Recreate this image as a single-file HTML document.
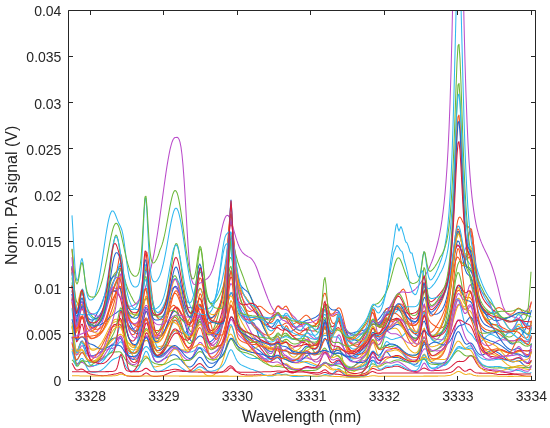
<!DOCTYPE html><html><head><meta charset="utf-8"><style>html,body{margin:0;padding:0;background:#fff;width:550px;height:428px;overflow:hidden}</style></head><body><svg width="550" height="428" viewBox="0 0 550 428" style="position:absolute;left:0;top:0"><defs><clipPath id="c"><rect x="68.5" y="10.4" width="466.79999999999995" height="369.6"/></clipPath></defs><g clip-path="url(#c)" fill="none" stroke-width="1.05" stroke-linejoin="round"><path stroke="#1F66D0" d="M72 336.7l1.2 4.7 1.1 6.2 1.2 3.7 1.1 0.5 1.2 -1.9 1.1 -3.1 1.2 -3.2 1.1 -2.3 1.2 -0.4 1.1 1.8 1.2 3 1.1 3.3 1.2 2.8 1.1 2.1 1.2 1.2 1.1 0.6 1.2 0.1 1.1 -0.1 1.2 -0.3 1.2 -0.4 1.1 -0.5 1.2 -0.6 1.1 -0.7 1.2 -0.7 1.1 -0.9 1.2 -1 1.1 -1.2 1.2 -1.3 1.1 -1.4 1.2 -1.6 1.1 -1.5 1.2 -1.6 1.1 -1.3 1.2 -1.2 1.1 -0.8 1.2 -0.5 1.1 -0.1 1.2 0 1.1 0 1.2 -0.2 1.1 -0.1 1.2 0.4 1.1 1.6 1.2 2.9 1.1 3.5 1.2 3.6 1.1 3 1.2 2.3 1.1 1.6 1.2 1.2 1.1 0.7 1.2 0.5 1.1 0.3 1.2 0.2 1.1 -0.2 1.2 -0.5 1.2 -1 1.1 -1.7 1.2 -2.5 1.1 -3.3 1.2 -4 1.1 -4.2 1.2 -3.5 1.1 -2 1.2 0.3 1.1 2.6 1.2 4.2 1.1 4.6 1.2 4.4 1.1 3.6 1.2 2.7 1.1 1.7 1.2 1 1.1 0.3 1.2 -0.1 1.1 -0.5 1.2 -0.6 1.1 -0.8 1.2 -0.7 1.1 -0.6 1.2 -0.6 1.1 -0.6 1.2 -0.5 1.1 -0.6 1.2 -0.6 1.1 -0.5 1.2 -0.5 1.1 -0.2 1.2 0 1.1 0.4 1.2 0.6 1.1 1 1.2 1.2 1.1 1.3 1.2 1.3 1.2 1.4 1.1 1.3 1.2 1.2 1.1 1 1.2 0.8 1.1 0.5 1.2 0.3 1.1 -0.1 1.2 -0.6 1.1 -0.9 1.2 -1.3 1.1 -1.7 1.2 -1.8 1.1 -1.6 1.2 -1.3 1.1 -0.4 1.2 0.4 1.1 1.2 1.2 1.7 1.1 1.8 1.2 1.7 1.1 1.5 1.2 1.1 1.1 0.7 1.2 0.2 1.1 -0.2 1.2 -0.5 1.1 -0.8 1.2 -1.1 1.1 -1.4 1.2 -1.6 1.1 -1.9 1.2 -2.2 1.1 -2.5 1.2 -2.9 1.1 -3.3 1.2 -3.9 1.2 -4.6 1.1 -5.3 1.2 -5.6 1.1 -5.4 1.2 -4.5 1.1 -2.5 1.2 -0.3 1.1 1.4 1.2 2.4 1.1 2.6 1.2 2.4 1.1 2.1 1.2 1.7 1.1 1.5 1.2 1.5 1.1 1.4 1.2 1.5 1.1 1.5 1.2 1.5 1.1 1.4 1.2 1.5 1.1 1.3 1.2 1.2 1.1 1.1 1.2 1 1.1 0.9 1.2 0.8 1.1 0.8 1.2 0.7 1.1 0.7 1.2 0.9 1.1 0.9 1.2 1 1.1 1 1.2 1.1 1.1 1 1.2 1 1.1 0.8 1.2 0.8 1.2 0.6 1.1 0.5 1.2 0.2 1.1 -0.2 1.2 -0.6 1.1 -0.8 1.2 -0.6 1.1 0.2 1.2 1.1 1.1 1.5 1.2 1.5 1.1 1.1 1.2 0.7 1.1 0.6 1.2 0.5 1.1 0.8 1.2 0.9 1.1 0.8 1.2 0.8 1.1 0.6 1.2 0.5 1.1 0.3 1.2 0.3 1.1 0.1 1.2 0.1 1.1 -0.1 1.2 -0.2 1.1 -0.3 1.2 -0.5 1.1 -0.6 1.2 -0.5 1.1 -0.4 1.2 -0.2 1.1 0.2 1.2 0.3 1.1 0.3 1.2 0.3 1.2 0.3 1.1 0.1 1.2 0 1.1 -0.1 1.2 -0.3 1.1 -0.5 1.2 -0.8 1.1 -1 1.2 -1.2 1.1 -1.3 1.2 -0.9 1.1 -0.3 1.2 0.5 1.1 0.9 1.2 1 1.1 0.7 1.2 0.3 1.1 -0.2 1.2 -0.6 1.1 -1 1.2 -1.1 1.1 -1 1.2 -0.7 1.1 0 1.2 0.5 1.1 1 1.2 1.2 1.1 1.3 1.2 1.1 1.1 1 1.2 0.7 1.1 0.5 1.2 0.2 1.1 0.1 1.2 0 1.1 -0.1 1.2 -0.3 1.1 -0.2 1.2 -0.4 1.2 -0.3 1.1 -0.4 1.2 -0.4 1.1 -0.4 1.2 -0.4 1.1 -0.3 1.2 -0.4 1.1 -0.5 1.2 -0.5 1.1 -0.8 1.2 -0.8 1.1 -1 1.2 -0.9 1.1 -0.3 1.2 0.3 1.1 0.9 1.2 0.9 1.1 0.8 1.2 0.3 1.1 -0.4 1.2 -1.2 1.1 -2 1.2 -2.6 1.1 -2.8 1.2 -2.2 1.1 -0.8 1.2 0.8 1.1 1.5 1.2 1.6 1.1 1.2 1.2 0.6 1.1 0.3 1.2 0 1.1 -0.1 1.2 0 1.1 0.2 1.2 0.2 1.2 0.4 1.1 0.5 1.2 0.6 1.1 0.7 1.2 0.6 1.1 0.7 1.2 0.6 1.1 0.6 1.2 0.5 1.1 0.4 1.2 0.4 1.1 0.3 1.2 0.2 1.1 0 1.2 -0.3 1.1 -0.9 1.2 -1.8 1.1 -3.3 1.2 -4.7 1.1 -5.5 1.2 -4.7 1.1 -1.4 1.2 2.6 1.1 5 1.2 5.1 1.1 3.9 1.2 2.5 1.1 1.3 1.2 0.6 1.1 0.2 1.2 0.1 1.1 0.1 1.2 0.1 1.1 0 1.2 0.1 1.1 0 1.2 -0.1 1.1 -0.2 1.2 -0.4 1.2 -0.6 1.1 -1 1.2 -1.5 1.1 -2 1.2 -2.6 1.1 -3.3 1.2 -3.7 1.1 -4.1 1.2 -4.1 1.1 -3.7 1.2 -2.8 1.1 -1.5 1.2 0.1 1.1 1.5 1.2 2.4 1.1 2.6 1.2 2.5 1.1 2 1.2 1.1 1.1 0.3 1.2 -0.4 1.1 -0.5 1.2 -0.4 1.1 0.4 1.2 1.1 1.1 1.9 1.2 2.1 1.1 2.1 1.2 1.7 1.1 1.4 1.2 0.8 1.1 0.5 1.2 0 1.1 -0.2 1.2 -0.5 1.1 -0.6 1.2 -0.8 1.2 -0.7 1.1 -0.6 1.2 -0.5 1.1 -0.3 1.2 0 1.1 0.1 1.2 0.3 1.1 0.3 1.2 0.6 1.1 0.6 1.2 0.8 1.1 0.8 1.2 1 1.1 1 1.2 0.9 1.1 1 1.2 0.9 1.1 0.8 1.2 0.7 1.1 0.6 1.2 0.5 1.1 0.2 1.2 0.1 1.1 -0.2 1.2 -0.3 1.1 -0.3 1.2 -0.3 1.1 0.1 1.2 0.5 1.1 1 1.2 1.1 1.1 1.1 1.2 1.1 1.1 0.8 1.2 0.6 1.1 0.5 1.2 0.1 1.1 -0.3 1.2 -0.6"/><path stroke="#F5561C" d="M72 301.8l1.2 8.6 1.1 11.5 1.2 7.5 1.1 2.1 1.2 -2 1.1 -3.9 1.2 -4.3 1.1 -3 1.2 -0.5 1.1 2.2 1.2 4 1.1 4.3 1.2 3.8 1.1 2.8 1.2 1.8 1.1 1 1.2 0.5 1.1 0 1.2 -0.1 1.2 -0.3 1.1 -0.5 1.2 -0.6 1.1 -0.8 1.2 -0.9 1.1 -1.3 1.2 -1.4 1.1 -1.7 1.2 -2.1 1.1 -2.2 1.2 -2.6 1.1 -2.8 1.2 -3 1.1 -3 1.2 -3.1 1.1 -3.3 1.2 -3.6 1.1 -4.1 1.2 -4.9 1.1 -5.2 1.2 -4 1.1 -0.9 1.2 3.3 1.1 6.4 1.2 8.5 1.1 8.8 1.2 7.9 1.1 6.6 1.2 5.2 1.1 4.1 1.2 3 1.1 2.3 1.2 1.7 1.1 1.3 1.2 0.7 1.1 0.2 1.2 -0.6 1.2 -1.4 1.1 -2.4 1.2 -3.7 1.1 -5 1.2 -5.9 1.1 -6.3 1.2 -5.4 1.1 -3.4 1.2 -0.3 1.1 2.7 1.2 4.9 1.1 5.6 1.2 5.4 1.1 4.6 1.2 3.4 1.1 2.3 1.2 1.2 1.1 0.5 1.2 -0.1 1.1 -0.6 1.2 -1 1.1 -1.6 1.2 -1.9 1.1 -2.3 1.2 -2.7 1.1 -3.1 1.2 -3.4 1.1 -3.5 1.2 -3.5 1.1 -3.3 1.2 -3 1.1 -2.5 1.2 -1.7 1.1 -0.8 1.2 0 1.1 0.8 1.2 1.4 1.1 1.7 1.2 2 1.2 2.1 1.1 2.1 1.2 1.9 1.1 1.6 1.2 1.4 1.1 0.9 1.2 0.4 1.1 -0.4 1.2 -1.1 1.1 -2.1 1.2 -2.8 1.1 -3.5 1.2 -3.7 1.1 -3.2 1.2 -1.9 1.1 0.1 1.2 2.5 1.1 4.6 1.2 5.9 1.1 6.4 1.2 6.2 1.1 5.4 1.2 4.6 1.1 3.4 1.2 2.5 1.1 1.6 1.2 0.8 1.1 0.2 1.2 -0.4 1.1 -0.8 1.2 -1.3 1.1 -1.7 1.2 -2.1 1.1 -2.4 1.2 -2.9 1.1 -3.3 1.2 -3.9 1.2 -4.6 1.1 -5.1 1.2 -5.4 1.1 -5 1.2 -3.6 1.1 -1.4 1.2 1.4 1.1 3.4 1.2 4.5 1.1 4.6 1.2 4.3 1.1 3.6 1.2 3.1 1.1 2.5 1.2 2.1 1.1 1.8 1.2 1.6 1.1 1.3 1.2 1.2 1.1 0.8 1.2 0.8 1.1 0.4 1.2 0.2 1.1 0.1 1.2 -0.1 1.1 -0.2 1.2 -0.3 1.1 -0.4 1.2 -0.3 1.1 -0.3 1.2 -0.1 1.1 0 1.2 0.2 1.1 0.3 1.2 0.3 1.1 0.6 1.2 0.5 1.1 0.5 1.2 0.4 1.2 0.4 1.1 0.2 1.2 0 1.1 -0.2 1.2 -0.6 1.1 -0.9 1.2 -1 1.1 -0.8 1.2 -0.7 1.1 -1.1 1.2 -2.1 1.1 -3.1 1.2 -3.7 1.1 -3.1 1.2 -1.4 1.1 0.9 1.2 2.4 1.1 2.6 1.2 2.1 1.1 1.3 1.2 0.7 1.1 0.1 1.2 -0.2 1.1 -0.4 1.2 -0.5 1.1 -0.5 1.2 -0.7 1.1 -0.8 1.2 -0.9 1.1 -0.9 1.2 -0.9 1.1 -1 1.2 -0.7 1.1 -0.6 1.2 -0.4 1.1 -0.3 1.2 -0.4 1.2 -0.4 1.1 -0.6 1.2 -0.6 1.1 -0.8 1.2 -1.1 1.1 -1.4 1.2 -1.9 1.1 -2.3 1.2 -2.6 1.1 -2.6 1.2 -2 1.1 -0.8 1.2 0.5 1.1 1.2 1.2 1.5 1.1 1.1 1.2 0.5 1.1 -0.1 1.2 -0.8 1.1 -1.1 1.2 -1.5 1.1 -1.6 1.2 -1.1 1.1 -0.2 1.2 1 1.1 2.5 1.2 4 1.1 4.8 1.2 5 1.1 4.8 1.2 4.2 1.1 3.3 1.2 2.6 1.1 1.9 1.2 1.4 1.1 0.9 1.2 0.5 1.1 0.2 1.2 -0.1 1.2 -0.4 1.1 -0.5 1.2 -0.9 1.1 -1 1.2 -1 1.1 -1.2 1.2 -1.4 1.1 -1.7 1.2 -2 1.1 -2.5 1.2 -3 1.1 -3.2 1.2 -3 1.1 -2.1 1.2 -0.6 1.1 0.5 1.2 0.9 1.1 0.7 1.2 0.2 1.1 -0.3 1.2 -0.8 1.1 -1.1 1.2 -1.3 1.1 -1.3 1.2 -1.3 1.1 -0.9 1.2 -0.7 1.1 -0.4 1.2 -0.3 1.1 -0.4 1.2 -0.3 1.1 -0.1 1.2 -0.1 1.1 0.3 1.2 0.4 1.1 0.8 1.2 1 1.2 1.1 1.1 1.3 1.2 1.4 1.1 1.2 1.2 1.2 1.1 1 1.2 0.8 1.1 0.7 1.2 0.5 1.1 0.3 1.2 0.1 1.1 -0.1 1.2 -0.3 1.1 -0.3 1.2 -0.6 1.1 -0.8 1.2 -1.4 1.1 -2 1.2 -2.7 1.1 -3 1.2 -2.5 1.1 -0.7 1.2 1.3 1.1 2.6 1.2 2.7 1.1 2.4 1.2 1.7 1.1 1.4 1.2 1 1.1 0.9 1.2 0.8 1.1 0.7 1.2 0.7 1.1 0.5 1.2 0.3 1.1 0 1.2 -0.2 1.1 -0.6 1.2 -0.9 1.2 -1.3 1.1 -1.7 1.2 -2.2 1.1 -2.7 1.2 -3.2 1.1 -3.7 1.2 -4 1.1 -4.2 1.2 -4 1.1 -3.7 1.2 -3 1.1 -1.8 1.2 -0.6 1.1 0.7 1.2 1.4 1.1 1.8 1.2 1.6 1.1 1.2 1.2 0.7 1.1 0.2 1.2 -0.2 1.1 -0.1 1.2 0.5 1.1 1.5 1.2 2.6 1.1 3.6 1.2 3.9 1.1 3.9 1.2 3.6 1.1 3.1 1.2 2.5 1.1 2.1 1.2 1.5 1.1 1.2 1.2 0.9 1.1 0.8 1.2 0.5 1.2 0.4 1.1 0.3 1.2 0.3 1.1 0.2 1.2 0.2 1.1 0.2 1.2 0.3 1.1 0.4 1.2 0.5 1.1 0.6 1.2 0.8 1.1 0.8 1.2 1 1.1 1 1.2 1 1.1 0.9 1.2 0.8 1.1 0.7 1.2 0.4 1.1 0.4 1.2 0.2 1.1 0 1.2 -0.1 1.1 -0.3 1.2 -0.5 1.1 -0.6 1.2 -0.5 1.1 -0.1 1.2 0.2 1.1 0.5 1.2 0.6 1.1 0.6 1.2 0.5 1.1 0.3 1.2 0.1 1.1 -0.2 1.2 -0.8 1.1 -1.8 1.2 -2.6"/><path stroke="#F2B01E" d="M72 322.4l1.2 8.8 1.1 11.9 1.2 8.2 1.1 3.3 1.2 0 1.1 -1.4 1.2 -1.8 1.1 -1.2 1.2 0 1.1 1.4 1.2 2.2 1.1 2.4 1.2 2.1 1.1 1.5 1.2 0.9 1.1 0.5 1.2 0.1 1.1 -0.2 1.2 -0.4 1.2 -0.6 1.1 -0.8 1.2 -1 1.1 -1.3 1.2 -1.5 1.1 -1.8 1.2 -2.2 1.1 -2.5 1.2 -2.9 1.1 -3.2 1.2 -3.5 1.1 -3.7 1.2 -3.7 1.1 -3.6 1.2 -3.3 1.1 -2.6 1.2 -1.9 1.1 -1 1.2 -0.4 1.1 0 1.2 0.2 1.1 0.6 1.2 1.3 1.1 2.6 1.2 4.1 1.1 4.8 1.2 4.6 1.1 3.9 1.2 3.2 1.1 2.7 1.2 2.4 1.1 2.2 1.2 2.3 1.1 2.1 1.2 1.9 1.1 1.5 1.2 1.3 1.2 0.8 1.1 0.3 1.2 -0.3 1.1 -0.9 1.2 -1.3 1.1 -1.5 1.2 -1.3 1.1 -0.6 1.2 0.5 1.1 1.5 1.2 2.1 1.1 2.2 1.2 1.9 1.1 1.5 1.2 0.8 1.1 0.3 1.2 -0.1 1.1 -0.3 1.2 -0.3 1.1 -0.3 1.2 -0.2 1.1 -0.3 1.2 -0.6 1.1 -0.9 1.2 -1.2 1.1 -1.7 1.2 -1.9 1.1 -2 1.2 -2.1 1.1 -2 1.2 -1.8 1.1 -1.3 1.2 -0.7 1.1 0 1.2 0.6 1.1 1.2 1.2 1.7 1.1 2.1 1.2 2.2 1.2 2.2 1.1 2.1 1.2 2.1 1.1 1.8 1.2 1.7 1.1 1.4 1.2 1.1 1.1 0.9 1.2 0.5 1.1 0.2 1.2 -0.1 1.1 -0.2 1.2 -0.4 1.1 -0.4 1.2 -0.3 1.1 0.1 1.2 0.6 1.1 0.9 1.2 1.1 1.1 1.2 1.2 1.1 1.1 0.7 1.2 0.4 1.1 0.1 1.2 0.1 1.1 -0.2 1.2 -0.2 1.1 -0.5 1.2 -0.8 1.1 -1.1 1.2 -1.4 1.1 -1.5 1.2 -1.8 1.1 -2.1 1.2 -2.5 1.1 -3.1 1.2 -3.9 1.2 -4.8 1.1 -5.7 1.2 -6.3 1.1 -6.2 1.2 -4.9 1.1 -2.5 1.2 0.4 1.1 2.7 1.2 3.8 1.1 3.8 1.2 3.2 1.1 2.4 1.2 1.8 1.1 1.2 1.2 0.9 1.1 0.7 1.2 0.7 1.1 0.7 1.2 0.6 1.1 0.6 1.2 0.7 1.1 0.5 1.2 0.5 1.1 0.4 1.2 0.4 1.1 0.3 1.2 0.4 1.1 0.4 1.2 0.4 1.1 0.7 1.2 0.8 1.1 1 1.2 1.2 1.1 1.3 1.2 1.3 1.1 1.3 1.2 1.3 1.1 1.2 1.2 1 1.2 0.8 1.1 0.6 1.2 0.3 1.1 -0.1 1.2 -0.4 1.1 -0.7 1.2 -0.6 1.1 -0.2 1.2 0.2 1.1 0.4 1.2 0 1.1 -0.3 1.2 -0.6 1.1 -0.5 1.2 -0.2 1.1 0.5 1.2 0.9 1.1 1 1.2 0.8 1.1 0.7 1.2 0.4 1.1 0.4 1.2 0.2 1.1 0.1 1.2 0.1 1.1 0 1.2 -0.1 1.1 -0.3 1.2 -0.2 1.1 -0.4 1.2 -0.3 1.1 -0.3 1.2 0 1.1 0.1 1.2 0.2 1.1 0.3 1.2 0.2 1.2 0.2 1.1 0.1 1.2 0 1.1 -0.1 1.2 -0.2 1.1 -0.5 1.2 -0.7 1.1 -0.9 1.2 -1.2 1.1 -1.2 1.2 -0.8 1.1 -0.2 1.2 0.7 1.1 1.2 1.2 1.4 1.1 1.3 1.2 0.9 1.1 0.7 1.2 0.3 1.1 0.2 1.2 0.1 1.1 0.1 1.2 0.1 1.1 0.3 1.2 0.5 1.1 0.5 1.2 0.5 1.1 0.5 1.2 0.4 1.1 0.3 1.2 0.2 1.1 0 1.2 0 1.1 -0.2 1.2 -0.3 1.1 -0.3 1.2 -0.5 1.1 -0.5 1.2 -0.7 1.2 -0.7 1.1 -0.7 1.2 -0.9 1.1 -1 1.2 -1 1.1 -1.1 1.2 -1.3 1.1 -1.7 1.2 -2.3 1.1 -3.2 1.2 -4.1 1.1 -4.5 1.2 -3.8 1.1 -1.9 1.2 0.9 1.1 3.1 1.2 3.9 1.1 3.5 1.2 2.4 1.1 1.2 1.2 0.2 1.1 -0.6 1.2 -1.2 1.1 -1.4 1.2 -1.4 1.1 -0.9 1.2 -0.3 1.1 -0.1 1.2 -0.1 1.1 -0.2 1.2 -0.3 1.1 -0.3 1.2 -0.3 1.1 -0.2 1.2 0.2 1.1 0.4 1.2 0.6 1.2 0.8 1.1 0.9 1.2 1.1 1.1 1.1 1.2 1 1.1 1 1.2 0.9 1.1 0.8 1.2 0.8 1.1 0.6 1.2 0.6 1.1 0.4 1.2 0.5 1.1 0.3 1.2 0.2 1.1 -0.1 1.2 -0.4 1.1 -1.1 1.2 -1.8 1.1 -2.2 1.2 -1.8 1.1 -0.6 1.2 1.1 1.1 2.1 1.2 2 1.1 1.4 1.2 0.6 1.1 0.1 1.2 -0.3 1.1 -0.6 1.2 -0.6 1.1 -0.8 1.2 -0.8 1.1 -0.9 1.2 -0.9 1.1 -1 1.2 -1.2 1.1 -1.4 1.2 -1.5 1.2 -2 1.1 -2.5 1.2 -3.2 1.1 -3.8 1.2 -4.6 1.1 -5.4 1.2 -6.1 1.1 -6.4 1.2 -6.3 1.1 -5.7 1.2 -4.3 1.1 -2.5 1.2 -0.3 1.1 1.4 1.2 2.5 1.1 2.6 1.2 1.8 1.1 0.2 1.2 -1.4 1.1 -3.1 1.2 -3.9 1.1 -3.7 1.2 -1.9 1.1 1.1 1.2 4.4 1.1 7 1.2 8.1 1.1 8.1 1.2 7.4 1.1 6.1 1.2 4.7 1.1 3.5 1.2 2.6 1.1 1.8 1.2 1.3 1.1 1.1 1.2 0.8 1.2 0.8 1.1 0.6 1.2 0.6 1.1 0.6 1.2 0.5 1.1 0.5 1.2 0.5 1.1 0.5 1.2 0.6 1.1 0.7 1.2 0.9 1.1 0.9 1.2 1 1.1 1.1 1.2 1.1 1.1 1 1.2 1 1.1 0.9 1.2 0.7 1.1 0.6 1.2 0.5 1.1 0.3 1.2 0 1.1 -0.1 1.2 -0.2 1.1 -0.3 1.2 -0.4 1.1 -0.2 1.2 -0.1 1.1 0.1 1.2 0.2 1.1 0.1 1.2 0.2 1.1 0 1.2 0 1.1 -0.2 1.2 -0.7 1.1 -1.7 1.2 -2.6"/><path stroke="#BA4DCB" d="M72 293.9l1.2 10.8 1.1 14.1 1.2 8.8 1.1 1.9 1.2 -3.1 1.1 -5.8 1.2 -6.5 1.1 -5.1 1.2 -2 1.1 1.5 1.2 3.7 1.1 4.4 1.2 4.1 1.1 3.5 1.2 2.9 1.1 2.1 1.2 1.5 1.1 1.1 1.2 0.5 1.2 -0.1 1.1 -0.4 1.2 -1 1.1 -1.4 1.2 -1.8 1.1 -2.2 1.2 -2.7 1.1 -3 1.2 -3.4 1.1 -3.8 1.2 -4 1.1 -4.2 1.2 -4.1 1.1 -4 1.2 -3.5 1.1 -2.8 1.2 -2.3 1.1 -1.8 1.2 -1.9 1.1 -2.4 1.2 -3.1 1.1 -3 1.2 -1.2 1.1 3 1.2 7.6 1.1 10.3 1.2 10.3 1.1 8.7 1.2 6.3 1.1 4.2 1.2 2.3 1.1 1.3 1.2 0.5 1.1 0 1.2 -0.3 1.1 -0.9 1.2 -1.2 1.2 -1.7 1.1 -2.4 1.2 -3.2 1.1 -3.9 1.2 -4.8 1.1 -4.8 1.2 -4.2 1.1 -2.8 1.2 -0.5 1.1 1.7 1.2 3.1 1.1 3.6 1.2 3.4 1.1 2.6 1.2 1.8 1.1 1 1.2 0.2 1.1 -0.3 1.2 -0.7 1.1 -1.1 1.2 -1.4 1.1 -1.6 1.2 -1.8 1.1 -2.2 1.2 -2.4 1.1 -2.5 1.2 -2.6 1.1 -2.8 1.2 -2.7 1.1 -2.4 1.2 -1.9 1.1 -1.4 1.2 -0.5 1.1 0.4 1.2 1.3 1.1 2 1.2 2.5 1.1 2.7 1.2 2.8 1.2 2.5 1.1 2.1 1.2 1.7 1.1 1.2 1.2 0.8 1.1 0.4 1.2 0.1 1.1 0 1.2 -0.1 1.1 0.1 1.2 0.1 1.1 0.3 1.2 0.4 1.1 0.7 1.2 1.4 1.1 2.3 1.2 3.4 1.1 4.3 1.2 4.7 1.1 4.7 1.2 4.3 1.1 3.6 1.2 2.7 1.1 1.8 1.2 1 1.1 0.3 1.2 -0.5 1.1 -1.1 1.2 -1.6 1.1 -2.2 1.2 -2.8 1.1 -3.3 1.2 -4 1.1 -4.7 1.2 -5.6 1.1 -7 1.2 -8.8 1.2 -10.9 1.1 -12.9 1.2 -14.3 1.1 -13.7 1.2 -10.5 1.1 -4.5 1.2 2.6 1.1 7.9 1.2 10.6 1.1 10.6 1.2 9.3 1.1 7.2 1.2 5.4 1.1 4 1.2 3.1 1.1 2.4 1.2 2.1 1.1 1.8 1.2 1.7 1.1 1.5 1.2 1.4 1.1 1.2 1.2 1.1 1.1 1 1.2 0.8 1.1 0.8 1.2 0.7 1.1 0.6 1.2 0.6 1.1 0.7 1.2 0.7 1.1 0.7 1.2 0.7 1.1 0.6 1.2 0.7 1.1 0.5 1.2 0.2 1.1 0.1 1.2 -0.2 1.2 -0.4 1.1 -0.8 1.2 -1.2 1.1 -1.8 1.2 -2.3 1.1 -2.7 1.2 -2.3 1.1 -1.1 1.2 0.4 1.1 1.1 1.2 1.1 1.1 0.7 1.2 0.3 1.1 0.1 1.2 0.2 1.1 0.6 1.2 1 1.1 1.1 1.2 1.1 1.1 1.2 1.2 1.2 1.1 1 1.2 1.4 1.1 1.3 1.2 1.5 1.1 1.6 1.2 1.4 1.1 1.4 1.2 1.2 1.1 1.1 1.2 1.1 1.1 1.1 1.2 1.3 1.1 1.4 1.2 1.6 1.1 1.4 1.2 1.1 1.2 1 1.1 0.7 1.2 0.4 1.1 0 1.2 -0.3 1.1 -0.9 1.2 -1.6 1.1 -2.2 1.2 -2.9 1.1 -2.9 1.2 -2.4 1.1 -0.9 1.2 0.8 1.1 1.9 1.2 2.1 1.1 1.5 1.2 0.5 1.1 -0.7 1.2 -1.6 1.1 -2.4 1.2 -2.5 1.1 -2.3 1.2 -1.5 1.1 -0.1 1.2 1.3 1.1 2.6 1.2 3.1 1.1 3.3 1.2 3.1 1.1 2.6 1.2 2.2 1.1 1.6 1.2 1.2 1.1 0.8 1.2 0.5 1.1 0.3 1.2 0.2 1.1 -0.1 1.2 -0.2 1.2 -0.3 1.1 -0.4 1.2 -0.5 1.1 -0.5 1.2 -0.6 1.1 -0.7 1.2 -1 1.1 -1.5 1.2 -2.6 1.1 -3.8 1.2 -5.4 1.1 -5.9 1.2 -5.3 1.1 -2.2 1.2 2 1.1 5.5 1.2 6.4 1.1 5.7 1.2 4 1.1 2.2 1.2 0.7 1.1 -0.6 1.2 -1.4 1.1 -2 1.2 -2 1.1 -1.8 1.2 -1.4 1.1 -1.3 1.2 -1.4 1.1 -1.4 1.2 -1.5 1.1 -1.5 1.2 -1.3 1.1 -1.1 1.2 -0.6 1.1 -0.4 1.2 0 1.2 0.3 1.1 0.5 1.2 0.6 1.1 0.7 1.2 0.7 1.1 0.7 1.2 0.6 1.1 0.4 1.2 0.4 1.1 0.2 1.2 -0.1 1.1 -0.2 1.2 -0.5 1.1 -0.6 1.2 -1.1 1.1 -1.8 1.2 -3 1.1 -4.6 1.2 -6.4 1.1 -7.3 1.2 -6.3 1.1 -2.6 1.2 2.1 1.1 4.7 1.2 4.9 1.1 3.5 1.2 1.8 1.1 0.5 1.2 -0.4 1.1 -0.8 1.2 -1.1 1.1 -1.2 1.2 -1.3 1.1 -1.4 1.2 -1.4 1.1 -1.6 1.2 -1.8 1.1 -1.8 1.2 -2.1 1.2 -2.6 1.1 -2.9 1.2 -3.2 1.1 -3.9 1.2 -4.4 1.1 -5.1 1.2 -5.3 1.1 -5.4 1.2 -5.1 1.1 -4.2 1.2 -3 1.1 -1.4 1.2 0.3 1.1 1.7 1.2 2.1 1.1 1.8 1.2 0.5 1.1 -1.2 1.2 -3.1 1.1 -4.8 1.2 -5.6 1.1 -4.9 1.2 -2.4 1.1 1.4 1.2 5.7 1.1 8.7 1.2 10.1 1.1 9.9 1.2 8.7 1.1 6.9 1.2 5 1.1 3.4 1.2 2.1 1.1 1.3 1.2 1 1.1 1.2 1.2 1.5 1.2 1.9 1.1 2.3 1.2 2.6 1.1 2.8 1.2 2.9 1.1 2.8 1.2 2.7 1.1 2.6 1.2 2.4 1.1 2.2 1.2 2.1 1.1 2 1.2 1.7 1.1 1.6 1.2 1.2 1.1 1 1.2 0.6 1.1 0.3 1.2 -0.1 1.1 -0.4 1.2 -0.8 1.1 -1.3 1.2 -1.4 1.1 -1.8 1.2 -1.9 1.1 -2.1 1.2 -2 1.1 -1.9 1.2 -1.6 1.1 -1.5 1.2 -1.2 1.1 -1.3 1.2 -1.1 1.1 -1.1 1.2 -1.1 1.1 -1.2 1.2 -1.4 1.1 -2.2 1.2 -2.8"/><path stroke="#6DB83A" d="M72 268.8l1.2 15.3 1.1 20.4 1.2 13.9 1.1 4.9 1.2 -1.6 1.1 -4.9 1.2 -5.7 1.1 -4.6 1.2 -1.7 1.1 1.7 1.2 4 1.1 4.7 1.2 4.1 1.1 3 1.2 1.7 1.1 0.6 1.2 -0.1 1.1 -0.6 1.2 -0.9 1.2 -1.1 1.1 -1.2 1.2 -1.5 1.1 -1.5 1.2 -1.9 1.1 -2.2 1.2 -2.5 1.1 -2.9 1.2 -3.3 1.1 -3.7 1.2 -4 1.1 -4.2 1.2 -4.4 1.1 -4.1 1.2 -3.8 1.1 -3.1 1.2 -2.3 1.1 -1.6 1.2 -1.3 1.1 -1.3 1.2 -1.4 1.1 -1.3 1.2 0.3 1.1 3.3 1.2 7 1.1 8.9 1.2 8.9 1.1 7.4 1.2 5.6 1.1 3.8 1.2 2.4 1.1 1.2 1.2 0.5 1.1 -0.2 1.2 -0.8 1.1 -1.5 1.2 -1.9 1.2 -1.9 1.1 -1.3 1.2 -0.8 1.1 -1.2 1.2 -2.1 1.1 -3 1.2 -3 1.1 -1.7 1.2 0.8 1.1 3.6 1.2 5.3 1.1 6.2 1.2 5.9 1.1 5 1.2 3.8 1.1 2.4 1.2 1.2 1.1 0.1 1.2 -0.9 1.1 -1.7 1.2 -2.5 1.1 -3.2 1.2 -3.9 1.1 -4.5 1.2 -5 1.1 -5.4 1.2 -5.6 1.1 -5.7 1.2 -5.5 1.1 -4.9 1.2 -4 1.1 -2.8 1.2 -1.3 1.1 0.4 1.2 2.1 1.1 3.5 1.2 4.6 1.1 5.4 1.2 5.8 1.2 5.8 1.1 5.7 1.2 5.4 1.1 4.9 1.2 4.3 1.1 3.6 1.2 2.7 1.1 1.7 1.2 0.7 1.1 -0.4 1.2 -1.4 1.1 -2.3 1.2 -2.9 1.1 -2.9 1.2 -2.3 1.1 -1 1.2 0.6 1.1 2.2 1.2 3 1.1 3.2 1.2 3 1.1 2.2 1.2 1.3 1.1 0.4 1.2 -0.5 1.1 -1.3 1.2 -2 1.1 -2.5 1.2 -2.9 1.1 -3.4 1.2 -3.6 1.1 -4 1.2 -4.4 1.1 -4.7 1.2 -5.2 1.1 -6 1.2 -6.8 1.2 -8 1.1 -8.9 1.2 -9.4 1.1 -9 1.2 -7.3 1.1 -4 1.2 -0.2 1.1 2.9 1.2 4.6 1.1 5 1.2 4.6 1.1 4 1.2 3.5 1.1 3.2 1.2 3 1.1 3 1.2 3.2 1.1 3.2 1.2 3.2 1.1 3.3 1.2 3.1 1.1 3.1 1.2 3 1.1 2.8 1.2 2.8 1.1 2.5 1.2 2.6 1.1 2.4 1.2 2.4 1.1 2.6 1.2 2.6 1.1 2.7 1.2 2.7 1.1 2.9 1.2 2.7 1.1 2.6 1.2 2.4 1.1 2.2 1.2 1.9 1.2 1.5 1.1 0.9 1.2 0.2 1.1 -0.7 1.2 -1.7 1.1 -2.2 1.2 -2 1.1 -0.7 1.2 1 1.1 1.6 1.2 1.2 1.1 0.2 1.2 -0.6 1.1 -0.9 1.2 -0.5 1.1 0.3 1.2 0.8 1.1 1 1.2 0.8 1.1 0.4 1.2 0.3 1.1 0.1 1.2 0.1 1.1 0 1.2 0.1 1.1 0 1.2 0 1.1 0 1.2 -0.1 1.1 -0.1 1.2 0.1 1.1 0.5 1.2 1 1.1 1.6 1.2 1.9 1.1 2.1 1.2 2 1.2 1.9 1.1 1.6 1.2 1.3 1.1 1 1.2 0.6 1.1 0.1 1.2 -0.4 1.1 -1.2 1.2 -1.7 1.1 -1.7 1.2 -1.2 1.1 0.2 1.2 1.6 1.1 2.4 1.2 2.5 1.1 1.8 1.2 0.6 1.1 -0.6 1.2 -1.6 1.1 -2.4 1.2 -2.6 1.1 -2.3 1.2 -1 1.1 0.8 1.2 2.7 1.1 4.3 1.2 5 1.1 5 1.2 4.5 1.1 3.9 1.2 2.7 1.1 0.9 1.2 0.3 1.1 0.1 1.2 0 1.1 0 1.2 0 1.1 0 1.2 -0.1 1.2 -0.2 1.1 -0.3 1.2 -0.6 1.1 -1 1.2 -1.5 1.1 -1.9 1.2 -2.2 1.1 -3.1 1.2 -4.6 1.1 -6.5 1.2 -8.2 1.1 -9.1 1.2 -7.9 1.1 -3.8 1.2 1.7 1.1 5.6 1.2 6.7 1.1 5.4 1.2 3.3 1.1 0.9 1.2 -1 1.1 -2.7 1.2 -3.7 1.1 -4.3 1.2 -4.3 1.1 -3.7 1.2 -3 1.1 -2.8 1.2 -2.8 1.1 -3 1.2 -3.2 1.1 -3 1.2 -2.5 1.1 -1.7 1.2 -0.8 1.1 0.2 1.2 1.3 1.2 2 1.1 2.6 1.2 2.9 1.1 3.2 1.2 3.1 1.1 3 1.2 2.9 1.1 2.5 1.2 2.3 1.1 1.8 1.2 1.6 1.1 1.3 1.2 0.9 1.1 0.4 1.2 -0.2 1.1 -1.5 1.2 -3.7 1.1 -6.8 1.2 -10.2 1.1 -12.3 1.2 -10.6 1.1 -3.6 1.2 5.4 1.1 11 1.2 11.6 1.1 9.4 1.2 6.3 1.1 3.6 1.2 1.9 1.1 0.8 1.2 0.2 1.1 -0.3 1.2 -0.7 1.1 -1 1.2 -1.3 1.1 -1.7 1.2 -2.1 1.1 -2.5 1.2 -3.1 1.2 -3.8 1.1 -4.7 1.2 -5.7 1.1 -7 1.2 -8.3 1.1 -9.7 1.2 -10.6 1.1 -11.2 1.2 -11.1 1.1 -10 1.2 -7.8 1.1 -4.5 1.2 -0.7 1.1 2.7 1.2 5.3 1.1 6.6 1.2 6.9 1.1 6.2 1.2 5 1.1 3.7 1.2 2.6 1.1 1.8 1.2 1.9 1.1 2.5 1.2 3.6 1.1 4.5 1.2 4.9 1.1 4.9 1.2 4.6 1.1 4.1 1.2 3.5 1.1 2.8 1.2 2.4 1.1 2 1.2 1.8 1.1 1.5 1.2 1.2 1.2 1.1 1.1 1 1.2 0.8 1.1 0.7 1.2 0.6 1.1 0.5 1.2 0.5 1.1 0.7 1.2 0.7 1.1 0.9 1.2 1.2 1.1 1.3 1.2 1.4 1.1 1.4 1.2 1.5 1.1 1.1 1.2 1 1.1 0.7 1.2 0.4 1.1 0.1 1.2 -0.3 1.1 -0.6 1.2 -0.9 1.1 -1.3 1.2 -1.5 1.1 -1.6 1.2 -1.3 1.1 -0.8 1.2 -0.2 1.1 0.6 1.2 1 1.1 1 1.2 1.1 1.1 0.9 1.2 0.6 1.1 0 1.2 -1.4 1.1 -4.2 1.2 -6.8"/><path stroke="#2FB8F0" d="M72 348.7l1.2 3.8 1.1 4.8 1.2 2.9 1.1 0.4 1.2 -1.5 1.1 -2.4 1.2 -2.5 1.1 -1.8 1.2 -0.3 1.1 1 1.2 2.1 1.1 2.2 1.2 2 1.1 1.5 1.2 1 1.1 0.5 1.2 0.2 1.1 0.1 1.2 -0.1 1.2 -0.2 1.1 -0.2 1.2 -0.3 1.1 -0.4 1.2 -0.5 1.1 -0.5 1.2 -0.6 1.1 -0.7 1.2 -0.8 1.1 -0.9 1.2 -1 1.1 -1.2 1.2 -1.1 1.1 -1.2 1.2 -1.2 1.1 -1.1 1.2 -1.2 1.1 -1.1 1.2 -1.3 1.1 -1.4 1.2 -1.6 1.1 -1.5 1.2 -0.8 1.1 0.4 1.2 1.9 1.1 2.7 1.2 2.8 1.1 2.3 1.2 1.8 1.1 1.2 1.2 0.8 1.1 0.5 1.2 0.2 1.1 0.2 1.2 0.1 1.1 -0.1 1.2 -0.2 1.2 -0.4 1.1 -0.8 1.2 -1.1 1.1 -1.4 1.2 -1.8 1.1 -1.8 1.2 -1.6 1.1 -0.9 1.2 0 1.1 1 1.2 1.7 1.1 1.9 1.2 1.8 1.1 1.6 1.2 1.2 1.1 0.8 1.2 0.5 1.1 0.3 1.2 0.1 1.1 0 1.2 -0.2 1.1 -0.3 1.2 -0.5 1.1 -0.8 1.2 -1 1.1 -1.4 1.2 -1.8 1.1 -1.9 1.2 -1.6 1.1 -0.9 1.2 0 1.1 0.5 1.2 0.6 1.1 0.6 1.2 0.4 1.1 0.3 1.2 0.3 1.1 0.2 1.2 0.3 1.2 0.3 1.1 0.4 1.2 0.3 1.1 0.3 1.2 0.2 1.1 0.2 1.2 0 1.1 -0.1 1.2 -0.2 1.1 -0.5 1.2 -0.6 1.1 -0.8 1.2 -0.9 1.1 -0.8 1.2 -0.5 1.1 -0.2 1.2 0.4 1.1 0.8 1.2 1 1.1 1.1 1.2 1 1.1 0.8 1.2 0.5 1.1 0.3 1.2 0.1 1.1 -0.1 1.2 -0.3 1.1 -0.5 1.2 -0.5 1.1 -0.6 1.2 -0.6 1.1 -0.7 1.2 -0.9 1.1 -0.9 1.2 -1.2 1.1 -1.6 1.2 -2.2 1.2 -2.9 1.1 -3.7 1.2 -4.3 1.1 -4.1 1.2 -3 1.1 -0.8 1.2 1.8 1.1 3.8 1.2 4.7 1.1 4.6 1.2 4 1.1 3.2 1.2 2.4 1.1 1.9 1.2 1.4 1.1 1.1 1.2 1 1.1 0.9 1.2 0.8 1.1 0.6 1.2 0.6 1.1 0.4 1.2 0.3 1.1 0.3 1.2 0.2 1.1 0 1.2 0 1.1 0 1.2 -0.1 1.1 0 1.2 -0.1 1.1 0 1.2 0.1 1.1 0 1.2 0.1 1.1 0.1 1.2 0.2 1.1 0.1 1.2 0.1 1.2 0.1 1.1 -0.1 1.2 -0.2 1.1 -0.5 1.2 -0.9 1.1 -0.9 1.2 -0.8 1.1 -0.3 1.2 0.5 1.1 0.8 1.2 0.7 1.1 0.4 1.2 0 1.1 -0.1 1.2 0 1.1 0.3 1.2 0.4 1.1 0.4 1.2 0.4 1.1 0.3 1.2 0.2 1.1 0.2 1.2 0.2 1.1 0.1 1.2 0.2 1.1 0.2 1.2 0.3 1.1 0.3 1.2 0.2 1.1 0.3 1.2 0.4 1.1 0.3 1.2 0.4 1.1 0.5 1.2 0.4 1.1 0.5 1.2 0.5 1.2 0.4 1.1 0.3 1.2 0.3 1.1 0.2 1.2 0 1.1 -0.1 1.2 -0.4 1.1 -0.6 1.2 -0.7 1.1 -0.8 1.2 -0.6 1.1 -0.1 1.2 0.3 1.1 0.7 1.2 0.6 1.1 0.6 1.2 0.3 1.1 0.1 1.2 -0.2 1.1 -0.2 1.2 -0.3 1.1 -0.3 1.2 -0.2 1.1 0 1.2 0 1.1 0.2 1.2 0.3 1.1 0.4 1.2 0.3 1.1 0.3 1.2 0.4 1.1 0.4 1.2 0.4 1.1 0.4 1.2 0.3 1.1 0.3 1.2 0.2 1.1 0.2 1.2 0 1.2 0 1.1 -0.1 1.2 -0.3 1.1 -0.4 1.2 -0.5 1.1 -0.6 1.2 -0.8 1.1 -1 1.2 -1.1 1.1 -1.4 1.2 -1.4 1.1 -1.4 1.2 -1.1 1.1 -0.6 1.2 0 1.1 0.4 1.2 0.5 1.1 0.2 1.2 -0.4 1.1 -1 1.2 -1.8 1.1 -2.7 1.2 -3.3 1.1 -3.5 1.2 -2.8 1.1 -1.5 1.2 0.2 1.1 1 1.2 1.2 1.1 0.8 1.2 0.3 1.1 0.1 1.2 -0.1 1.1 0.1 1.2 0.4 1.1 0.8 1.2 1.2 1.2 1.5 1.1 1.7 1.2 1.8 1.1 1.9 1.2 1.8 1.1 1.7 1.2 1.6 1.1 1.4 1.2 1.3 1.1 1 1.2 0.9 1.1 0.8 1.2 0.6 1.1 0.4 1.2 0.3 1.1 0 1.2 -0.5 1.1 -1.1 1.2 -1.8 1.1 -2.3 1.2 -1.8 1.1 -0.5 1.2 1.4 1.1 2.4 1.2 2.4 1.1 1.8 1.2 1.1 1.1 0.6 1.2 0.1 1.1 0 1.2 -0.1 1.1 -0.1 1.2 -0.3 1.1 -0.2 1.2 -0.3 1.1 -0.4 1.2 -0.4 1.1 -0.5 1.2 -0.7 1.2 -0.7 1.1 -0.9 1.2 -1.2 1.1 -1.2 1.2 -1.5 1.1 -1.6 1.2 -1.8 1.1 -1.9 1.2 -1.9 1.1 -1.6 1.2 -1.4 1.1 -1 1.2 -0.4 1.1 0 1.2 0.4 1.1 0.4 1.2 0.4 1.1 0.2 1.2 0 1.1 -0.3 1.2 -0.4 1.1 -0.4 1.2 -0.1 1.1 0.4 1.2 0.8 1.1 1.2 1.2 1.4 1.1 1.5 1.2 1.3 1.1 1.2 1.2 1 1.1 0.8 1.2 0.7 1.1 0.5 1.2 0.4 1.1 0.3 1.2 0.3 1.2 0.1 1.1 0.2 1.2 0 1.1 -0.1 1.2 -0.1 1.1 -0.1 1.2 -0.2 1.1 -0.2 1.2 -0.1 1.1 -0.1 1.2 0 1.1 0.1 1.2 0.1 1.1 0.1 1.2 0.2 1.1 0.2 1.2 0.2 1.1 0.2 1.2 0.1 1.1 0 1.2 0 1.1 -0.2 1.2 -0.2 1.1 -0.4 1.2 -0.6 1.1 -0.5 1.2 -0.3 1.1 -0.2 1.2 0.3 1.1 0.6 1.2 0.7 1.1 0.7 1.2 0.7 1.1 0.6 1.2 0.5 1.1 0.3 1.2 0.1 1.1 -0.2 1.2 -0.7"/><path stroke="#D81E3C" d="M72 363.3l1.2 1.9 1.1 2.4 1.2 1.8 1.1 0.7 1.2 0 1.1 -0.4 1.2 -0.4 1.1 -0.3 1.2 0.2 1.1 0.5 1.2 0.9 1.1 0.9 1.2 0.8 1.1 0.7 1.2 0.6 1.1 0.4 1.2 0.3 1.1 0.3 1.2 0.2 1.2 0.2 1.1 0.2 1.2 0.1 1.1 0.2 1.2 0 1.1 0.1 1.2 0 1.1 0.1 1.2 -0.1 1.1 -0.1 1.2 -0.1 1.1 -0.1 1.2 -0.2 1.1 -0.2 1.2 -0.2 1.1 -0.2 1.2 -0.2 1.1 -0.2 1.2 -0.2 1.1 -0.3 1.2 -0.4 1.1 -0.4 1.2 -0.2 1.1 0.1 1.2 0.6 1.1 0.9 1.2 0.8 1.1 0.5 1.2 0.4 1.1 0.2 1.2 0.1 1.1 0.1 1.2 0.1 1.1 0.1 1.2 0 1.1 0 1.2 0 1.2 0 1.1 -0.1 1.2 -0.1 1.1 -0.4 1.2 -0.5 1.1 -0.9 1.2 -0.9 1.1 -0.6 1.2 0.1 1.1 0.6 1.2 1 1.1 0.8 1.2 0.5 1.1 0.3 1.2 0.1 1.1 0.1 1.2 0 1.1 -0.1 1.2 -0.1 1.1 -0.1 1.2 -0.2 1.1 -0.2 1.2 -0.3 1.1 -0.3 1.2 -0.5 1.1 -0.5 1.2 -0.5 1.1 -0.5 1.2 -0.5 1.1 -0.4 1.2 -0.4 1.1 -0.3 1.2 -0.2 1.1 -0.2 1.2 -0.1 1.1 0 1.2 0 1.1 0.1 1.2 0.1 1.2 0.1 1.1 0 1.2 0 1.1 0 1.2 -0.1 1.1 -0.2 1.2 -0.3 1.1 -0.5 1.2 -0.7 1.1 -0.9 1.2 -1 1.1 -1.1 1.2 -1.2 1.1 -1 1.2 -0.7 1.1 -0.2 1.2 0.4 1.1 1 1.2 1.3 1.1 1.4 1.2 1.3 1.1 1.2 1.2 1 1.1 0.7 1.2 0.6 1.1 0.3 1.2 0.2 1.1 0.1 1.2 0 1.1 0 1.2 -0.1 1.1 -0.1 1.2 -0.2 1.1 -0.2 1.2 -0.4 1.1 -0.4 1.2 -0.7 1.2 -0.9 1.1 -1.1 1.2 -1.2 1.1 -1.1 1.2 -0.7 1.1 0 1.2 0.6 1.1 1.2 1.2 1.5 1.1 1.4 1.2 1.1 1.1 0.9 1.2 0.7 1.1 0.5 1.2 0.4 1.1 0.2 1.2 0.2 1.1 0.2 1.2 0.1 1.1 0 1.2 0.1 1.1 0 1.2 0 1.1 0 1.2 0 1.1 -0.1 1.2 0 1.1 -0.1 1.2 0 1.1 0 1.2 0.1 1.1 0 1.2 0.1 1.1 0.1 1.2 0.1 1.1 0.1 1.2 0 1.1 0.1 1.2 -0.1 1.2 0 1.1 -0.1 1.2 -0.2 1.1 -0.4 1.2 -0.5 1.1 -0.5 1.2 -0.6 1.1 -0.3 1.2 0 1.1 -0.1 1.2 -0.1 1.1 -0.2 1.2 -0.4 1.1 -0.3 1.2 -0.1 1.1 0.2 1.2 0.4 1.1 0.4 1.2 0.3 1.1 0.1 1.2 0 1.1 -0.3 1.2 -0.4 1.1 -0.5 1.2 -0.6 1.1 -0.4 1.2 -0.2 1.1 0.2 1.2 0.4 1.1 0.5 1.2 0.4 1.1 0.3 1.2 0.2 1.1 0.3 1.2 0.3 1.1 0.2 1.2 0.3 1.2 0.2 1.1 0.2 1.2 0.1 1.1 0.1 1.2 0.1 1.1 -0.1 1.2 -0.2 1.1 -0.3 1.2 -0.5 1.1 -0.4 1.2 -0.3 1.1 0 1.2 0.3 1.1 0.5 1.2 0.5 1.1 0.3 1.2 0 1.1 -0.2 1.2 -0.4 1.1 -0.7 1.2 -0.7 1.1 -0.6 1.2 -0.4 1.1 0 1.2 0.4 1.1 0.7 1.2 0.9 1.1 0.9 1.2 0.7 1.1 0.6 1.2 0.3 1.1 0.2 1.2 0.1 1.1 0 1.2 0 1.1 0 1.2 -0.1 1.1 -0.1 1.2 -0.1 1.2 -0.2 1.1 -0.2 1.2 -0.3 1.1 -0.3 1.2 -0.4 1.1 -0.4 1.2 -0.4 1.1 -0.5 1.2 -0.6 1.1 -0.8 1.2 -0.8 1.1 -0.9 1.2 -0.8 1.1 -0.5 1.2 0 1.1 0.4 1.2 0.6 1.1 0.4 1.2 0.3 1.1 0.1 1.2 -0.2 1.1 -0.4 1.2 -0.5 1.1 -0.6 1.2 -0.5 1.1 -0.4 1.2 -0.2 1.1 -0.1 1.2 -0.1 1.1 -0.2 1.2 -0.2 1.1 -0.3 1.2 -0.3 1.1 -0.1 1.2 0 1.1 0.1 1.2 0.3 1.2 0.4 1.1 0.5 1.2 0.5 1.1 0.5 1.2 0.6 1.1 0.5 1.2 0.4 1.1 0.4 1.2 0.3 1.1 0.3 1.2 0.2 1.1 0.1 1.2 0.1 1.1 0 1.2 -0.1 1.1 -0.1 1.2 -0.3 1.1 -0.5 1.2 -0.7 1.1 -0.8 1.2 -0.6 1.1 -0.3 1.2 0.4 1.1 0.6 1.2 0.7 1.1 0.5 1.2 0.3 1.1 0.2 1.2 0 1.1 0 1.2 -0.1 1.1 0 1.2 -0.1 1.1 0 1.2 -0.1 1.1 -0.1 1.2 -0.1 1.1 -0.1 1.2 -0.2 1.2 -0.2 1.1 -0.3 1.2 -0.5 1.1 -0.5 1.2 -0.7 1.1 -0.8 1.2 -1 1.1 -1 1.2 -1.1 1.1 -0.9 1.2 -0.8 1.1 -0.5 1.2 -0.2 1.1 0 1.2 0.1 1.1 0 1.2 -0.1 1.1 -0.6 1.2 -0.9 1.1 -1.2 1.2 -1.4 1.1 -1.2 1.2 -0.7 1.1 0.1 1.2 1.1 1.1 1.7 1.2 2 1.1 2.1 1.2 1.9 1.1 1.5 1.2 1.3 1.1 0.9 1.2 0.6 1.1 0.5 1.2 0.3 1.1 0.3 1.2 0.2 1.2 0.2 1.1 0.2 1.2 0.2 1.1 0.1 1.2 0.2 1.1 0.1 1.2 0.1 1.1 0.2 1.2 0.1 1.1 0.1 1.2 0.2 1.1 0.1 1.2 0.2 1.1 0.2 1.2 0.2 1.1 0.2 1.2 0.1 1.1 0.2 1.2 0.2 1.1 0.2 1.2 0.2 1.1 0.1 1.2 0.2 1.1 0.2 1.2 0.2 1.1 0.1 1.2 0.2 1.1 0.3 1.2 0.2 1.1 0.3 1.2 0.3 1.1 0.2 1.2 0.2 1.1 0.2 1.2 0.1 1.1 0.1 1.2 0 1.1 -0.1 1.2 -0.2"/><path stroke="#1F66D0" d="M72 294l1.2 7 1.1 9.9 1.2 6.3 1.1 1.5 1.2 -1.8 1.1 -3.2 1.2 -3.3 1.1 -2.3 1.2 -0.6 1.1 1.7 1.2 2.7 1.1 3.2 1.2 3 1.1 2.3 1.2 1.9 1.1 1.1 1.2 0.9 1.1 0.6 1.2 0.4 1.2 0.1 1.1 0.2 1.2 -0.1 1.1 -0.2 1.2 -0.3 1.1 -0.4 1.2 -0.6 1.1 -0.7 1.2 -0.8 1.1 -1.1 1.2 -1.1 1.1 -1 1.2 -1.1 1.1 -1 1.2 -1 1.1 -0.8 1.2 -0.8 1.1 -0.7 1.2 -0.6 1.1 -0.9 1.2 -1 1.1 -0.7 1.2 -0.5 1.1 0.6 1.2 1.8 1.1 2.8 1.2 2.8 1.1 2.6 1.2 2.3 1.1 1.9 1.2 1.6 1.1 1.5 1.2 1.4 1.1 1.3 1.2 1.2 1.1 0.9 1.2 0.6 1.2 0.2 1.1 -0.5 1.2 -1.7 1.1 -2.5 1.2 -3 1.1 -3.4 1.2 -2.8 1.1 -1.2 1.2 1.1 1.1 3.4 1.2 4.8 1.1 5.3 1.2 5 1.1 4.3 1.2 3.3 1.1 2.4 1.2 1.5 1.1 0.9 1.2 0.2 1.1 -0.2 1.2 -0.6 1.1 -0.9 1.2 -1 1.1 -1.4 1.2 -1.8 1.1 -1.8 1.2 -1.9 1.1 -2.2 1.2 -2.1 1.1 -2 1.2 -1.7 1.1 -1.3 1.2 -1 1.1 -0.5 1.2 -0.1 1.1 0.4 1.2 0.7 1.1 0.7 1.2 0.6 1.2 0.5 1.1 -0.1 1.2 -0.2 1.1 -0.7 1.2 -1.3 1.1 -2.1 1.2 -2.9 1.1 -4.2 1.2 -5.7 1.1 -7.1 1.2 -8.6 1.1 -9.6 1.2 -9.8 1.1 -8.8 1.2 -6.2 1.1 -2 1.2 2.8 1.1 7.3 1.2 9.9 1.1 10.8 1.2 10.7 1.1 9.4 1.2 7.6 1.1 5.7 1.2 4 1.1 2.4 1.2 1.4 1.1 0.4 1.2 -0.3 1.1 -0.7 1.2 -0.9 1.1 -1.4 1.2 -1.5 1.1 -1.7 1.2 -2.2 1.1 -2.7 1.2 -3.5 1.2 -4.4 1.1 -5.5 1.2 -6.1 1.1 -6 1.2 -4.7 1.1 -1.9 1.2 1 1.1 3.5 1.2 4.6 1.1 4.3 1.2 3.7 1.1 2.6 1.2 1.6 1.1 1 1.2 0.6 1.1 0.2 1.2 0.3 1.1 0.3 1.2 0.1 1.1 0.1 1.2 0.1 1.1 0.2 1.2 0.3 1.1 0 1.2 0.2 1.1 0.1 1.2 0.3 1.1 0.4 1.2 0.3 1.1 0.7 1.2 0.7 1.1 0.8 1.2 0.9 1.1 0.9 1.2 1 1.1 1 1.2 0.9 1.1 0.8 1.2 0.5 1.2 0.4 1.1 0 1.2 -0.5 1.1 -1.1 1.2 -1.9 1.1 -2.3 1.2 -1.7 1.1 -0.1 1.2 1.7 1.1 2.7 1.2 2.5 1.1 1.7 1.2 1 1.1 0.4 1.2 0.5 1.1 0.4 1.2 0.6 1.1 0.3 1.2 -0.1 1.1 -0.3 1.2 -0.6 1.1 -0.7 1.2 -0.9 1.1 -1.1 1.2 -1 1.1 -1 1.2 -1 1.1 -1 1.2 -0.9 1.1 -0.8 1.2 -0.7 1.1 -0.6 1.2 -0.4 1.1 -0.4 1.2 -0.2 1.1 -0.5 1.2 -0.3 1.2 -0.4 1.1 -0.4 1.2 -0.6 1.1 -0.6 1.2 -0.9 1.1 -0.9 1.2 -1.3 1.1 -1.5 1.2 -1.8 1.1 -1.9 1.2 -1.9 1.1 -1.4 1.2 -0.3 1.1 0.6 1.2 1.2 1.1 1.2 1.2 1.2 1.1 0.6 1.2 0.2 1.1 0.1 1.2 -0.3 1.1 0.2 1.2 0.6 1.1 1.3 1.2 2.4 1.1 3.1 1.2 3.4 1.1 3.6 1.2 3.6 1.1 3.2 1.2 2.8 1.1 2.2 1.2 1.5 1.1 0.8 1.2 0.4 1.1 0.3 1.2 0.3 1.1 0.5 1.2 0.6 1.2 0.4 1.1 -0.2 1.2 -1 1.1 -1.3 1.2 -1.9 1.1 -1.9 1.2 -1.6 1.1 -1.3 1.2 -1.3 1.1 -1.5 1.2 -1.8 1.1 -2.1 1.2 -2 1.1 -1.6 1.2 -0.7 1.1 -0.1 1.2 0 1.1 -0.4 1.2 -0.7 1.1 -1.2 1.2 -1.5 1.1 -1.6 1.2 -1.8 1.1 -1.8 1.2 -1.4 1.1 -1.2 1.2 -0.9 1.1 -0.5 1.2 -0.5 1.1 -0.4 1.2 -0.2 1.1 -0.2 1.2 0.2 1.1 0.4 1.2 0.6 1.1 0.9 1.2 1.2 1.2 1.4 1.1 1.7 1.2 1.8 1.1 2 1.2 2.2 1.1 2 1.2 2.1 1.1 2 1.2 1.9 1.1 1.8 1.2 1.6 1.1 1.4 1.2 1.4 1.1 1.2 1.2 0.9 1.1 0.2 1.2 -0.5 1.1 -1.9 1.2 -3.4 1.1 -4.1 1.2 -3.5 1.1 -0.8 1.2 2.3 1.1 4.2 1.2 4.1 1.1 3.2 1.2 1.7 1.1 0.4 1.2 -0.2 1.1 -0.7 1.2 -1 1.1 -1.1 1.2 -1.3 1.1 -1.5 1.2 -1.5 1.1 -1.8 1.2 -2 1.1 -2.4 1.2 -2.7 1.2 -3.4 1.1 -4.1 1.2 -5 1.1 -6.2 1.2 -7.3 1.1 -8.4 1.2 -9.4 1.1 -9.9 1.2 -9.4 1.1 -8.1 1.2 -5.9 1.1 -2.8 1.2 0.5 1.1 3.4 1.2 5.4 1.1 6.2 1.2 6 1.1 5.1 1.2 3.6 1.1 2.3 1.2 1.3 1.1 1 1.2 1.4 1.1 2.7 1.2 4.5 1.1 5.6 1.2 6 1.1 6 1.2 5.3 1.1 4.7 1.2 3.7 1.1 2.9 1.2 2.2 1.1 1.8 1.2 1.3 1.1 1 1.2 0.8 1.2 0.5 1.1 0.7 1.2 0.3 1.1 0.2 1.2 0.4 1.1 0.4 1.2 0.3 1.1 0.4 1.2 0.6 1.1 0.8 1.2 0.9 1.1 1 1.2 1.2 1.1 1.3 1.2 1.5 1.1 1.5 1.2 1.4 1.1 1.3 1.2 1.4 1.1 1 1.2 0.8 1.1 0.4 1.2 0 1.1 -0.5 1.2 -0.8 1.1 -1.4 1.2 -1.5 1.1 -1.6 1.2 -1.2 1.1 -1.3 1.2 -1.3 1.1 -1.6 1.2 -1.9 1.1 -2.3 1.2 -2.7 1.1 -3.1 1.2 -3.7 1.1 -4.2 1.2 -4.7"/><path stroke="#F5561C" d="M72 249.4l1.2 16.5 1.1 21.6 1.2 15.6 1.1 7.5 1.2 2.1 1.1 -0.7 1.2 -1.4 1.1 -1.2 1.2 0 1.1 1.6 1.2 2.9 1.1 3.5 1.2 3.3 1.1 2.7 1.2 2.1 1.1 1.5 1.2 0.9 1.1 0.6 1.2 0.5 1.2 0.2 1.1 0.1 1.2 0 1.1 -0.2 1.2 -0.5 1.1 -0.9 1.2 -1.1 1.1 -1.6 1.2 -1.9 1.1 -2.3 1.2 -2.7 1.1 -3 1.2 -3.2 1.1 -3.2 1.2 -3.3 1.1 -3 1.2 -2.8 1.1 -3.3 1.2 -4.1 1.1 -5.6 1.2 -6.9 1.1 -7 1.2 -4.4 1.1 1.7 1.2 8.6 1.1 12.5 1.2 12.9 1.1 10.9 1.2 8.1 1.1 5.3 1.2 3.3 1.1 1.9 1.2 0.9 1.1 0.2 1.2 -0.4 1.1 -1.4 1.2 -2.5 1.2 -4.1 1.1 -6.3 1.2 -8.8 1.1 -11.2 1.2 -13.2 1.1 -13.7 1.2 -12 1.1 -7.6 1.2 -1 1.1 5.6 1.2 9.9 1.1 11.6 1.2 11.1 1.1 9.2 1.2 7.1 1.1 5.1 1.2 3.2 1.1 2.2 1.2 1.3 1.1 0.8 1.2 0.3 1.1 -0.1 1.2 -0.5 1.1 -0.9 1.2 -1.3 1.1 -1.8 1.2 -1.9 1.1 -2.1 1.2 -2.1 1.1 -1.7 1.2 -1.3 1.1 -0.8 1.2 0.3 1.1 1.3 1.2 2.2 1.1 2.9 1.2 3.5 1.1 3.9 1.2 3.9 1.2 3.9 1.1 3.4 1.2 3.1 1.1 2.3 1.2 1.7 1.1 0.5 1.2 -0.7 1.1 -2.3 1.2 -4 1.1 -6 1.2 -7.9 1.1 -9.2 1.2 -9.9 1.1 -9.4 1.2 -7.2 1.1 -3.7 1.2 0.8 1.1 4.5 1.2 6.8 1.1 7.6 1.2 7.2 1.1 5.8 1.2 4.3 1.1 2.6 1.2 1.1 1.1 -0.1 1.2 -0.7 1.1 -1.4 1.2 -1.8 1.1 -2 1.2 -2.1 1.1 -2.2 1.2 -2.5 1.1 -3 1.2 -3.9 1.1 -5.4 1.2 -7.8 1.2 -10.8 1.1 -13.8 1.2 -16 1.1 -15.6 1.2 -11.8 1.1 -4 1.2 5.7 1.1 12.7 1.2 15.9 1.1 15.5 1.2 13.2 1.1 10.1 1.2 7.2 1.1 4.9 1.2 3.4 1.1 2.5 1.2 1.9 1.1 1.6 1.2 1.2 1.1 0.9 1.2 0.7 1.1 0.3 1.2 -0.1 1.1 -0.4 1.2 -0.6 1.1 -0.9 1.2 -0.9 1.1 -1 1.2 -0.8 1.1 -0.5 1.2 0 1.1 0.4 1.2 0.7 1.1 1 1.2 1 1.1 1.1 1.2 0.9 1.1 1 1.2 0.8 1.2 0.6 1.1 0.2 1.2 -0.1 1.1 -1 1.2 -1.8 1.1 -2.2 1.2 -1.9 1.1 -0.7 1.2 0.8 1.1 1.4 1.2 0.7 1.1 -0.3 1.2 -1.2 1.1 -1.2 1.2 -0.3 1.1 1.3 1.2 2.2 1.1 2.4 1.2 2.4 1.1 2.1 1.2 1.6 1.1 1.4 1.2 1.3 1.1 1.2 1.2 1.1 1.1 0.8 1.2 0.6 1.1 0.1 1.2 -0.3 1.1 -0.5 1.2 -0.7 1.1 -0.4 1.2 0.1 1.1 0.7 1.2 1 1.1 1 1.2 0.8 1.2 0.4 1.1 -0.2 1.2 -0.7 1.1 -1.1 1.2 -2 1.1 -3 1.2 -4.3 1.1 -5.6 1.2 -6.4 1.1 -6 1.2 -4 1.1 -0.1 1.2 3.9 1.1 6.3 1.2 6.8 1.1 5.9 1.2 4.1 1.1 2.4 1.2 0.8 1.1 -0.3 1.2 -1.1 1.1 -1.2 1.2 -0.8 1.1 0.2 1.2 1.5 1.1 2.7 1.2 3.2 1.1 3.4 1.2 3.1 1.1 2.9 1.2 2.2 1.1 1.8 1.2 1.4 1.1 1.1 1.2 0.8 1.1 0.7 1.2 0.5 1.1 0.5 1.2 0.4 1.2 0.2 1.1 0.1 1.2 -0.1 1.1 -0.3 1.2 -0.5 1.1 -0.8 1.2 -1.4 1.1 -2.3 1.2 -3.3 1.1 -5 1.2 -6.5 1.1 -7.3 1.2 -6.7 1.1 -3.7 1.2 0.7 1.1 4.1 1.2 5.2 1.1 4.5 1.2 2.9 1.1 0.9 1.2 -1.1 1.1 -2.8 1.2 -4 1.1 -4.6 1.2 -4 1.1 -2.1 1.2 0.1 1.1 1.3 1.2 1.3 1.1 0.5 1.2 -0.3 1.1 -1.2 1.2 -1.4 1.1 -1.4 1.2 -1.3 1.1 -1 1.2 -0.8 1.2 -0.4 1.1 0.1 1.2 0.8 1.1 2.1 1.2 3.5 1.1 4.4 1.2 4.6 1.1 4.3 1.2 3.6 1.1 2.6 1.2 1.7 1.1 1 1.2 0.6 1.1 0.2 1.2 0.1 1.1 -0.7 1.2 -1.8 1.1 -3.9 1.2 -6.3 1.1 -7.6 1.2 -6.3 1.1 -1.6 1.2 4.3 1.1 7.7 1.2 7.9 1.1 5.9 1.2 3.5 1.1 1.6 1.2 0.4 1.1 -0.4 1.2 -0.9 1.1 -1.1 1.2 -1.3 1.1 -1.5 1.2 -1.8 1.1 -2.1 1.2 -2.2 1.1 -2.7 1.2 -3.2 1.2 -3.5 1.1 -4.2 1.2 -5 1.1 -5.7 1.2 -6.5 1.1 -7.1 1.2 -7.4 1.1 -7.2 1.2 -6.5 1.1 -5.2 1.2 -3.2 1.1 -1 1.2 1.2 1.1 2.6 1.2 2.9 1.1 2.1 1.2 0 1.1 -2.6 1.2 -5.4 1.1 -7.7 1.2 -8.8 1.1 -8.1 1.2 -4.7 1.1 0.7 1.2 6.4 1.1 10.8 1.2 12.9 1.1 12.8 1.2 11.6 1.1 9.5 1.2 7.3 1.1 5.2 1.2 3.6 1.1 2.3 1.2 1.5 1.1 0.8 1.2 0.5 1.2 0.1 1.1 -0.2 1.2 -0.4 1.1 -0.6 1.2 -0.9 1.1 -1.1 1.2 -1.1 1.1 -1.1 1.2 -0.9 1.1 -0.5 1.2 -0.1 1.1 0.3 1.2 0.7 1.1 0.7 1.2 1 1.1 1 1.2 1 1.1 0.8 1.2 0.6 1.1 0.4 1.2 0.2 1.1 -0.2 1.2 -0.7 1.1 -1.1 1.2 -1.4 1.1 -1.4 1.2 -1.1 1.1 -0.3 1.2 0.6 1.1 1.2 1.2 1.6 1.1 1.3 1.2 0.9 1.1 0.5 1.2 -0.1 1.1 -0.8 1.2 -2 1.1 -3.9 1.2 -5.9"/><path stroke="#F2B01E" d="M72 302.1l1.2 10 1.1 13 1.2 7.4 1.1 0 1.2 -5.5 1.1 -8.2 1.2 -8.4 1.1 -5.8 1.2 -0.4 1.1 5.2 1.2 8.8 1.1 9.4 1.2 8.3 1.1 6.3 1.2 4.1 1.1 2.4 1.2 1.2 1.1 0.4 1.2 -0.1 1.2 -0.4 1.1 -0.7 1.2 -0.9 1.1 -1.2 1.2 -1.4 1.1 -1.6 1.2 -1.8 1.1 -2 1.2 -2.2 1.1 -2.3 1.2 -2.4 1.1 -2.4 1.2 -2.3 1.1 -2 1.2 -1.7 1.1 -1.4 1.2 -0.9 1.1 -0.6 1.2 -0.4 1.1 -0.5 1.2 -0.6 1.1 -0.4 1.2 0.4 1.1 1.7 1.2 3.4 1.1 4.3 1.2 4.3 1.1 3.9 1.2 3 1.1 2.2 1.2 1.7 1.1 1.2 1.2 0.8 1.1 0.5 1.2 0.1 1.1 -0.5 1.2 -1.2 1.2 -2.3 1.1 -3.9 1.2 -5.6 1.1 -7.4 1.2 -8.9 1.1 -9.1 1.2 -7.9 1.1 -4.5 1.2 0.4 1.1 5.4 1.2 8.6 1.1 9.8 1.2 9.3 1.1 7.9 1.2 6.1 1.1 4.2 1.2 2.6 1.1 1.5 1.2 0.7 1.1 0 1.2 -0.4 1.1 -0.9 1.2 -1.3 1.1 -1.6 1.2 -1.9 1.1 -2.2 1.2 -2.5 1.1 -2.6 1.2 -2.5 1.1 -2.4 1.2 -2 1.1 -1.5 1.2 -0.7 1.1 0.2 1.2 1.1 1.1 1.7 1.2 2.3 1.1 2.7 1.2 2.7 1.2 2.7 1.1 2.6 1.2 2.2 1.1 1.8 1.2 1.1 1.1 0.2 1.2 -0.8 1.1 -2.3 1.2 -3.8 1.1 -5.7 1.2 -7.3 1.1 -8.5 1.2 -9.1 1.1 -8.3 1.2 -6.1 1.1 -2.3 1.2 2.2 1.1 6.2 1.2 8.8 1.1 9.6 1.2 9.4 1.1 8.2 1.2 6.7 1.1 4.9 1.2 3.4 1.1 2 1.2 1 1.1 0.1 1.2 -0.4 1.1 -0.9 1.2 -1.2 1.1 -1.5 1.2 -2 1.1 -2.3 1.2 -2.9 1.1 -3.8 1.2 -4.8 1.2 -6.1 1.1 -7.5 1.2 -8.3 1.1 -8.2 1.2 -6.4 1.1 -3 1.2 1.3 1.1 4.3 1.2 5.9 1.1 5.8 1.2 4.9 1.1 3.8 1.2 2.8 1.1 1.9 1.2 1.4 1.1 1.1 1.2 1 1.1 0.9 1.2 0.9 1.1 0.9 1.2 0.9 1.1 0.8 1.2 0.8 1.1 0.7 1.2 0.7 1.1 0.7 1.2 0.6 1.1 0.6 1.2 0.6 1.1 0.6 1.2 0.6 1.1 0.7 1.2 0.7 1.1 0.7 1.2 0.6 1.1 0.6 1.2 0.5 1.1 0.4 1.2 0.4 1.2 0.2 1.1 0.1 1.2 -0.2 1.1 -0.5 1.2 -0.9 1.1 -1 1.2 -0.9 1.1 -0.1 1.2 0.8 1.1 1.2 1.2 0.9 1.1 0.6 1.2 0.1 1.1 0 1.2 0.5 1.1 1 1.2 1.4 1.1 1.5 1.2 1.2 1.1 0.9 1.2 0.6 1.1 0.1 1.2 -0.4 1.1 -0.9 1.2 -1.5 1.1 -1.8 1.2 -1.5 1.1 -0.3 1.2 0.9 1.1 1.3 1.2 1.4 1.1 1 1.2 0.9 1.1 0.8 1.2 0.8 1.1 0.7 1.2 0.5 1.2 0.5 1.1 0.2 1.2 0 1.1 -0.2 1.2 -0.4 1.1 -0.8 1.2 -1.2 1.1 -1.6 1.2 -2 1.1 -1.9 1.2 -1.3 1.1 -0.3 1.2 1 1.1 1.8 1.2 1.9 1.1 1.6 1.2 1 1.1 0.4 1.2 -0.2 1.1 -0.5 1.2 -0.7 1.1 -0.5 1.2 -0.3 1.1 0.5 1.2 1 1.1 1.5 1.2 1.7 1.1 1.8 1.2 1.5 1.1 1.4 1.2 1.1 1.1 0.8 1.2 0.5 1.1 0.3 1.2 0.2 1.1 0 1.2 -0.1 1.1 -0.2 1.2 -0.3 1.2 -0.5 1.1 -0.6 1.2 -0.6 1.1 -0.9 1.2 -0.9 1.1 -1.1 1.2 -1.4 1.1 -1.9 1.2 -2.7 1.1 -3.7 1.2 -4.8 1.1 -5.3 1.2 -4.9 1.1 -2.9 1.2 0.2 1.1 2.4 1.2 3.1 1.1 2.6 1.2 1.3 1.1 -0.1 1.2 -1.7 1.1 -3 1.2 -3.9 1.1 -4.3 1.2 -3.6 1.1 -1.9 1.2 -0.1 1.1 0.9 1.2 1.1 1.1 0.6 1.2 0.1 1.1 -0.2 1.2 -0.3 1.1 -0.1 1.2 0.4 1.1 1 1.2 1.4 1.2 1.9 1.1 2.1 1.2 2.3 1.1 2.3 1.2 2.4 1.1 2.1 1.2 2 1.1 1.7 1.2 1.5 1.1 1.2 1.2 1 1.1 0.7 1.2 0.6 1.1 0.2 1.2 -0.2 1.1 -0.8 1.2 -2 1.1 -3.7 1.2 -5.4 1.1 -6.4 1.2 -5.3 1.1 -1.2 1.2 3.6 1.1 6.5 1.2 6.6 1.1 5.1 1.2 3.3 1.1 1.7 1.2 0.8 1.1 0.2 1.2 0 1.1 -0.3 1.2 -0.4 1.1 -0.6 1.2 -0.8 1.1 -0.8 1.2 -1.2 1.1 -1.3 1.2 -1.7 1.2 -2 1.1 -2.7 1.2 -3.5 1.1 -4.4 1.2 -5.4 1.1 -6.3 1.2 -7.2 1.1 -7.7 1.2 -7.6 1.1 -6.8 1.2 -5 1.1 -2.5 1.2 0.2 1.1 2.7 1.2 4.1 1.1 4.3 1.2 3.3 1.1 1.5 1.2 -0.7 1.1 -2.7 1.2 -3.9 1.1 -3.6 1.2 -1.9 1.1 1.6 1.2 5.4 1.1 8.2 1.2 9.4 1.1 9.4 1.2 8.4 1.1 6.8 1.2 5.1 1.1 3.6 1.2 2.3 1.1 1.4 1.2 0.7 1.1 0.3 1.2 0 1.2 -0.2 1.1 -0.3 1.2 -0.4 1.1 -0.4 1.2 -0.5 1.1 -0.5 1.2 -0.4 1.1 -0.4 1.2 -0.2 1.1 -0.1 1.2 0 1.1 0.2 1.2 0.3 1.1 0.4 1.2 0.5 1.1 0.4 1.2 0.4 1.1 0.4 1.2 0.4 1.1 0.2 1.2 0.2 1.1 0.1 1.2 0 1.1 -0.2 1.2 -0.3 1.1 -0.5 1.2 -0.5 1.1 -0.5 1.2 -0.5 1.1 -0.3 1.2 -0.2 1.1 -0.2 1.2 0 1.1 0.1 1.2 0.3 1.1 0.3 1.2 0.2 1.1 -0.7 1.2 -1.5"/><path stroke="#BA4DCB" d="M72 337.3l1.2 5.2 1.1 7 1.2 4.5 1.1 1.1 1.2 -1.4 1.1 -2.6 1.2 -2.9 1.1 -2.1 1.2 -0.4 1.1 1.3 1.2 2.5 1.1 2.6 1.2 2.2 1.1 1.5 1.2 0.8 1.1 0.3 1.2 -0.1 1.1 -0.4 1.2 -0.5 1.2 -0.7 1.1 -0.6 1.2 -0.6 1.1 -0.6 1.2 -0.6 1.1 -0.5 1.2 -0.6 1.1 -0.5 1.2 -0.5 1.1 -0.5 1.2 -0.4 1.1 -0.4 1.2 -0.3 1.1 -0.3 1.2 -0.2 1.1 -0.2 1.2 -0.4 1.1 -0.6 1.2 -1.2 1.1 -2 1.2 -2.7 1.1 -2.9 1.2 -2.1 1.1 0.1 1.2 2.6 1.1 4.1 1.2 4.3 1.1 3.7 1.2 2.7 1.1 1.8 1.2 1.1 1.1 0.7 1.2 0.4 1.1 0.2 1.2 -0.1 1.1 -0.3 1.2 -0.9 1.2 -1.8 1.1 -2.8 1.2 -4.1 1.1 -5.5 1.2 -6.6 1.1 -6.8 1.2 -6 1.1 -3.7 1.2 0 1.1 3.4 1.2 5.8 1.1 6.7 1.2 6.3 1.1 5.3 1.2 4.1 1.1 2.7 1.2 1.7 1.1 0.9 1.2 0.4 1.1 0 1.2 -0.2 1.1 -0.4 1.2 -0.6 1.1 -0.8 1.2 -0.9 1.1 -1.1 1.2 -1.1 1.1 -1.2 1.2 -1.2 1.1 -1 1.2 -0.8 1.1 -0.5 1.2 0 1.1 0.4 1.2 0.8 1.1 1.2 1.2 1.5 1.1 1.6 1.2 1.7 1.2 1.5 1.1 1.4 1.2 1.1 1.1 0.9 1.2 0.6 1.1 0.2 1.2 -0.2 1.1 -0.7 1.2 -1.2 1.1 -1.8 1.2 -2.4 1.1 -2.7 1.2 -2.8 1.1 -2.7 1.2 -2.1 1.1 -1 1.2 0.2 1.1 1.2 1.2 1.9 1.1 2.2 1.2 2 1.1 1.7 1.2 1.2 1.1 0.8 1.2 0.2 1.1 -0.1 1.2 -0.4 1.1 -0.6 1.2 -0.9 1.1 -0.9 1.2 -1.1 1.1 -1.2 1.2 -1.4 1.1 -1.8 1.2 -2.1 1.1 -2.8 1.2 -3.6 1.2 -4.7 1.1 -5.7 1.2 -6.5 1.1 -6.3 1.2 -5.1 1.1 -2.3 1.2 0.8 1.1 3.3 1.2 4.2 1.1 4.2 1.2 3.4 1.1 2.4 1.2 1.6 1.1 1.1 1.2 0.9 1.1 1 1.2 1.3 1.1 1.8 1.2 2.1 1.1 2.3 1.2 2.4 1.1 2.4 1.2 2.2 1.1 2.1 1.2 1.9 1.1 1.6 1.2 1.5 1.1 1.3 1.2 1.2 1.1 1.1 1.2 1.1 1.1 1.1 1.2 1.1 1.1 1 1.2 0.9 1.1 0.8 1.2 0.7 1.1 0.5 1.2 0.3 1.2 0 1.1 -0.4 1.2 -1.2 1.1 -2.3 1.2 -3.3 1.1 -3.8 1.2 -3.3 1.1 -1 1.2 1.4 1.1 2.8 1.2 2.7 1.1 1.7 1.2 0.6 1.1 0 1.2 0.1 1.1 0.5 1.2 0.7 1.1 0.7 1.2 0.6 1.1 0.5 1.2 0.3 1.1 0.1 1.2 0 1.1 0 1.2 0 1.1 0 1.2 -0.2 1.1 -0.2 1.2 -0.3 1.1 -0.3 1.2 -0.3 1.1 -0.1 1.2 0 1.1 0.4 1.2 0.4 1.1 0.5 1.2 0.3 1.2 0.3 1.1 0.1 1.2 -0.1 1.1 -0.3 1.2 -0.5 1.1 -0.8 1.2 -1.2 1.1 -1.6 1.2 -1.9 1.1 -1.9 1.2 -1.3 1.1 0 1.2 1.2 1.1 2 1.2 2.3 1.1 1.9 1.2 1.4 1.1 0.7 1.2 0.1 1.1 -0.3 1.2 -0.5 1.1 -0.5 1.2 -0.1 1.1 0.6 1.2 1.2 1.1 1.7 1.2 1.8 1.1 1.8 1.2 1.5 1.1 1.1 1.2 0.7 1.1 0.3 1.2 -0.1 1.1 -0.4 1.2 -0.6 1.1 -0.8 1.2 -0.9 1.1 -1 1.2 -0.9 1.2 -1 1.1 -0.8 1.2 -0.7 1.1 -0.5 1.2 -0.5 1.1 -0.3 1.2 -0.3 1.1 -0.4 1.2 -0.6 1.1 -1 1.2 -1.4 1.1 -1.7 1.2 -1.4 1.1 -0.5 1.2 0.6 1.1 1.7 1.2 1.8 1.1 1.6 1.2 0.9 1.1 0.1 1.2 -0.7 1.1 -1.4 1.2 -2 1.1 -2.2 1.2 -2.1 1.1 -1.2 1.2 -0.5 1.1 0 1.2 -0.1 1.1 -0.3 1.2 -0.5 1.1 -0.6 1.2 -0.6 1.1 -0.5 1.2 -0.1 1.1 0.3 1.2 0.6 1.2 0.9 1.1 1.2 1.2 1.3 1.1 1.4 1.2 1.3 1.1 1.3 1.2 1.2 1.1 1 1.2 0.9 1.1 0.6 1.2 0.5 1.1 0.2 1.2 0 1.1 -0.1 1.2 -0.4 1.1 -0.6 1.2 -1.1 1.1 -1.5 1.2 -2 1.1 -2.3 1.2 -2 1.1 -1.2 1.2 0.1 1.1 0.8 1.2 0.9 1.1 0.6 1.2 0.1 1.1 -0.1 1.2 -0.3 1.1 -0.4 1.2 -0.4 1.1 -0.4 1.2 -0.5 1.1 -0.4 1.2 -0.6 1.1 -0.7 1.2 -0.8 1.1 -1 1.2 -1.3 1.2 -1.5 1.1 -2 1.2 -2.4 1.1 -2.9 1.2 -3.5 1.1 -4 1.2 -4.4 1.1 -4.6 1.2 -4.6 1.1 -4.2 1.2 -3.3 1.1 -2.1 1.2 -0.7 1.1 0.6 1.2 1.3 1.1 1.5 1.2 1.3 1.1 0.5 1.2 -0.4 1.1 -1.1 1.2 -1.6 1.1 -1.3 1.2 -0.3 1.1 1.4 1.2 3.4 1.1 4.8 1.2 5.5 1.1 5.5 1.2 5 1.1 4.2 1.2 3.3 1.1 2.6 1.2 1.9 1.1 1.4 1.2 0.9 1.1 0.6 1.2 0.4 1.2 0.1 1.1 -0.1 1.2 -0.3 1.1 -0.5 1.2 -0.6 1.1 -0.7 1.2 -0.7 1.1 -0.7 1.2 -0.7 1.1 -0.6 1.2 -0.5 1.1 -0.3 1.2 -0.1 1.1 -0.1 1.2 0 1.1 0.1 1.2 0.2 1.1 0.2 1.2 0.2 1.1 0.1 1.2 0.2 1.1 0 1.2 0 1.1 -0.1 1.2 -0.1 1.1 -0.2 1.2 -0.2 1.1 -0.1 1.2 0 1.1 0.1 1.2 0.1 1.1 0.3 1.2 0.2 1.1 0.2 1.2 0.2 1.1 0.1 1.2 -0.3 1.1 -1.1 1.2 -1.9"/><path stroke="#6DB83A" d="M72 359.8l1.2 1.1 1.1 1.8 1.2 1 1.1 0.2 1.2 -0.5 1.1 -0.8 1.2 -0.7 1.1 -0.7 1.2 -0.3 1.1 0 1.2 0.1 1.1 0.2 1.2 0.2 1.1 0.2 1.2 0 1.1 0 1.2 -0.1 1.1 -0.1 1.2 -0.2 1.2 -0.2 1.1 -0.2 1.2 -0.4 1.1 -0.3 1.2 -0.5 1.1 -0.5 1.2 -0.5 1.1 -0.7 1.2 -0.7 1.1 -0.8 1.2 -0.7 1.1 -0.9 1.2 -0.8 1.1 -0.7 1.2 -0.6 1.1 -0.4 1.2 -0.2 1.1 -0.1 1.2 -0.1 1.1 0 1.2 -0.1 1.1 0 1.2 0.3 1.1 0.9 1.2 1.7 1.1 2 1.2 2.1 1.1 1.8 1.2 1.4 1.1 1.1 1.2 0.9 1.1 0.7 1.2 0.5 1.1 0.5 1.2 0.3 1.1 0.2 1.2 0.1 1.2 -0.2 1.1 -0.5 1.2 -0.8 1.1 -1.2 1.2 -1.4 1.1 -1.6 1.2 -1.5 1.1 -1 1.2 -0.3 1.1 0.4 1.2 1 1.1 1.1 1.2 1.1 1.1 0.8 1.2 0.7 1.1 0.5 1.2 0.4 1.1 0.3 1.2 0.3 1.1 0.1 1.2 0.1 1.1 0 1.2 -0.1 1.1 -0.3 1.2 -0.3 1.1 -0.5 1.2 -0.6 1.1 -0.6 1.2 -0.7 1.1 -0.7 1.2 -0.6 1.1 -0.5 1.2 -0.4 1.1 -0.3 1.2 -0.1 1.1 0.1 1.2 0.1 1.1 0.3 1.2 0.2 1.2 0.3 1.1 0.3 1.2 0.2 1.1 0.2 1.2 0 1.1 -0.1 1.2 -0.2 1.1 -0.4 1.2 -0.7 1.1 -1 1.2 -1.2 1.1 -1.3 1.2 -1.4 1.1 -1.4 1.2 -1 1.1 -0.4 1.2 0.2 1.1 0.8 1.2 1.2 1.1 1.3 1.2 1.2 1.1 1.2 1.2 0.9 1.1 0.7 1.2 0.5 1.1 0.3 1.2 0.1 1.1 0 1.2 -0.1 1.1 -0.2 1.2 -0.3 1.1 -0.3 1.2 -0.5 1.1 -0.7 1.2 -0.9 1.1 -1.2 1.2 -1.6 1.2 -2.2 1.1 -2.8 1.2 -3.2 1.1 -3.1 1.2 -2.5 1.1 -1 1.2 0.5 1.1 1.8 1.2 2.3 1.1 2.3 1.2 1.9 1.1 1.4 1.2 1 1.1 0.7 1.2 0.4 1.1 0.4 1.2 0.2 1.1 0.3 1.2 0.3 1.1 0.3 1.2 0.4 1.1 0.4 1.2 0.4 1.1 0.5 1.2 0.5 1.1 0.6 1.2 0.6 1.1 0.7 1.2 0.7 1.1 0.8 1.2 0.8 1.1 0.8 1.2 0.9 1.1 0.8 1.2 0.7 1.1 0.7 1.2 0.7 1.1 0.5 1.2 0.5 1.2 0.4 1.1 0.3 1.2 0.3 1.1 0.1 1.2 0.1 1.1 0 1.2 0.1 1.1 0.1 1.2 0.1 1.1 0.2 1.2 0.2 1.1 0.2 1.2 0.1 1.1 0.1 1.2 0.2 1.1 0.3 1.2 0.4 1.1 0.5 1.2 0.4 1.1 0.3 1.2 0.3 1.1 0.3 1.2 0.2 1.1 0.2 1.2 0.1 1.1 0.2 1.2 0 1.1 0 1.2 -0.1 1.1 -0.1 1.2 -0.1 1.1 0 1.2 -0.1 1.1 0.1 1.2 0 1.1 0.1 1.2 0 1.2 0 1.1 -0.2 1.2 -0.2 1.1 -0.3 1.2 -0.5 1.1 -0.5 1.2 -0.8 1.1 -1 1.2 -1.2 1.1 -1.1 1.2 -1 1.1 -0.6 1.2 -0.1 1.1 0.3 1.2 0.4 1.1 0.4 1.2 0.3 1.1 0.3 1.2 0.2 1.1 0.2 1.2 0.2 1.1 0.2 1.2 0.3 1.1 0.4 1.2 0.5 1.1 0.6 1.2 0.6 1.1 0.5 1.2 0.5 1.1 0.4 1.2 0.4 1.1 0.2 1.2 0.2 1.1 0.1 1.2 0.1 1.1 0 1.2 -0.1 1.1 -0.1 1.2 -0.1 1.2 -0.2 1.1 -0.1 1.2 -0.2 1.1 -0.3 1.2 -0.2 1.1 -0.3 1.2 -0.3 1.1 -0.4 1.2 -0.5 1.1 -0.7 1.2 -0.8 1.1 -1 1.2 -0.9 1.1 -0.4 1.2 0.1 1.1 0.5 1.2 0.7 1.1 0.6 1.2 0.3 1.1 0.1 1.2 -0.2 1.1 -0.4 1.2 -0.6 1.1 -0.8 1.2 -0.7 1.1 -0.4 1.2 -0.3 1.1 -0.2 1.2 -0.3 1.1 -0.3 1.2 -0.4 1.1 -0.5 1.2 -0.4 1.1 -0.4 1.2 -0.2 1.1 0 1.2 0 1.2 0.3 1.1 0.3 1.2 0.3 1.1 0.4 1.2 0.3 1.1 0.3 1.2 0.2 1.1 0.1 1.2 -0.1 1.1 -0.1 1.2 -0.2 1.1 -0.2 1.2 -0.2 1.1 -0.2 1.2 -0.2 1.1 -0.1 1.2 -0.1 1.1 -0.3 1.2 -0.4 1.1 -0.5 1.2 -0.4 1.1 0.2 1.2 0.7 1.1 1.2 1.2 1.1 1.1 0.8 1.2 0.6 1.1 0.3 1.2 0.1 1.1 0.1 1.2 0.1 1.1 0 1.2 0 1.1 0 1.2 -0.1 1.1 -0.1 1.2 -0.1 1.1 -0.2 1.2 -0.2 1.2 -0.4 1.1 -0.5 1.2 -0.7 1.1 -0.9 1.2 -1.1 1.1 -1.4 1.2 -1.5 1.1 -1.7 1.2 -1.6 1.1 -1.5 1.2 -1.1 1.1 -0.6 1.2 0.1 1.1 0.6 1.2 0.9 1.1 1.1 1.2 1.1 1.1 0.8 1.2 0.5 1.1 0.2 1.2 0.1 1.1 -0.1 1.2 -0.2 1.1 0.1 1.2 0.3 1.1 0.4 1.2 0.7 1.1 0.9 1.2 1.3 1.1 1.6 1.2 1.4 1.1 1.3 1.2 1 1.1 0.7 1.2 0.6 1.1 0.4 1.2 0.3 1.2 0.3 1.1 0.2 1.2 0.2 1.1 0.2 1.2 0.1 1.1 0.1 1.2 0 1.1 0.1 1.2 0 1.1 -0.1 1.2 0 1.1 0 1.2 0 1.1 0 1.2 -0.1 1.1 0 1.2 0 1.1 -0.1 1.2 0 1.1 -0.1 1.2 0 1.1 -0.1 1.2 -0.1 1.1 -0.1 1.2 -0.1 1.1 0 1.2 -0.1 1.1 0 1.2 0.1 1.1 0.1 1.2 0.1 1.1 0.1 1.2 0.1 1.1 0.1 1.2 0.1 1.1 -0.1 1.2 -0.2 1.1 -0.7 1.2 -1.1"/><path stroke="#2FB8F0" d="M72 351.1l1.2 4.5 1.1 5.9 1.2 3.7 1.1 0.8 1.2 -1.3 1.1 -2.3 1.2 -2.3 1.1 -1.7 1.2 0 1.1 1.5 1.2 2.6 1.1 2.8 1.2 2.5 1.1 1.8 1.2 1.3 1.1 0.8 1.2 0.4 1.1 0.2 1.2 0 1.2 -0.1 1.1 -0.1 1.2 -0.3 1.1 -0.3 1.2 -0.5 1.1 -0.6 1.2 -0.7 1.1 -0.9 1.2 -0.9 1.1 -1.1 1.2 -1.2 1.1 -1.2 1.2 -1.3 1.1 -1.2 1.2 -1 1.1 -0.9 1.2 -0.7 1.1 -0.6 1.2 -0.5 1.1 -0.5 1.2 -0.6 1.1 -0.6 1.2 0 1.1 0.9 1.2 2 1.1 2.5 1.2 2.6 1.1 2.2 1.2 1.7 1.1 1.1 1.2 0.8 1.1 0.5 1.2 0.2 1.1 0.2 1.2 -0.1 1.1 -0.2 1.2 -0.6 1.2 -0.9 1.1 -1.5 1.2 -2.2 1.1 -2.9 1.2 -3.3 1.1 -3.5 1.2 -2.9 1.1 -1.8 1.2 0.1 1.1 1.9 1.2 3.1 1.1 3.5 1.2 3.4 1.1 2.8 1.2 2.1 1.1 1.5 1.2 0.9 1.1 0.5 1.2 0.1 1.1 -0.1 1.2 -0.2 1.1 -0.4 1.2 -0.5 1.1 -0.6 1.2 -0.6 1.1 -0.8 1.2 -0.7 1.1 -0.8 1.2 -0.7 1.1 -0.7 1.2 -0.5 1.1 -0.4 1.2 -0.1 1.1 0.1 1.2 0.4 1.1 0.6 1.2 0.8 1.1 0.9 1.2 0.9 1.2 0.9 1.1 0.8 1.2 0.8 1.1 0.6 1.2 0.5 1.1 0.4 1.2 0.2 1.1 -0.1 1.2 -0.2 1.1 -0.5 1.2 -0.7 1.1 -0.9 1.2 -0.9 1.1 -0.9 1.2 -0.7 1.1 -0.3 1.2 0.1 1.1 0.5 1.2 0.8 1.1 0.8 1.2 0.8 1.1 0.6 1.2 0.5 1.1 0.2 1.2 0.1 1.1 0 1.2 -0.2 1.1 -0.3 1.2 -0.3 1.1 -0.4 1.2 -0.5 1.1 -0.6 1.2 -0.6 1.1 -0.7 1.2 -1 1.1 -1.2 1.2 -1.7 1.2 -2.2 1.1 -2.7 1.2 -3 1.1 -3 1.2 -2.3 1.1 -0.9 1.2 0.8 1.1 2.2 1.2 2.7 1.1 2.6 1.2 2.3 1.1 1.7 1.2 1.3 1.1 1 1.2 0.7 1.1 0.6 1.2 0.5 1.1 0.5 1.2 0.5 1.1 0.5 1.2 0.5 1.1 0.4 1.2 0.5 1.1 0.4 1.2 0.3 1.1 0.4 1.2 0.4 1.1 0.4 1.2 0.4 1.1 0.5 1.2 0.6 1.1 0.6 1.2 0.6 1.1 0.7 1.2 0.6 1.1 0.5 1.2 0.3 1.1 0.3 1.2 0.1 1.2 0.1 1.1 0 1.2 -0.1 1.1 -0.2 1.2 -0.5 1.1 -0.9 1.2 -0.8 1.1 -0.3 1.2 0.3 1.1 0.5 1.2 0.4 1.1 0.1 1.2 -0.1 1.1 -0.2 1.2 0 1.1 0.4 1.2 0.6 1.1 0.4 1.2 0.4 1.1 0.2 1.2 0.1 1.1 0 1.2 0.1 1.1 0 1.2 0 1.1 0 1.2 0 1.1 0 1.2 -0.1 1.1 -0.2 1.2 -0.2 1.1 -0.1 1.2 0 1.1 0.1 1.2 0.1 1.1 0.2 1.2 0.1 1.2 0.1 1.1 0 1.2 0 1.1 0 1.2 0 1.1 -0.1 1.2 -0.2 1.1 -0.2 1.2 -0.3 1.1 -0.5 1.2 -0.4 1.1 -0.2 1.2 0.1 1.1 0.3 1.2 0.2 1.1 0.1 1.2 -0.3 1.1 -0.6 1.2 -1 1.1 -1.3 1.2 -1.4 1.1 -1.2 1.2 -0.8 1.1 -0.1 1.2 0.7 1.1 1.2 1.2 1.6 1.1 1.6 1.2 1.4 1.1 0.8 1.2 0.4 1.1 0.2 1.2 0.1 1.1 0.1 1.2 0 1.1 0.1 1.2 0 1.1 0 1.2 0 1.2 -0.1 1.1 0 1.2 0 1.1 -0.1 1.2 0 1.1 -0.1 1.2 -0.3 1.1 -0.4 1.2 -1 1.1 -2.3 1.2 -3 1.1 -3.6 1.2 -3.2 1.1 -2 1.2 0 1.1 1.7 1.2 2.2 1.1 2.1 1.2 1.5 1.1 0.9 1.2 0.2 1.1 -0.3 1.2 -0.7 1.1 -0.9 1.2 -0.8 1.1 -0.5 1.2 0 1.1 0.1 1.2 0.1 1.1 -0.1 1.2 -0.2 1.1 -0.5 1.2 -0.4 1.1 -0.3 1.2 -0.2 1.1 0 1.2 0.3 1.2 0.4 1.1 0.6 1.2 0.6 1.1 0.7 1.2 0.7 1.1 0.6 1.2 0.6 1.1 0.5 1.2 0.4 1.1 0.3 1.2 0.2 1.1 0.1 1.2 0.1 1.1 -0.1 1.2 -0.3 1.1 -0.7 1.2 -1.4 1.1 -2.2 1.2 -3.3 1.1 -3.8 1.2 -3.2 1.1 -1 1.2 1.8 1.1 3.3 1.2 3.3 1.1 2.7 1.2 1.6 1.1 0.8 1.2 0.2 1.1 -0.1 1.2 -0.3 1.1 -0.6 1.2 -0.9 1.1 -0.9 1.2 -0.6 1.1 -0.1 1.2 0.4 1.1 0.3 1.2 0 1.2 -0.4 1.1 -0.7 1.2 -1.1 1.1 -1.4 1.2 -1.6 1.1 -1.9 1.2 -2.2 1.1 -2.2 1.2 -2.3 1.1 -2.1 1.2 -1.7 1.1 -1.1 1.2 -0.4 1.1 0.1 1.2 0.6 1.1 0.6 1.2 0.5 1.1 0.1 1.2 -0.3 1.1 -0.6 1.2 -0.8 1.1 -0.8 1.2 -0.2 1.1 0.6 1.2 1.5 1.1 2.3 1.2 2.5 1.1 2.6 1.2 2.4 1.1 2.1 1.2 1.7 1.1 1.3 1.2 1.1 1.1 0.8 1.2 0.7 1.1 0.5 1.2 0.4 1.2 0.3 1.1 0.2 1.2 0.1 1.1 0 1.2 0 1.1 -0.1 1.2 -0.1 1.1 -0.1 1.2 0 1.1 0 1.2 0.1 1.1 0.2 1.2 0.3 1.1 0.3 1.2 0.4 1.1 0.4 1.2 0.3 1.1 0.4 1.2 0.4 1.1 0.3 1.2 0.3 1.1 0.2 1.2 0.1 1.1 0.1 1.2 0 1.1 0 1.2 0.1 1.1 0.1 1.2 0.3 1.1 0.3 1.2 0.4 1.1 0.4 1.2 0.4 1.1 0.4 1.2 0.2 1.1 0.2 1.2 0.1 1.1 -0.3 1.2 -0.5"/><path stroke="#D81E3C" d="M72 272.3l1.2 12.1 1.1 16.2 1.2 10.4 1.1 2.5 1.2 -3.3 1.1 -6 1.2 -6.5 1.1 -4.4 1.2 -0.5 1.1 3.9 1.2 6.5 1.1 7.1 1.2 6.4 1.1 4.8 1.2 3.2 1.1 1.8 1.2 0.9 1.1 0.3 1.2 -0.3 1.2 -0.5 1.1 -0.8 1.2 -1.1 1.1 -1.6 1.2 -1.8 1.1 -2.2 1.2 -2.6 1.1 -2.9 1.2 -3.3 1.1 -3.4 1.2 -3.5 1.1 -3.4 1.2 -3.2 1.1 -2.7 1.2 -2 1.1 -1.3 1.2 -0.4 1.1 0.3 1.2 0.8 1.1 1 1.2 1.3 1.1 1.6 1.2 2.7 1.1 4.5 1.2 6.3 1.1 7.3 1.2 6.9 1.1 5.9 1.2 4.4 1.1 3.2 1.2 2.1 1.1 1.3 1.2 0.7 1.1 0 1.2 -0.6 1.1 -1.4 1.2 -2.5 1.2 -3.9 1.1 -5.8 1.2 -7.9 1.1 -9.9 1.2 -11.4 1.1 -11.8 1.2 -10.1 1.1 -6 1.2 0 1.1 5.9 1.2 9.9 1.1 11.5 1.2 11 1.1 9.3 1.2 7.2 1.1 5.1 1.2 3.3 1.1 1.9 1.2 0.8 1.1 0.2 1.2 -0.4 1.1 -0.9 1.2 -1.3 1.1 -1.7 1.2 -2.1 1.1 -2.6 1.2 -2.9 1.1 -3.1 1.2 -3.1 1.1 -3.1 1.2 -2.7 1.1 -2.2 1.2 -1.4 1.1 -0.7 1.2 0.3 1.1 1.1 1.2 1.6 1.1 2 1.2 2.2 1.2 2.3 1.1 2.1 1.2 2 1.1 1.6 1.2 1.2 1.1 0.5 1.2 0 1.1 -0.9 1.2 -1.8 1.1 -2.7 1.2 -3.7 1.1 -4.3 1.2 -4.5 1.1 -4.2 1.2 -3 1.1 -0.9 1.2 1.4 1.1 3.5 1.2 4.8 1.1 5.3 1.2 5.1 1.1 4.3 1.2 3.4 1.1 2.3 1.2 1.4 1.1 0.6 1.2 0 1.1 -0.6 1.2 -1 1.1 -1.5 1.2 -1.8 1.1 -2.3 1.2 -2.7 1.1 -3.4 1.2 -4.4 1.1 -5.6 1.2 -7.4 1.2 -9.7 1.1 -11.8 1.2 -13.1 1.1 -13 1.2 -10.1 1.1 -4.6 1.2 2 1.1 7.2 1.2 9.4 1.1 9.5 1.2 8.1 1.1 6.4 1.2 4.6 1.1 3.3 1.2 2.5 1.1 2.1 1.2 1.8 1.1 1.8 1.2 1.7 1.1 1.8 1.2 1.7 1.1 1.7 1.2 1.7 1.1 1.7 1.2 1.7 1.1 1.7 1.2 1.7 1.1 1.7 1.2 1.8 1.1 1.8 1.2 1.9 1.1 1.8 1.2 1.6 1.1 1.3 1.2 1 1.1 0.5 1.2 -0.3 1.1 -0.8 1.2 -1.3 1.2 -1.9 1.1 -1.8 1.2 -1.8 1.1 -1.4 1.2 -1.1 1.1 -0.8 1.2 -0.4 1.1 0.6 1.2 1.3 1.1 1.6 1.2 1 1.1 0.1 1.2 -0.6 1.1 -0.6 1.2 -0.1 1.1 1 1.2 1.5 1.1 1.9 1.2 1.8 1.1 1.6 1.2 1.4 1.1 1.1 1.2 1 1.1 0.9 1.2 0.7 1.1 0.6 1.2 0.4 1.1 0.1 1.2 -0.1 1.1 -0.3 1.2 -0.4 1.1 -0.3 1.2 -0.2 1.1 0.2 1.2 0.3 1.1 0.4 1.2 0.4 1.2 0.2 1.1 0 1.2 -0.3 1.1 -0.6 1.2 -1.2 1.1 -2 1.2 -3 1.1 -4.2 1.2 -4.8 1.1 -4.7 1.2 -3.3 1.1 -0.4 1.2 2.8 1.1 4.7 1.2 5.1 1.1 4.2 1.2 2.6 1.1 0.9 1.2 -0.5 1.1 -1.5 1.2 -1.9 1.1 -1.6 1.2 -0.5 1.1 1.1 1.2 3 1.1 4.3 1.2 5 1.1 5 1.2 4.4 1.1 3.6 1.2 2.7 1.1 1.8 1.2 1.1 1.1 0.4 1.2 -0.1 1.1 -0.5 1.2 -1 1.1 -1.1 1.2 -1.5 1.2 -1.7 1.1 -1.9 1.2 -2 1.1 -2 1.2 -2 1.1 -2 1.2 -2.1 1.1 -1.9 1.2 -2 1.1 -1.8 1.2 -1.8 1.1 -1.5 1.2 -1.2 1.1 -0.6 1.2 -0.3 1.1 -0.1 1.2 -0.2 1.1 -0.3 1.2 -0.6 1.1 -0.7 1.2 -0.8 1.1 -1 1.2 -1.1 1.1 -1.2 1.2 -1.3 1.1 -1.2 1.2 -1.2 1.1 -1.2 1.2 -1 1.1 -1 1.2 -0.8 1.1 -0.5 1.2 -0.5 1.1 -0.2 1.2 0 1.1 0.1 1.2 0.3 1.2 0.4 1.1 0.5 1.2 0.6 1.1 0.5 1.2 0.5 1.1 0.4 1.2 0.4 1.1 0.3 1.2 0.2 1.1 0.1 1.2 -0.1 1.1 -0.1 1.2 -0.3 1.1 -0.4 1.2 -0.6 1.1 -0.9 1.2 -1.6 1.1 -2.6 1.2 -4 1.1 -4.9 1.2 -4.8 1.1 -2.7 1.2 0.8 1.1 2.9 1.2 3.3 1.1 2.6 1.2 1.3 1.1 0.2 1.2 -0.5 1.1 -0.9 1.2 -1 1.1 -1.2 1.2 -1.3 1.1 -1.2 1.2 -1.3 1.1 -1.3 1.2 -1.4 1.1 -1.6 1.2 -1.7 1.2 -2.1 1.1 -2.3 1.2 -3 1.1 -3.4 1.2 -4.2 1.1 -4.7 1.2 -5.2 1.1 -5.3 1.2 -5 1.1 -4.2 1.2 -2.9 1.1 -1.1 1.2 0.8 1.1 2.3 1.2 3.1 1.1 3.1 1.2 2.4 1.1 1.2 1.2 -0.2 1.1 -1.5 1.2 -2.4 1.1 -2.4 1.2 -1.2 1.1 0.6 1.2 3.2 1.1 5.2 1.2 6.4 1.1 6.7 1.2 6.4 1.1 5.7 1.2 4.8 1.1 3.9 1.2 3 1.1 2.5 1.2 2 1.1 1.6 1.2 1.5 1.2 1.4 1.1 1.2 1.2 1.1 1.1 1.1 1.2 1 1.1 1 1.2 0.9 1.1 0.9 1.2 1 1.1 1.1 1.2 1.1 1.1 1.1 1.2 1.2 1.1 1 1.2 1 1.1 0.8 1.2 0.6 1.1 0.5 1.2 0.3 1.1 0.1 1.2 0 1.1 -0.3 1.2 -0.5 1.1 -0.6 1.2 -0.6 1.1 -0.6 1.2 -0.4 1.1 0.1 1.2 0.6 1.1 1.1 1.2 1.3 1.1 1.6 1.2 1.5 1.1 1.4 1.2 1.2 1.1 0.9 1.2 0.2 1.1 -1.1 1.2 -2.5"/><path stroke="#1F66D0" d="M72 299.1l1.2 7.8 1.1 10.2 1.2 5.4 1.1 -0.8 1.2 -5.5 1.1 -8.2 1.2 -8.3 1.1 -6.1 1.2 -1.4 1.1 3.7 1.2 6.7 1.1 7.3 1.2 6.1 1.1 4.1 1.2 2.2 1.1 0.5 1.2 -0.7 1.1 -1.4 1.2 -1.7 1.2 -2 1.1 -2 1.2 -2.2 1.1 -2.2 1.2 -2.4 1.1 -2.6 1.2 -2.9 1.1 -3.1 1.2 -3.3 1.1 -3.4 1.2 -3.3 1.1 -3.3 1.2 -2.9 1.1 -2.5 1.2 -1.9 1.1 -1.4 1.2 -0.9 1.1 -0.8 1.2 -1.2 1.1 -2.1 1.2 -2.9 1.1 -3 1.2 -1.2 1.1 2.8 1.2 7.3 1.1 10.1 1.2 10.4 1.1 9.2 1.2 7.1 1.1 5.4 1.2 3.9 1.1 2.9 1.2 2.2 1.1 1.8 1.2 1.3 1.1 0.9 1.2 0.4 1.2 -0.5 1.1 -1.3 1.2 -2.5 1.1 -3.6 1.2 -4.5 1.1 -4.8 1.2 -4.1 1.1 -2.4 1.2 0.4 1.1 3.1 1.2 5 1.1 5.6 1.2 5.3 1.1 4.5 1.2 3.3 1.1 2.1 1.2 1.2 1.1 0.4 1.2 -0.1 1.1 -0.7 1.2 -1 1.1 -1.5 1.2 -1.8 1.1 -2.1 1.2 -2.4 1.1 -2.7 1.2 -2.8 1.1 -2.8 1.2 -2.7 1.1 -2.4 1.2 -2.1 1.1 -1.4 1.2 -0.7 1.1 0.2 1.2 0.9 1.1 1.5 1.2 1.7 1.1 1.7 1.2 1.3 1.2 1.2 1.1 1.4 1.2 2.3 1.1 3.7 1.2 4.2 1.1 3.9 1.2 3.1 1.1 2.1 1.2 1 1.1 0.2 1.2 -0.5 1.1 -1 1.2 -1.3 1.1 -1.3 1.2 -1.1 1.1 -0.5 1.2 0.2 1.1 0.8 1.2 1.2 1.1 1.3 1.2 1.1 1.1 0.9 1.2 0.5 1.1 0.1 1.2 -0.3 1.1 -0.6 1.2 -1 1.1 -1.2 1.2 -1.5 1.1 -1.8 1.2 -2 1.1 -2.3 1.2 -2.7 1.1 -3 1.2 -3.5 1.1 -4.4 1.2 -5.4 1.2 -6.6 1.1 -8 1.2 -8.7 1.1 -8.4 1.2 -6.5 1.1 -2.8 1.2 1.6 1.1 4.9 1.2 6.5 1.1 6.7 1.2 5.9 1.1 4.9 1.2 3.8 1.1 3.1 1.2 2.7 1.1 2.5 1.2 2.3 1.1 2.1 1.2 1.9 1.1 1.6 1.2 1.1 1.1 0.4 1.2 0 1.1 -0.5 1.2 -0.3 1.1 0.6 1.2 2 1.1 3.2 1.2 3.6 1.1 3.6 1.2 3.1 1.1 2.7 1.2 2.2 1.1 1.8 1.2 1.6 1.1 1.3 1.2 1.1 1.1 1 1.2 0.8 1.2 0.5 1.1 0.2 1.2 -0.3 1.1 -1.2 1.2 -1.9 1.1 -2.3 1.2 -1.9 1.1 -0.5 1.2 1.3 1.1 2.1 1.2 1.9 1.1 1.3 1.2 0.5 1.1 0.1 1.2 0.1 1.1 0.4 1.2 0.6 1.1 0.7 1.2 0.5 1.1 0.4 1.2 0.2 1.1 0.1 1.2 0.1 1.1 0 1.2 -0.1 1.1 -0.1 1.2 -0.3 1.1 -0.3 1.2 -0.5 1.1 -0.5 1.2 -0.5 1.1 -0.3 1.2 0 1.1 0.4 1.2 0.5 1.1 0.6 1.2 0.6 1.2 0.4 1.1 0.2 1.2 0.1 1.1 -0.2 1.2 -0.7 1.1 -1.2 1.2 -1.9 1.1 -2.6 1.2 -3.3 1.1 -3.2 1.2 -2.4 1.1 -0.4 1.2 1.7 1.1 3.3 1.2 3.6 1.1 3.1 1.2 2.2 1.1 1.3 1.2 0.5 1.1 0 1.2 -0.3 1.1 -0.4 1.2 -0.2 1.1 0 1.2 0.4 1.1 0.5 1.2 0.7 1.1 0.8 1.2 0.6 1.1 0.6 1.2 0.4 1.1 0.2 1.2 0.2 1.1 0 1.2 -0.1 1.1 -0.2 1.2 -0.3 1.1 -0.4 1.2 -0.4 1.2 -0.6 1.1 -0.6 1.2 -0.7 1.1 -0.8 1.2 -0.8 1.1 -1 1.2 -1.2 1.1 -1.4 1.2 -1.9 1.1 -2.6 1.2 -3.3 1.1 -3.6 1.2 -3.2 1.1 -1.9 1.2 0.1 1.1 1.6 1.2 2.1 1.1 1.8 1.2 1.1 1.1 0.3 1.2 -0.5 1.1 -1.1 1.2 -1.7 1.1 -1.9 1.2 -1.7 1.1 -1.3 1.2 -0.8 1.1 -0.6 1.2 -0.6 1.1 -0.8 1.2 -0.9 1.1 -1 1.2 -1 1.1 -0.7 1.2 -0.4 1.1 -0.1 1.2 0.4 1.2 0.6 1.1 0.9 1.2 1.2 1.1 1.2 1.2 1.3 1.1 1.3 1.2 1.2 1.1 1.1 1.2 1.1 1.1 1 1.2 0.8 1.1 0.7 1.2 0.5 1.1 0.3 1.2 0.2 1.1 -0.2 1.2 -0.5 1.1 -1.1 1.2 -1.7 1.1 -2 1.2 -1.8 1.1 -0.6 1.2 0.8 1.1 1.6 1.2 1.7 1.1 1.2 1.2 0.8 1.1 0.3 1.2 0.1 1.1 -0.1 1.2 -0.2 1.1 -0.3 1.2 -0.4 1.1 -0.5 1.2 -0.7 1.1 -0.8 1.2 -0.9 1.1 -1.2 1.2 -1.4 1.2 -1.8 1.1 -2.1 1.2 -2.8 1.1 -3.3 1.2 -4 1.1 -4.6 1.2 -5.1 1.1 -5.3 1.2 -5.3 1.1 -4.7 1.2 -3.6 1.1 -2 1.2 -0.2 1.1 1.5 1.2 2.6 1.1 3.1 1.2 2.9 1.1 2.5 1.2 1.6 1.1 0.8 1.2 0.3 1.1 0.1 1.2 0.5 1.1 1.5 1.2 2.6 1.1 3.4 1.2 3.8 1.1 3.7 1.2 3.5 1.1 2.9 1.2 2.5 1.1 2 1.2 1.5 1.1 1.2 1.2 1 1.1 0.7 1.2 0.6 1.2 0.4 1.1 0.2 1.2 0.2 1.1 0 1.2 -0.2 1.1 -0.2 1.2 -0.3 1.1 -0.3 1.2 -0.2 1.1 -0.2 1.2 -0.1 1.1 -0.1 1.2 0 1.1 0.1 1.2 0.1 1.1 0 1.2 0 1.1 0 1.2 -0.1 1.1 -0.3 1.2 -0.3 1.1 -0.4 1.2 -0.4 1.1 -0.5 1.2 -0.5 1.1 -0.4 1.2 -0.3 1.1 0 1.2 0.4 1.1 0.7 1.2 0.9 1.1 1 1.2 0.9 1.1 0.9 1.2 0.8 1.1 0.4 1.2 -0.5 1.1 -2.2 1.2 -3.7"/><path stroke="#F5561C" d="M72 285.3l1.2 11.1 1.1 14.4 1.2 10 1.1 3.9 1.2 -0.4 1.1 -2.6 1.2 -3.1 1.1 -2.3 1.2 -0.3 1.1 1.9 1.2 3.2 1.1 3.4 1.2 3 1.1 2.1 1.2 1.1 1.1 0.5 1.2 0 1.1 -0.5 1.2 -0.9 1.2 -1.1 1.1 -1.3 1.2 -1.6 1.1 -2 1.2 -2.4 1.1 -2.5 1.2 -3 1.1 -3.4 1.2 -3.6 1.1 -3.9 1.2 -4 1.1 -4.2 1.2 -3.8 1.1 -3.5 1.2 -3.3 1.1 -2.7 1.2 -2.3 1.1 -2.5 1.2 -3.2 1.1 -4.8 1.2 -6.2 1.1 -6.6 1.2 -4.1 1.1 1.9 1.2 8.7 1.1 12.7 1.2 13.1 1.1 11.2 1.2 8.2 1.1 5.5 1.2 3.5 1.1 2.2 1.2 1.5 1.1 1 1.2 0.7 1.1 0.3 1.2 -0.3 1.2 -1.3 1.1 -2.4 1.2 -3.9 1.1 -5.5 1.2 -6.7 1.1 -7 1.2 -6 1.1 -3.2 1.2 1.1 1.1 5.2 1.2 7.9 1.1 8.8 1.2 8.2 1.1 6.9 1.2 5.1 1.1 3.4 1.2 2.1 1.1 1 1.2 0.2 1.1 -0.4 1.2 -0.7 1.1 -1 1.2 -1.3 1.1 -1.5 1.2 -1.9 1.1 -2 1.2 -2.2 1.1 -2.2 1.2 -2.3 1.1 -2 1.2 -1.8 1.1 -1.1 1.2 -0.5 1.1 0.4 1.2 1.2 1.1 1.8 1.2 2.3 1.1 2.6 1.2 2.7 1.2 2.7 1.1 2.4 1.2 2.2 1.1 1.9 1.2 1.2 1.1 0.6 1.2 -0.1 1.1 -1.1 1.2 -2.1 1.1 -3.2 1.2 -4.2 1.1 -5 1.2 -5.3 1.1 -4.7 1.2 -3.5 1.1 -1.3 1.2 1.3 1.1 3.5 1.2 4.7 1.1 4.4 1.2 3.2 1.1 0.7 1.2 -1.4 1.1 -2.1 1.2 -0.4 1.1 3 1.2 5 1.1 4.8 1.2 3 1.1 1.2 1.2 -0.5 1.1 -1.8 1.2 -2.8 1.1 -3.8 1.2 -5.2 1.1 -7.3 1.2 -10.3 1.2 -14.1 1.1 -18 1.2 -20.3 1.1 -20.2 1.2 -15.3 1.1 -5.4 1.2 6.3 1.1 15.2 1.2 18.9 1.1 18.2 1.2 15.3 1.1 11.2 1.2 7.7 1.1 4.8 1.2 2.9 1.1 1.9 1.2 1.2 1.1 0.8 1.2 0.5 1.1 0.3 1.2 0.3 1.1 0 1.2 0 1.1 -0.2 1.2 -0.3 1.1 -0.5 1.2 -0.3 1.1 -0.4 1.2 -0.2 1.1 -0.2 1.2 0.3 1.1 0.4 1.2 0.7 1.1 0.7 1.2 0.9 1.1 0.7 1.2 0.6 1.1 0.4 1.2 0.3 1.2 -0.1 1.1 -0.4 1.2 -0.8 1.1 -1.5 1.2 -2.2 1.1 -2.5 1.2 -2 1.1 -0.6 1.2 1.1 1.1 2 1.2 1.7 1.1 0.8 1.2 0 1.1 0 1.2 0.6 1.1 1.6 1.2 2.1 1.1 2.2 1.2 2 1.1 1.6 1.2 1.3 1.1 1 1.2 0.9 1.1 0.7 1.2 0.7 1.1 0.7 1.2 0.4 1.1 0.4 1.2 0.3 1.1 0.3 1.2 0.4 1.1 0.5 1.2 1 1.1 1.2 1.2 1.5 1.1 1.5 1.2 1.3 1.2 1.2 1.1 1 1.2 0.6 1.1 0.2 1.2 -0.3 1.1 -1 1.2 -2 1.1 -2.9 1.2 -3.8 1.1 -3.9 1.2 -3.2 1.1 -1.2 1.2 1.1 1.1 2.5 1.2 2.8 1.1 2 1.2 0.8 1.1 -0.7 1.2 -2 1.1 -3 1.2 -3.4 1.1 -3.3 1.2 -2.5 1.1 -1.1 1.2 0.8 1.1 2.2 1.2 3.3 1.1 4 1.2 4.3 1.1 4.2 1.2 3.9 1.1 3.4 1.2 2.6 1.1 2 1.2 1.4 1.1 0.7 1.2 0.2 1.1 -0.3 1.2 -0.7 1.2 -1 1.1 -1.3 1.2 -1.4 1.1 -1.6 1.2 -1.6 1.1 -1.7 1.2 -2 1.1 -2.6 1.2 -3.6 1.1 -4.7 1.2 -6 1.1 -6.6 1.2 -5.9 1.1 -3.3 1.2 0.6 1.1 3.6 1.2 4.6 1.1 4 1.2 2.5 1.1 1 1.2 -0.3 1.1 -1.4 1.2 -2 1.1 -2.5 1.2 -2.6 1.1 -2.4 1.2 -2.1 1.1 -2.1 1.2 -2.1 1.1 -2.1 1.2 -2.3 1.1 -2.2 1.2 -1.9 1.1 -1.6 1.2 -1.3 1.1 -1.2 1.2 -1.2 1.2 -1.6 1.1 -1.7 1.2 -1.4 1.1 -0.4 1.2 1.7 1.1 4.1 1.2 5.9 1.1 6.6 1.2 6.4 1.1 5.4 1.2 4.4 1.1 3.3 1.2 2.5 1.1 1.7 1.2 1.1 1.1 0.2 1.2 -1.1 1.1 -2.9 1.2 -5 1.1 -6 1.2 -5.1 1.1 -1.2 1.2 3.8 1.1 6.7 1.2 6.6 1.1 5.1 1.2 3 1.1 1.3 1.2 0.2 1.1 -0.4 1.2 -0.9 1.1 -1.2 1.2 -1.5 1.1 -1.8 1.2 -2.1 1.1 -2.4 1.2 -2.7 1.1 -3.2 1.2 -3.6 1.2 -4.4 1.1 -5 1.2 -6.1 1.1 -7 1.2 -8.2 1.1 -9.5 1.2 -10.5 1.1 -10.9 1.2 -11 1.1 -10.2 1.2 -8.5 1.1 -6 1.2 -3.1 1.1 -0.5 1.2 1.5 1.1 2.4 1.2 2.4 1.1 1.8 1.2 1 1.1 0.3 1.2 0.2 1.1 1.1 1.2 2.9 1.1 5.6 1.2 8.3 1.1 10.3 1.2 11 1.1 10.9 1.2 9.9 1.1 8.7 1.2 7.1 1.1 5.7 1.2 4.5 1.1 3.4 1.2 2.6 1.1 1.9 1.2 1.5 1.2 1 1.1 0.7 1.2 0.5 1.1 0.2 1.2 0.2 1.1 0 1.2 0.1 1.1 0 1.2 0.1 1.1 0.4 1.2 0.4 1.1 0.6 1.2 0.7 1.1 0.7 1.2 0.6 1.1 0.6 1.2 0.6 1.1 0.5 1.2 0.5 1.1 0.3 1.2 0.3 1.1 0.2 1.2 0.2 1.1 0.1 1.2 0 1.1 0.1 1.2 0.3 1.1 0.6 1.2 1 1.1 1.3 1.2 1.4 1.1 1 1.2 0.7 1.1 0.2 1.2 -0.2 1.1 -1 1.2 -2.7 1.1 -5.5 1.2 -8"/><path stroke="#F2B01E" d="M72 350.3l1.2 1.1 1.1 1.3 1.2 0.4 1.1 -1 1.2 -2.1 1.1 -2.6 1.2 -2.7 1.1 -2.1 1.2 -0.8 1.1 0.6 1.2 1.5 1.1 1.7 1.2 1.4 1.1 1 1.2 0.7 1.1 0.2 1.2 0.1 1.1 -0.1 1.2 0 1.2 0 1.1 -0.1 1.2 0 1.1 0 1.2 0 1.1 -0.1 1.2 -0.2 1.1 -0.4 1.2 -0.5 1.1 -0.7 1.2 -0.8 1.1 -1 1.2 -1.2 1.1 -1.2 1.2 -1.3 1.1 -1.2 1.2 -1.1 1.1 -1 1.2 -0.9 1.1 -0.9 1.2 -0.8 1.1 -0.8 1.2 -0.4 1.1 0.4 1.2 1.1 1.1 1.7 1.2 1.7 1.1 1.5 1.2 1.2 1.1 1 1.2 0.8 1.1 0.8 1.2 0.6 1.1 0.7 1.2 0.6 1.1 0.5 1.2 0.3 1.2 0.1 1.1 -0.2 1.2 -0.6 1.1 -1 1.2 -1.3 1.1 -1.5 1.2 -1.3 1.1 -0.9 1.2 0 1.1 0.8 1.2 1.2 1.1 1.5 1.2 1.2 1.1 1 1.2 0.6 1.1 0.3 1.2 0 1.1 -0.1 1.2 -0.2 1.1 -0.3 1.2 -0.2 1.1 -0.3 1.2 -0.2 1.1 -0.1 1.2 0 1.1 -0.1 1.2 0.1 1.1 0 1.2 0.2 1.1 0.1 1.2 0.3 1.1 0.3 1.2 0.4 1.1 0.4 1.2 0.4 1.1 0.5 1.2 0.4 1.1 0.4 1.2 0.4 1.2 0.3 1.1 0.2 1.2 0.1 1.1 0 1.2 -0.1 1.1 -0.2 1.2 -0.3 1.1 -0.3 1.2 -0.6 1.1 -0.6 1.2 -0.7 1.1 -0.8 1.2 -0.8 1.1 -0.7 1.2 -0.5 1.1 -0.1 1.2 0.2 1.1 0.5 1.2 0.7 1.1 0.7 1.2 0.7 1.1 0.6 1.2 0.3 1.1 0.2 1.2 0 1.1 -0.2 1.2 -0.3 1.1 -0.3 1.2 -0.3 1.1 -0.4 1.2 -0.4 1.1 -0.3 1.2 -0.3 1.1 -0.3 1.2 -0.4 1.1 -0.6 1.2 -0.9 1.2 -1.4 1.1 -1.9 1.2 -2.2 1.1 -2.2 1.2 -1.5 1.1 -0.4 1.2 1.2 1.1 2.3 1.2 2.7 1.1 2.6 1.2 2.2 1.1 1.7 1.2 1.2 1.1 0.8 1.2 0.6 1.1 0.5 1.2 0.3 1.1 0.2 1.2 0.2 1.1 0.1 1.2 0 1.1 -0.2 1.2 -0.3 1.1 -0.3 1.2 -0.5 1.1 -0.6 1.2 -0.6 1.1 -0.7 1.2 -0.6 1.1 -0.5 1.2 -0.4 1.1 -0.2 1.2 0 1.1 0 1.2 0.3 1.1 0.3 1.2 0.5 1.1 0.4 1.2 0.5 1.2 0.6 1.1 0.5 1.2 0.5 1.1 0.3 1.2 0.3 1.1 0.2 1.2 0.3 1.1 0.7 1.2 1.1 1.1 1.3 1.2 1.3 1.1 1 1.2 0.9 1.1 0.9 1.2 0.7 1.1 0.9 1.2 0.8 1.1 0.8 1.2 0.7 1.1 0.5 1.2 0.4 1.1 0.3 1.2 0.2 1.1 0.1 1.2 0 1.1 -0.1 1.2 -0.1 1.1 -0.3 1.2 -0.3 1.1 -0.3 1.2 -0.2 1.1 -0.2 1.2 0 1.1 0.2 1.2 0.3 1.1 0.3 1.2 0.5 1.2 0.5 1.1 0.5 1.2 0.4 1.1 0.5 1.2 0.4 1.1 0.2 1.2 0.1 1.1 0 1.2 -0.1 1.1 -0.2 1.2 0 1.1 0.4 1.2 0.8 1.1 1 1.2 0.9 1.1 0.8 1.2 0.5 1.1 0.3 1.2 0.1 1.1 -0.1 1.2 -0.2 1.1 -0.1 1.2 0 1.1 0.3 1.2 0.4 1.1 0.6 1.2 0.8 1.1 0.7 1.2 0.7 1.1 0.5 1.2 0.5 1.1 0.4 1.2 0.2 1.1 0.2 1.2 0.2 1.1 0 1.2 0.1 1.1 0 1.2 0.1 1.2 0 1.1 0 1.2 0 1.1 0 1.2 0 1.1 -0.1 1.2 -0.1 1.1 -0.4 1.2 -0.8 1.1 -1.1 1.2 -1.5 1.1 -1.9 1.2 -1.7 1.1 -1.2 1.2 -0.3 1.1 0.2 1.2 0.5 1.1 0.3 1.2 -0.1 1.1 -0.6 1.2 -0.9 1.1 -1.2 1.2 -1.4 1.1 -1.4 1.2 -1.3 1.1 -1.1 1.2 -0.7 1.1 -0.5 1.2 -0.3 1.1 -0.4 1.2 -0.3 1.1 -0.3 1.2 -0.2 1.1 -0.1 1.2 0.1 1.1 0.1 1.2 0.4 1.2 0.4 1.1 0.4 1.2 0.5 1.1 0.5 1.2 0.4 1.1 0.4 1.2 0.3 1.1 0.3 1.2 0.2 1.1 0.2 1.2 0.2 1.1 0.2 1.2 0.1 1.1 0 1.2 0 1.1 -0.1 1.2 -0.3 1.1 -0.5 1.2 -0.8 1.1 -1 1.2 -0.8 1.1 -0.3 1.2 0.2 1.1 0.7 1.2 0.6 1.1 0.4 1.2 0.2 1.1 0 1.2 0 1.1 -0.1 1.2 -0.1 1.1 0 1.2 0 1.1 0 1.2 0.1 1.1 0.2 1.2 0 1.1 0 1.2 0 1.2 -0.2 1.1 -0.5 1.2 -0.7 1.1 -1.1 1.2 -1.5 1.1 -1.9 1.2 -2.3 1.1 -2.4 1.2 -2.5 1.1 -2.3 1.2 -1.8 1.1 -1 1.2 0 1.1 0.8 1.2 1.4 1.1 1.6 1.2 1.6 1.1 1.3 1.2 0.9 1.1 0.5 1.2 0.1 1.1 0.2 1.2 0.5 1.1 1.1 1.2 1.8 1.1 2.3 1.2 2.5 1.1 2.5 1.2 2.3 1.1 2.1 1.2 1.7 1.1 1.3 1.2 1.1 1.1 0.9 1.2 0.8 1.1 0.6 1.2 0.6 1.2 0.5 1.1 0.3 1.2 0.3 1.1 0.1 1.2 0.1 1.1 -0.1 1.2 -0.1 1.1 -0.3 1.2 -0.3 1.1 -0.3 1.2 -0.3 1.1 -0.4 1.2 -0.4 1.1 -0.3 1.2 -0.4 1.1 -0.4 1.2 -0.3 1.1 -0.3 1.2 -0.4 1.1 -0.3 1.2 -0.3 1.1 -0.2 1.2 -0.2 1.1 -0.2 1.2 -0.2 1.1 -0.1 1.2 -0.1 1.1 0.1 1.2 0.2 1.1 0.3 1.2 0.3 1.1 0.4 1.2 0.3 1.1 0.3 1.2 0.3 1.1 0.1 1.2 0.1 1.1 -0.1 1.2 -0.3"/><path stroke="#BA4DCB" d="M72 342l1.2 5.7 1.1 7.7 1.2 5.5 1.1 2.6 1.2 0.5 1.1 -0.5 1.2 -0.7 1.1 -0.5 1.2 0.1 1.1 0.6 1.2 0.9 1.1 1 1.2 0.8 1.1 0.6 1.2 0.4 1.1 0 1.2 -0.1 1.1 -0.3 1.2 -0.4 1.2 -0.6 1.1 -0.7 1.2 -0.9 1.1 -1 1.2 -1.2 1.1 -1.3 1.2 -1.5 1.1 -1.6 1.2 -1.7 1.1 -1.8 1.2 -1.9 1.1 -1.8 1.2 -1.8 1.1 -1.5 1.2 -1.4 1.1 -1 1.2 -0.8 1.1 -0.7 1.2 -0.9 1.1 -1.4 1.2 -1.8 1.1 -1.8 1.2 -0.9 1.1 1.2 1.2 3.7 1.1 5.1 1.2 5.2 1.1 4.4 1.2 3.4 1.1 2.3 1.2 1.5 1.1 1 1.2 0.6 1.1 0.3 1.2 0 1.1 -0.3 1.2 -0.7 1.2 -1.4 1.1 -2.2 1.2 -3.1 1.1 -4.1 1.2 -4.9 1.1 -5 1.2 -4.4 1.1 -2.6 1.2 -0.1 1.1 2.4 1.2 4.1 1.1 4.7 1.2 4.6 1.1 3.8 1.2 2.9 1.1 2 1.2 1.1 1.1 0.6 1.2 0.1 1.1 -0.2 1.2 -0.4 1.1 -0.7 1.2 -0.9 1.1 -1 1.2 -1.2 1.1 -1.3 1.2 -1.4 1.1 -1.4 1.2 -1.5 1.1 -1.3 1.2 -1.2 1.1 -0.9 1.2 -0.6 1.1 -0.3 1.2 0.1 1.1 0.4 1.2 0.5 1.1 0.8 1.2 0.7 1.2 0.8 1.1 0.7 1.2 0.5 1.1 0.4 1.2 0 1.1 -0.3 1.2 -0.8 1.1 -1.6 1.2 -2.3 1.1 -3.2 1.2 -4.1 1.1 -4.8 1.2 -5 1.1 -4.6 1.2 -3.2 1.1 -1.1 1.2 1.5 1.1 3.8 1.2 5.2 1.1 5.7 1.2 5.5 1.1 4.9 1.2 3.8 1.1 2.9 1.2 1.9 1.1 1.1 1.2 0.4 1.1 -0.1 1.2 -0.4 1.1 -0.7 1.2 -1.1 1.1 -1.2 1.2 -1.4 1.1 -1.8 1.2 -2.1 1.1 -2.6 1.2 -3.1 1.2 -4 1.1 -4.6 1.2 -5.1 1.1 -4.9 1.2 -4 1.1 -1.9 1.2 0.4 1.1 2.2 1.2 3 1.1 3.2 1.2 2.8 1.1 2.2 1.2 1.7 1.1 1.3 1.2 1.2 1.1 1.1 1.2 1.2 1.1 1.1 1.2 1.2 1.1 1.2 1.2 1.2 1.1 1.2 1.2 1.2 1.1 1.2 1.2 1 1.1 1.1 1.2 0.9 1.1 1 1.2 0.9 1.1 0.9 1.2 0.9 1.1 0.9 1.2 0.9 1.1 0.9 1.2 0.9 1.1 0.8 1.2 0.7 1.1 0.7 1.2 0.7 1.2 0.5 1.1 0.5 1.2 0.2 1.1 0.1 1.2 -0.2 1.1 -0.2 1.2 -0.2 1.1 0.2 1.2 0.6 1.1 0.8 1.2 0.7 1.1 0.4 1.2 0.2 1.1 0.2 1.2 0.3 1.1 0.6 1.2 0.8 1.1 0.8 1.2 0.7 1.1 0.5 1.2 0.3 1.1 0.2 1.2 0.2 1.1 0 1.2 0 1.1 -0.1 1.2 -0.2 1.1 -0.2 1.2 -0.2 1.1 -0.3 1.2 -0.3 1.1 -0.2 1.2 -0.2 1.1 -0.1 1.2 0 1.1 0 1.2 0.1 1.2 0 1.1 0 1.2 -0.1 1.1 -0.1 1.2 -0.2 1.1 -0.4 1.2 -0.5 1.1 -0.8 1.2 -0.9 1.1 -1 1.2 -0.6 1.1 -0.2 1.2 0.4 1.1 0.8 1.2 0.8 1.1 0.6 1.2 0.3 1.1 0 1.2 -0.4 1.1 -0.6 1.2 -0.7 1.1 -0.7 1.2 -0.3 1.1 0 1.2 0.4 1.1 0.8 1.2 0.9 1.1 1 1.2 0.8 1.1 0.8 1.2 0.5 1.1 0.4 1.2 0.3 1.1 0.2 1.2 0.1 1.1 0 1.2 0 1.1 0 1.2 0 1.2 0 1.1 -0.1 1.2 -0.1 1.1 -0.1 1.2 -0.1 1.1 -0.3 1.2 -0.5 1.1 -0.7 1.2 -1.2 1.1 -1.7 1.2 -2.2 1.1 -2.4 1.2 -2.2 1.1 -1.1 1.2 0.5 1.1 1.6 1.2 2 1.1 1.7 1.2 1.1 1.1 0.5 1.2 0.1 1.1 -0.4 1.2 -0.5 1.1 -0.7 1.2 -0.5 1.1 -0.1 1.2 0.3 1.1 0.5 1.2 0.4 1.1 0.1 1.2 -0.2 1.1 -0.3 1.2 -0.4 1.1 -0.4 1.2 -0.1 1.1 0 1.2 0.3 1.2 0.5 1.1 0.6 1.2 0.8 1.1 0.8 1.2 0.9 1.1 1 1.2 0.9 1.1 0.8 1.2 0.9 1.1 0.7 1.2 0.7 1.1 0.7 1.2 0.5 1.1 0.3 1.2 0.2 1.1 -0.1 1.2 -0.6 1.1 -1.3 1.2 -2 1.1 -2.5 1.2 -2.1 1.1 -0.8 1.2 1 1.1 2 1.2 2 1.1 1.4 1.2 0.8 1.1 0.2 1.2 -0.2 1.1 -0.3 1.2 -0.3 1.1 -0.5 1.2 -0.4 1.1 -0.5 1.2 -0.6 1.1 -0.6 1.2 -0.7 1.1 -0.9 1.2 -1.2 1.2 -1.5 1.1 -1.9 1.2 -2.5 1.1 -3.2 1.2 -3.8 1.1 -4.6 1.2 -5.1 1.1 -5.5 1.2 -5.4 1.1 -4.9 1.2 -3.7 1.1 -2 1.2 -0.1 1.1 1.8 1.2 3 1.1 3.7 1.2 3.7 1.1 3.3 1.2 2.7 1.1 1.9 1.2 1.3 1.1 1.1 1.2 1.2 1.1 1.8 1.2 2.4 1.1 2.8 1.2 3.1 1.1 2.9 1.2 2.7 1.1 2.3 1.2 1.8 1.1 1.5 1.2 1.1 1.1 0.9 1.2 0.7 1.1 0.5 1.2 0.4 1.2 0.4 1.1 0.2 1.2 0.2 1.1 0.2 1.2 0.1 1.1 0.1 1.2 0.1 1.1 0.1 1.2 0.1 1.1 0.2 1.2 0.2 1.1 0.2 1.2 0.3 1.1 0.3 1.2 0.3 1.1 0.2 1.2 0.1 1.1 0.2 1.2 0 1.1 -0.1 1.2 -0.1 1.1 -0.3 1.2 -0.4 1.1 -0.5 1.2 -0.6 1.1 -0.5 1.2 -0.5 1.1 -0.2 1.2 0 1.1 0.3 1.2 0.5 1.1 0.5 1.2 0.5 1.1 0.3 1.2 0.3 1.1 0 1.2 -0.7 1.1 -2.1 1.2 -3.2"/><path stroke="#6DB83A" d="M72 266.8l1.2 9.4 1.1 12.1 1.2 9 1.1 4.6 1.2 1.6 1.1 0.1 1.2 -0.6 1.1 -0.7 1.2 -0.2 1.1 0.5 1.2 1.2 1.1 1.7 1.2 2 1.1 2.2 1.2 2.2 1.1 1.9 1.2 1.7 1.1 1.4 1.2 1 1.2 0.6 1.1 0.1 1.2 -0.4 1.1 -0.7 1.2 -1.1 1.1 -1.3 1.2 -1.7 1.1 -1.9 1.2 -2.2 1.1 -2.3 1.2 -2.4 1.1 -2.6 1.2 -2.6 1.1 -2.6 1.2 -2.5 1.1 -2.5 1.2 -2.5 1.1 -2.6 1.2 -2.9 1.1 -3.4 1.2 -4 1.1 -3.9 1.2 -2.8 1.1 -0.5 1.2 2.2 1.1 4 1.2 4.4 1.1 4.2 1.2 3.5 1.1 3 1.2 2.5 1.1 2.4 1.2 2.2 1.1 2.2 1.2 1.9 1.1 1.5 1.2 0.8 1.2 -0.3 1.1 -1.8 1.2 -3.5 1.1 -5.5 1.2 -6.8 1.1 -7.3 1.2 -6.6 1.1 -3.7 1.2 0.5 1.1 4.7 1.2 7.6 1.1 8.4 1.2 8 1.1 6.7 1.2 5.2 1.1 3.5 1.2 2.2 1.1 1.1 1.2 0.5 1.1 0.2 1.2 -0.1 1.1 -0.4 1.2 -0.5 1.1 -0.7 1.2 -0.8 1.1 -0.9 1.2 -0.9 1.1 -0.9 1.2 -0.7 1.1 -0.6 1.2 -0.3 1.1 -0.1 1.2 0.5 1.1 0.9 1.2 1.2 1.1 1.6 1.2 1.6 1.1 1.7 1.2 1.6 1.2 1.3 1.1 1 1.2 0.7 1.1 0.1 1.2 -0.5 1.1 -1.1 1.2 -2 1.1 -2.9 1.2 -4 1.1 -5 1.2 -6.2 1.1 -6.9 1.2 -7.1 1.1 -6.5 1.2 -5.1 1.1 -2.7 1.2 0.2 1.1 2.8 1.2 4.5 1.1 5.2 1.2 5.2 1.1 4.5 1.2 3.5 1.1 2.7 1.2 1.7 1.1 0.9 1.2 0.2 1.1 -0.3 1.2 -0.8 1.1 -1.1 1.2 -1.5 1.1 -1.7 1.2 -2.1 1.1 -2.4 1.2 -2.9 1.1 -3.4 1.2 -4 1.2 -4.8 1.1 -5.5 1.2 -5.9 1.1 -5.3 1.2 -3.7 1.1 -0.9 1.2 2.4 1.1 5 1.2 6.3 1.1 6.5 1.2 6.1 1.1 5.4 1.2 4.5 1.1 3.9 1.2 3.4 1.1 3.1 1.2 2.8 1.1 2.5 1.2 2.4 1.1 2.2 1.2 2 1.1 1.8 1.2 1.8 1.1 1.6 1.2 1.5 1.1 1.5 1.2 1.6 1.1 1.4 1.2 1.5 1.1 1.5 1.2 1.5 1.1 1.7 1.2 1.6 1.1 1.6 1.2 1.6 1.1 1.5 1.2 1.4 1.1 1.1 1.2 1 1.2 0.6 1.1 0.6 1.2 0 1.1 -0.2 1.2 -0.6 1.1 -0.8 1.2 -0.8 1.1 -0.4 1.2 0 1.1 0.1 1.2 -0.2 1.1 -0.5 1.2 -0.9 1.1 -0.7 1.2 -0.2 1.1 0.4 1.2 1.1 1.1 1 1.2 0.9 1.1 0.7 1.2 0.4 1.1 0.2 1.2 0 1.1 -0.2 1.2 -0.2 1.1 -0.5 1.2 -0.6 1.1 -1 1.2 -1.3 1.1 -1.7 1.2 -1.9 1.1 -2.3 1.2 -2.4 1.1 -2.2 1.2 -1.8 1.1 -1 1.2 0 1.2 0.9 1.1 1.3 1.2 1.2 1.1 1.1 1.2 0.7 1.1 0.3 1.2 -0.2 1.1 -0.7 1.2 -0.9 1.1 -1 1.2 -0.7 1.1 0.4 1.2 1.1 1.1 1.5 1.2 1.5 1.1 0.8 1.2 -0.1 1.1 -1.1 1.2 -1.9 1.1 -2.6 1.2 -2.9 1.1 -2.7 1.2 -2.2 1.1 -0.9 1.2 0.3 1.1 1.4 1.2 2 1.1 2.1 1.2 2 1.1 1.8 1.2 1.4 1.1 1.2 1.2 0.8 1.1 0.6 1.2 0.5 1.1 0.4 1.2 0.3 1.1 0.2 1.2 0.2 1.2 0 1.1 -0.1 1.2 -0.1 1.1 -0.2 1.2 -0.4 1.1 -0.4 1.2 -0.5 1.1 -0.7 1.2 -0.9 1.1 -1.4 1.2 -1.7 1.1 -1.9 1.2 -1.7 1.1 -1.1 1.2 0 1.1 0.8 1.2 1 1.1 0.7 1.2 0.3 1.1 -0.2 1.2 -0.8 1.1 -1.3 1.2 -1.6 1.1 -1.8 1.2 -1.4 1.1 -0.9 1.2 -0.1 1.1 0.2 1.2 0.4 1.1 0.2 1.2 0.2 1.1 0.1 1.2 0.1 1.1 0.2 1.2 0.6 1.1 0.9 1.2 1.1 1.2 1.4 1.1 1.5 1.2 1.7 1.1 1.6 1.2 1.5 1.1 1.5 1.2 1.4 1.1 1.2 1.2 1.1 1.1 0.9 1.2 0.8 1.1 0.6 1.2 0.4 1.1 0.2 1.2 -0.1 1.1 -0.7 1.2 -1.8 1.1 -3.3 1.2 -4.8 1.1 -5.7 1.2 -4.9 1.1 -1.5 1.2 2.6 1.1 4.8 1.2 4.9 1.1 3.8 1.2 2.3 1.1 1 1.2 0.4 1.1 -0.1 1.2 -0.2 1.1 -0.3 1.2 -0.3 1.1 -0.4 1.2 -0.6 1.1 -0.7 1.2 -0.9 1.1 -1.2 1.2 -1.7 1.2 -2.2 1.1 -2.8 1.2 -3.5 1.1 -4.4 1.2 -5.3 1.1 -6.2 1.2 -6.9 1.1 -7.4 1.2 -7.6 1.1 -7.1 1.2 -6.2 1.1 -4.5 1.2 -2.7 1.1 -0.9 1.2 0.5 1.1 1.1 1.2 1.4 1.1 1.3 1.2 0.9 1.1 0.4 1.2 0.3 1.1 0.4 1.2 1.1 1.1 2.1 1.2 3.1 1.1 4 1.2 4.5 1.1 4.5 1.2 4.2 1.1 3.8 1.2 3.3 1.1 2.8 1.2 2.4 1.1 1.9 1.2 1.7 1.1 1.4 1.2 1.1 1.2 1.1 1.1 0.8 1.2 0.8 1.1 0.7 1.2 0.7 1.1 0.6 1.2 0.7 1.1 0.7 1.2 0.6 1.1 0.5 1.2 0.4 1.1 0.4 1.2 0.4 1.1 0.1 1.2 0.1 1.1 -0.1 1.2 -0.3 1.1 -0.2 1.2 -0.3 1.1 -0.4 1.2 -0.5 1.1 -0.5 1.2 -0.5 1.1 -0.4 1.2 -0.4 1.1 -0.3 1.2 -0.2 1.1 -0.1 1.2 -0.1 1.1 0.1 1.2 0.3 1.1 0.1 1.2 0.4 1.1 0.3 1.2 0.4 1.1 0.5 1.2 0.4 1.1 0.4 1.2 0.4"/><path stroke="#2FB8F0" d="M72 308.1l1.2 12.8 1.1 16.5 1.2 11.3 1.1 4.1 1.2 -0.8 1.1 -3.2 1.2 -3.6 1.1 -2.5 1.2 0 1.1 2.8 1.2 4.5 1.1 4.7 1.2 4.1 1.1 3 1.2 2 1.1 1.1 1.2 0.6 1.1 0.1 1.2 0 1.2 -0.2 1.1 -0.2 1.2 -0.4 1.1 -0.4 1.2 -0.6 1.1 -0.7 1.2 -1 1.1 -1.1 1.2 -1.4 1.1 -1.5 1.2 -1.8 1.1 -2 1.2 -2.1 1.1 -2.1 1.2 -2 1.1 -1.9 1.2 -1.9 1.1 -2.1 1.2 -2.6 1.1 -3.4 1.2 -4.2 1.1 -4.3 1.2 -2.9 1.1 0.2 1.2 4.1 1.1 6.3 1.2 6.4 1.1 5.3 1.2 3.6 1.1 2 1.2 0.8 1.1 -0.1 1.2 -0.6 1.1 -1 1.2 -1.6 1.1 -2.1 1.2 -3.1 1.2 -4.5 1.1 -6.4 1.2 -8.7 1.1 -11 1.2 -12.6 1.1 -13 1.2 -11.2 1.1 -6.4 1.2 0.2 1.1 7.1 1.2 11.5 1.1 13.2 1.2 12.7 1.1 10.8 1.2 8.3 1.1 5.9 1.2 3.9 1.1 2.3 1.2 1.1 1.1 0.3 1.2 -0.3 1.1 -0.8 1.2 -1.4 1.1 -1.8 1.2 -2.3 1.1 -2.6 1.2 -3 1.1 -3 1.2 -3.2 1.1 -3.1 1.2 -2.6 1.1 -2.2 1.2 -1.5 1.1 -0.6 1.2 0.2 1.1 0.9 1.2 1.6 1.1 1.7 1.2 2.1 1.2 2 1.1 1.9 1.2 1.7 1.1 1.3 1.2 1 1.1 0.5 1.2 0 1.1 -0.6 1.2 -1.3 1.1 -1.9 1.2 -2.6 1.1 -3 1.2 -3.2 1.1 -3 1.2 -2.3 1.1 -1.1 1.2 0.4 1.1 1.7 1.2 2.5 1.1 2.8 1.2 2.9 1.1 2.6 1.2 2.1 1.1 1.6 1.2 1.1 1.1 0.6 1.2 0.3 1.1 0 1.2 -0.3 1.1 -0.6 1.2 -0.9 1.1 -1.2 1.2 -1.5 1.1 -1.9 1.2 -2.3 1.1 -2.9 1.2 -3.5 1.2 -4.2 1.1 -4.8 1.2 -5.3 1.1 -5.2 1.2 -4.3 1.1 -2.6 1.2 -0.5 1.1 1.1 1.2 2 1.1 2.3 1.2 2.2 1.1 2 1.2 1.8 1.1 1.7 1.2 1.7 1.1 1.8 1.2 1.8 1.1 2 1.2 2 1.1 2 1.2 2 1.1 1.8 1.2 1.8 1.1 1.6 1.2 1.5 1.1 1.3 1.2 1.3 1.1 1.2 1.2 1.2 1.1 1.2 1.2 1.3 1.1 1.3 1.2 1.4 1.1 1.2 1.2 1.3 1.1 1.1 1.2 0.9 1.1 0.7 1.2 0.5 1.2 0.3 1.1 0.1 1.2 -0.2 1.1 -0.5 1.2 -0.8 1.1 -1 1.2 -0.9 1.1 -0.5 1.2 -0.1 1.1 0.1 1.2 -0.1 1.1 -0.3 1.2 -0.5 1.1 -0.5 1.2 -0.1 1.1 0.3 1.2 0.6 1.1 0.6 1.2 0.7 1.1 0.4 1.2 0.3 1.1 0.1 1.2 0 1.1 0 1.2 -0.2 1.1 -0.4 1.2 -0.6 1.1 -0.8 1.2 -1.1 1.1 -1.1 1.2 -1.1 1.1 -0.8 1.2 -0.4 1.1 0.1 1.2 0.4 1.1 0.5 1.2 0.6 1.2 0.4 1.1 0.2 1.2 0 1.1 -0.4 1.2 -0.9 1.1 -1.6 1.2 -2.7 1.1 -3.7 1.2 -4.4 1.1 -4.3 1.2 -2.8 1.1 -0.1 1.2 2.8 1.1 4.7 1.2 4.9 1.1 4.4 1.2 3 1.1 1.9 1.2 0.8 1.1 0.1 1.2 -0.1 1.1 -0.1 1.2 0.3 1.1 1.2 1.2 1.9 1.1 2.5 1.2 2.8 1.1 2.9 1.2 2.6 1.1 2.4 1.2 2 1.1 1.4 1.2 1.2 1.1 0.7 1.2 0.3 1.1 0 1.2 -0.4 1.1 -0.6 1.2 -1 1.2 -1.2 1.1 -1.5 1.2 -1.7 1.1 -1.8 1.2 -2 1.1 -2.1 1.2 -2.1 1.1 -2.3 1.2 -2.4 1.1 -2.7 1.2 -2.9 1.1 -2.9 1.2 -2.4 1.1 -1.1 1.2 0.5 1.1 1.7 1.2 2.3 1.1 2.2 1.2 1.7 1.1 1.1 1.2 0.7 1.1 0.1 1.2 -0.3 1.1 -0.6 1.2 -0.3 1.1 0 1.2 0.6 1.1 0.7 1.2 0.6 1.1 0.4 1.2 0.1 1.1 -0.2 1.2 -0.3 1.1 -0.4 1.2 -0.3 1.1 -0.3 1.2 -0.3 1.2 -0.4 1.1 -0.5 1.2 -0.8 1.1 -1 1.2 -1.2 1.1 -1.4 1.2 -1.4 1.1 -1 1.2 -0.6 1.1 0 1.2 0.6 1.1 0.8 1.2 0.8 1.1 0.6 1.2 0.3 1.1 -0.5 1.2 -1.5 1.1 -3 1.2 -4.6 1.1 -5.3 1.2 -4.4 1.1 -0.7 1.2 3.4 1.1 6 1.2 6.2 1.1 5 1.2 3.5 1.1 2.2 1.2 1.4 1.1 0.9 1.2 0.7 1.1 0.4 1.2 0.2 1.1 0 1.2 -0.3 1.1 -0.7 1.2 -0.9 1.1 -1.3 1.2 -1.8 1.2 -2.1 1.1 -2.5 1.2 -3.1 1.1 -3.5 1.2 -4 1.1 -4.4 1.2 -4.5 1.1 -4.4 1.2 -4.2 1.1 -3.3 1.2 -2 1.1 -0.2 1.2 1.8 1.1 3.5 1.2 4.7 1.1 5.1 1.2 5 1.1 4.4 1.2 3.5 1.1 2.5 1.2 1.7 1.1 1.1 1.2 0.9 1.1 1.1 1.2 1.6 1.1 1.7 1.2 1.7 1.1 1.4 1.2 1 1.1 0.4 1.2 0 1.1 -0.5 1.2 -0.8 1.1 -1.1 1.2 -1.1 1.1 -1.3 1.2 -1.1 1.2 -0.9 1.1 -0.6 1.2 -0.3 1.1 0 1.2 0.3 1.1 0.5 1.2 0.6 1.1 0.7 1.2 0.7 1.1 0.6 1.2 0.3 1.1 0.2 1.2 -0.2 1.1 -0.6 1.2 -0.7 1.1 -1 1.2 -1.1 1.1 -1.1 1.2 -0.9 1.1 -0.4 1.2 0.1 1.1 0.5 1.2 1 1.1 1 1.2 1 1.1 1 1.2 0.9 1.1 0.9 1.2 1 1.1 1.1 1.2 0.9 1.1 0.8 1.2 0.6 1.1 0.3 1.2 0 1.1 -0.3 1.2 -1.1 1.1 -2.3 1.2 -3.5"/><path stroke="#D81E3C" d="M72 297.5l1.2 12.9 1.1 16.4 1.2 10.5 1.1 2.5 1.2 -3.2 1.1 -6.4 1.2 -7.1 1.1 -5.5 1.2 -1.6 1.1 3.3 1.2 7.1 1.1 9.2 1.2 9.1 1.1 7.3 1.2 5 1.1 3.1 1.2 1.6 1.1 0.8 1.2 0.2 1.2 -0.2 1.1 -0.5 1.2 -0.7 1.1 -1 1.2 -1.3 1.1 -1.6 1.2 -1.8 1.1 -2.1 1.2 -2.3 1.1 -2.6 1.2 -3.1 1.1 -3.4 1.2 -3.9 1.1 -4.1 1.2 -3.9 1.1 -3.2 1.2 -1.9 1.1 -0.5 1.2 -0.1 1.1 -0.7 1.2 -1.8 1.1 -2.3 1.2 -1.3 1.1 1.7 1.2 5.4 1.1 7.7 1.2 7.8 1.1 6.7 1.2 5.1 1.1 3.6 1.2 2.4 1.1 1.6 1.2 1.1 1.1 0.7 1.2 0.2 1.1 -0.1 1.2 -0.8 1.2 -1.7 1.1 -2.9 1.2 -4.2 1.1 -5.5 1.2 -6.7 1.1 -7.1 1.2 -6.3 1.1 -3.8 1.2 -0.4 1.1 3.1 1.2 5.5 1.1 6.2 1.2 5.9 1.1 4.9 1.2 3.5 1.1 2.2 1.2 1.1 1.1 0.3 1.2 -0.3 1.1 -0.8 1.2 -1.1 1.1 -1.3 1.2 -1.7 1.1 -1.9 1.2 -2.2 1.1 -2.4 1.2 -2.6 1.1 -2.8 1.2 -2.6 1.1 -2.5 1.2 -2.1 1.1 -1.5 1.2 -0.8 1.1 -0.1 1.2 0.7 1.1 1.4 1.2 2 1.1 2.2 1.2 2.5 1.2 2.4 1.1 2.2 1.2 2 1.1 1.6 1.2 1.1 1.1 0.5 1.2 -0.2 1.1 -1.1 1.2 -2.2 1.1 -3.1 1.2 -4.2 1.1 -5.1 1.2 -5.6 1.1 -5.3 1.2 -4.3 1.1 -2.3 1.2 0.3 1.1 2.6 1.2 4.3 1.1 4.9 1.2 4.9 1.1 4.3 1.2 3.4 1.1 2.7 1.2 1.9 1.1 1.3 1.2 0.8 1.1 0.5 1.2 0.3 1.1 0.1 1.2 -0.1 1.1 -0.2 1.2 -0.3 1.1 -0.7 1.2 -1 1.1 -1.6 1.2 -2.3 1.2 -3.3 1.1 -4.2 1.2 -5 1.1 -4.9 1.2 -4.1 1.1 -2 1.2 0.5 1.1 2.3 1.2 3.3 1.1 3.1 1.2 2.6 1.1 1.8 1.2 1.2 1.1 0.7 1.2 0.5 1.1 0.5 1.2 0.5 1.1 0.6 1.2 0.7 1.1 0.7 1.2 0.8 1.1 1 1.2 0.9 1.1 1 1.2 1 1.1 1 1.2 1 1.1 1 1.2 1.1 1.1 1.2 1.2 1.3 1.1 1.4 1.2 1.5 1.1 1.4 1.2 1.5 1.1 1.3 1.2 1.3 1.1 1.1 1.2 1 1.2 0.7 1.1 0.4 1.2 -0.5 1.1 -1.5 1.2 -2.7 1.1 -3.2 1.2 -2.4 1.1 0.1 1.2 3.3 1.1 4.8 1.2 4.6 1.1 3.3 1.2 2 1.1 1.2 1.2 0.9 1.1 1 1.2 1.1 1.1 0.9 1.2 0.7 1.1 0.3 1.2 0 1.1 -0.1 1.2 -0.4 1.1 -0.4 1.2 -0.5 1.1 -0.6 1.2 -0.5 1.1 -0.7 1.2 -0.7 1.1 -0.7 1.2 -0.7 1.1 -0.5 1.2 -0.2 1.1 0 1.2 0.3 1.1 0.2 1.2 0.3 1.2 0.1 1.1 0 1.2 -0.2 1.1 -0.3 1.2 -0.8 1.1 -1.3 1.2 -2 1.1 -2.6 1.2 -3 1.1 -2.9 1.2 -2.1 1.1 -0.3 1.2 1.4 1.1 2.5 1.2 2.7 1.1 2.3 1.2 1.4 1.1 0.7 1.2 -0.2 1.1 -0.6 1.2 -0.9 1.1 -0.8 1.2 -0.3 1.1 0.2 1.2 1.1 1.1 1.5 1.2 1.8 1.1 1.9 1.2 1.7 1.1 1.5 1.2 1.1 1.1 0.9 1.2 0.7 1.1 0.4 1.2 0.3 1.1 0.2 1.2 0.1 1.1 0 1.2 -0.1 1.2 -0.1 1.1 -0.2 1.2 -0.3 1.1 -0.4 1.2 -0.5 1.1 -0.7 1.2 -0.9 1.1 -1.3 1.2 -1.8 1.1 -2.6 1.2 -3.3 1.1 -3.7 1.2 -3.3 1.1 -2 1.2 0.1 1.1 1.7 1.2 2.4 1.1 2 1.2 1.5 1.1 0.6 1.2 0 1.1 -0.5 1.2 -0.8 1.1 -1 1.2 -0.9 1.1 -0.5 1.2 0 1.1 0.2 1.2 0.1 1.1 -0.1 1.2 -0.3 1.1 -0.5 1.2 -0.4 1.1 -0.4 1.2 -0.1 1.1 0 1.2 0.3 1.2 0.5 1.1 0.6 1.2 0.7 1.1 0.7 1.2 0.8 1.1 0.6 1.2 0.6 1.1 0.5 1.2 0.4 1.1 0.2 1.2 0.2 1.1 0.1 1.2 0 1.1 -0.3 1.2 -0.7 1.1 -1.3 1.2 -2.6 1.1 -4.4 1.2 -6.4 1.1 -7.5 1.2 -6.3 1.1 -2.1 1.2 3.4 1.1 6.5 1.2 6.5 1.1 4.9 1.2 2.9 1.1 1.3 1.2 0.3 1.1 -0.2 1.2 -0.5 1.1 -0.6 1.2 -0.7 1.1 -0.8 1.2 -0.8 1.1 -1 1.2 -1.1 1.1 -1.2 1.2 -1.4 1.2 -1.5 1.1 -1.8 1.2 -1.9 1.1 -2.2 1.2 -2.4 1.1 -2.6 1.2 -2.7 1.1 -2.9 1.2 -2.7 1.1 -2.4 1.2 -2.1 1.1 -1.4 1.2 -0.7 1.1 -0.2 1.2 0.5 1.1 0.6 1.2 0.8 1.1 0.7 1.2 0.6 1.1 0.5 1.2 0.4 1.1 0.6 1.2 1 1.1 1.7 1.2 2.3 1.1 2.9 1.2 3.1 1.1 3.1 1.2 2.9 1.1 2.6 1.2 2.3 1.1 1.9 1.2 1.6 1.1 1.3 1.2 1.2 1.1 1 1.2 0.8 1.2 0.7 1.1 0.5 1.2 0.5 1.1 0.3 1.2 0.2 1.1 0.2 1.2 0.2 1.1 0.1 1.2 0.2 1.1 0.2 1.2 0.2 1.1 0.3 1.2 0.3 1.1 0.3 1.2 0.4 1.1 0.3 1.2 0.3 1.1 0.2 1.2 0.1 1.1 0.1 1.2 0 1.1 -0.2 1.2 -0.2 1.1 -0.5 1.2 -0.5 1.1 -0.5 1.2 -0.4 1.1 -0.1 1.2 0.4 1.1 0.9 1.2 0.9 1.1 1 1.2 1 1.1 0.8 1.2 0.6 1.1 0.4 1.2 -0.2 1.1 -1.2 1.2 -2.2"/><path stroke="#1F66D0" d="M72 266l1.2 14.9 1.1 20.2 1.2 14.1 1.1 5.4 1.2 -0.6 1.1 -3.7 1.2 -4.7 1.1 -3.9 1.2 -1.8 1.1 0.7 1.2 2.5 1.1 3.2 1.2 3 1.1 2.3 1.2 1.4 1.1 0.8 1.2 0.3 1.1 -0.2 1.2 -0.4 1.2 -0.5 1.1 -0.7 1.2 -0.9 1.1 -1.1 1.2 -1.3 1.1 -1.6 1.2 -2 1.1 -2.1 1.2 -2.4 1.1 -2.6 1.2 -2.7 1.1 -2.7 1.2 -2.5 1.1 -2.2 1.2 -1.6 1.1 -1.1 1.2 -0.5 1.1 -0.1 1.2 -0.1 1.1 -0.6 1.2 -1.1 1.1 -1 1.2 0.4 1.1 3.6 1.2 7.3 1.1 9.4 1.2 9.3 1.1 8 1.2 6.1 1.1 4.4 1.2 3.1 1.1 2 1.2 1.4 1.1 0.9 1.2 0.5 1.1 0 1.2 -0.6 1.2 -1.4 1.1 -2.5 1.2 -3.6 1.1 -4.8 1.2 -5.8 1.1 -6 1.2 -5.3 1.1 -3 1.2 0.2 1.1 3.3 1.2 5.3 1.1 6 1.2 5.5 1.1 4.5 1.2 3.2 1.1 1.8 1.2 0.5 1.1 -0.4 1.2 -1.1 1.1 -1.9 1.2 -2.5 1.1 -3 1.2 -3.5 1.1 -4.1 1.2 -4.5 1.1 -4.9 1.2 -5.1 1.1 -5.2 1.2 -5.1 1.1 -4.6 1.2 -4.1 1.1 -3.1 1.2 -1.9 1.1 -0.5 1.2 0.7 1.1 1.9 1.2 2.7 1.1 3.3 1.2 3.7 1.2 3.8 1.1 3.6 1.2 3.3 1.1 2.9 1.2 2.3 1.1 1.6 1.2 0.7 1.1 -0.3 1.2 -1.4 1.1 -2.8 1.2 -3.9 1.1 -4.8 1.2 -5.2 1.1 -4.9 1.2 -3.7 1.1 -1.6 1.2 0.9 1.1 3.2 1.2 4.5 1.1 5.1 1.2 4.9 1.1 4.1 1.2 3.1 1.1 2.1 1.2 1.2 1.1 0.3 1.2 -0.3 1.1 -0.7 1.2 -1.1 1.1 -1.4 1.2 -1.7 1.1 -2.2 1.2 -2.4 1.1 -3 1.2 -3.8 1.1 -5 1.2 -6.6 1.2 -8.5 1.1 -10.4 1.2 -11.6 1.1 -11.3 1.2 -8.7 1.1 -3.7 1.2 2.3 1.1 7 1.2 9.1 1.1 9 1.2 7.9 1.1 6 1.2 4.4 1.1 3 1.2 2.1 1.1 1.5 1.2 1.1 1.1 1 1.2 0.8 1.1 0.9 1.2 1.2 1.1 1.6 1.2 2.1 1.1 2.4 1.2 2.8 1.1 3 1.2 3.1 1.1 3 1.2 2.9 1.1 2.8 1.2 2.7 1.1 2.7 1.2 2.5 1.1 2.4 1.2 2.4 1.1 2.2 1.2 2 1.1 1.9 1.2 1.7 1.2 1.4 1.1 1.1 1.2 0.5 1.1 -0.2 1.2 -0.9 1.1 -1.3 1.2 -1.1 1.1 0 1.2 1.6 1.1 2.1 1.2 1.5 1.1 0.4 1.2 -0.2 1.1 -0.4 1.2 0.4 1.1 1.5 1.2 2.4 1.1 2.5 1.2 2 1.1 1.6 1.2 0.9 1.1 0.6 1.2 0.2 1.1 0 1.2 -0.1 1.1 -0.4 1.2 -0.6 1.1 -0.9 1.2 -1.2 1.1 -1.4 1.2 -1.2 1.1 -1 1.2 -0.4 1.1 0.2 1.2 0.5 1.1 0.7 1.2 0.7 1.2 0.6 1.1 0.3 1.2 0.1 1.1 -0.4 1.2 -1 1.1 -1.9 1.2 -3.2 1.1 -4.4 1.2 -5.3 1.1 -5.4 1.2 -4 1.1 -1.1 1.2 2 1.1 4 1.2 4 1.1 2.9 1.2 1 1.1 -0.9 1.2 -2.5 1.1 -3.7 1.2 -4.2 1.1 -4 1.2 -2.9 1.1 -1.2 1.2 0.6 1.1 2.1 1.2 2.9 1.1 3 1.2 2.6 1.1 2.2 1.2 1.5 1.1 0.8 1.2 0.5 1.1 0 1.2 -0.1 1.1 -0.2 1.2 -0.3 1.1 -0.4 1.2 -0.4 1.2 -0.3 1.1 -0.3 1.2 -0.2 1.1 -0.2 1.2 -0.2 1.1 -0.3 1.2 -0.3 1.1 -0.4 1.2 -1 1.1 -1.4 1.2 -1.7 1.1 -1.9 1.2 -1.6 1.1 -0.7 1.2 0.5 1.1 1.1 1.2 1.3 1.1 0.8 1.2 0.1 1.1 -0.6 1.2 -1.1 1.1 -1.5 1.2 -2 1.1 -2.1 1.2 -2 1.1 -1.6 1.2 -1.2 1.1 -1 1.2 -0.9 1.1 -1 1.2 -0.9 1.1 -0.9 1.2 -0.7 1.1 -0.4 1.2 0 1.1 0.3 1.2 0.6 1.2 0.9 1.1 1.2 1.2 1.3 1.1 1.3 1.2 1.3 1.1 1.3 1.2 1.2 1.1 1.2 1.2 1 1.1 0.8 1.2 0.8 1.1 0.6 1.2 0.3 1.1 0.1 1.2 -0.1 1.1 -0.7 1.2 -1.5 1.1 -2.8 1.2 -4.5 1.1 -5.8 1.2 -5.6 1.1 -3 1.2 0.9 1.1 3.7 1.2 4.5 1.1 3.7 1.2 2.3 1.1 1.3 1.2 0.4 1.1 0.2 1.2 -0.1 1.1 -0.1 1.2 -0.3 1.1 -0.5 1.2 -0.7 1.1 -1 1.2 -1.3 1.1 -1.8 1.2 -2.3 1.2 -3.1 1.1 -3.8 1.2 -4.8 1.1 -5.8 1.2 -6.9 1.1 -7.9 1.2 -8.7 1.1 -9 1.2 -8.8 1.1 -7.8 1.2 -5.7 1.1 -2.8 1.2 0.5 1.1 3.4 1.2 5.5 1.1 6.6 1.2 6.5 1.1 5.6 1.2 4.4 1.1 3 1.2 1.6 1.1 1 1.2 1.2 1.1 1.9 1.2 3.2 1.1 4.1 1.2 4.7 1.1 4.8 1.2 4.5 1.1 4 1.2 3.5 1.1 2.9 1.2 2.6 1.1 2.4 1.2 2.2 1.1 2.2 1.2 2.2 1.2 2.1 1.1 2.2 1.2 2.2 1.1 2.1 1.2 2.1 1.1 1.9 1.2 2 1.1 1.8 1.2 1.8 1.1 1.8 1.2 1.7 1.1 1.8 1.2 1.7 1.1 1.6 1.2 1.5 1.1 1.4 1.2 1.2 1.1 1.1 1.2 0.8 1.1 0.8 1.2 0.5 1.1 0.2 1.2 -0.1 1.1 -0.4 1.2 -0.5 1.1 -0.6 1.2 -0.3 1.1 0.1 1.2 0.7 1.1 1.4 1.2 1.7 1.1 1.5 1.2 1.3 1.1 1 1.2 0.6 1.1 -0.2 1.2 -1.7 1.1 -4.3 1.2 -6.8"/><path stroke="#F5561C" d="M72 285.4l1.2 12 1.1 16.2 1.2 11.2 1.1 4 1.2 -1.1 1.1 -3.7 1.2 -4.3 1.1 -2.9 1.2 -0.4 1.1 2.8 1.2 4.5 1.1 4.8 1.2 4.2 1.1 3 1.2 2 1.1 0.8 1.2 0.3 1.1 -0.3 1.2 -0.5 1.2 -0.8 1.1 -0.9 1.2 -1.1 1.1 -1.4 1.2 -1.6 1.1 -1.9 1.2 -2.2 1.1 -2.5 1.2 -2.8 1.1 -3.1 1.2 -3.4 1.1 -3.5 1.2 -3.5 1.1 -3.5 1.2 -3.1 1.1 -2.8 1.2 -2.3 1.1 -2 1.2 -1.9 1.1 -2 1.2 -2.3 1.1 -2.1 1.2 -0.8 1.1 1.7 1.2 4.5 1.1 6.2 1.2 6.3 1.1 5.4 1.2 4.2 1.1 3.1 1.2 2.2 1.1 1.6 1.2 1.2 1.1 1.1 1.2 1 1.1 0.7 1.2 0.6 1.2 0.3 1.1 -0.1 1.2 -0.6 1.1 -1.2 1.2 -1.6 1.1 -1.7 1.2 -1.5 1.1 -0.4 1.2 0.8 1.1 2 1.2 2.8 1.1 3.1 1.2 2.7 1.1 2.2 1.2 1.4 1.1 0.7 1.2 0.1 1.1 -0.4 1.2 -1 1.1 -1.3 1.2 -1.9 1.1 -2.2 1.2 -2.5 1.1 -3.1 1.2 -3.4 1.1 -3.7 1.2 -3.9 1.1 -4.1 1.2 -4 1.1 -3.7 1.2 -3.2 1.1 -2.3 1.2 -1.2 1.1 -0.1 1.2 1.1 1.1 2.2 1.2 2.9 1.1 3.3 1.2 3.5 1.2 3.6 1.1 3.2 1.2 2.9 1.1 2.6 1.2 1.9 1.1 1.4 1.2 0.5 1.1 -0.2 1.2 -1 1.1 -1.8 1.2 -2.6 1.1 -3.1 1.2 -3.4 1.1 -3.1 1.2 -2.3 1.1 -0.8 1.2 0.9 1.1 2.4 1.2 3.2 1.1 3.5 1.2 3.3 1.1 2.7 1.2 1.8 1.1 1.1 1.2 0.2 1.1 -0.5 1.2 -1 1.1 -1.5 1.2 -1.9 1.1 -2.3 1.2 -2.6 1.1 -3.1 1.2 -3.5 1.1 -4.2 1.2 -4.9 1.1 -6.2 1.2 -7.9 1.2 -9.8 1.1 -11.8 1.2 -13 1.1 -12.6 1.2 -9.4 1.1 -3.6 1.2 3.3 1.1 8.8 1.2 11.1 1.1 11.5 1.2 10.1 1.1 8.4 1.2 6.7 1.1 5.5 1.2 4.8 1.1 4.2 1.2 3.9 1.1 3.8 1.2 3.5 1.1 3.5 1.2 3.1 1.1 2.8 1.2 2.6 1.1 2.1 1.2 1.9 1.1 1.5 1.2 1.2 1.1 1 1.2 0.8 1.1 0.8 1.2 0.8 1.1 0.8 1.2 0.9 1.1 0.7 1.2 0.7 1.1 0.5 1.2 0.3 1.1 0.2 1.2 -0.1 1.2 -0.3 1.1 -0.6 1.2 -0.9 1.1 -1.3 1.2 -1.8 1.1 -2 1.2 -1.8 1.1 -1 1.2 -0.1 1.1 0.2 1.2 0 1.1 -0.4 1.2 -0.9 1.1 -0.8 1.2 -0.4 1.1 0.1 1.2 0.5 1.1 0.4 1.2 0.3 1.1 -0.1 1.2 -0.2 1.1 -0.4 1.2 -0.6 1.1 -0.5 1.2 -0.7 1.1 -0.7 1.2 -0.9 1.1 -1 1.2 -1.2 1.1 -1.1 1.2 -1 1.1 -0.6 1.2 0 1.1 0.9 1.2 1.2 1.1 1.4 1.2 1.4 1.2 1.3 1.1 1.1 1.2 0.7 1.1 0.2 1.2 -0.2 1.1 -1 1.2 -1.9 1.1 -3.1 1.2 -4 1.1 -4.4 1.2 -3.6 1.1 -1.7 1.2 0.9 1.1 2.7 1.2 3.4 1.1 3 1.2 1.9 1.1 0.8 1.2 -0.1 1.1 -0.7 1.2 -0.8 1.1 -0.4 1.2 0.2 1.1 1.4 1.2 2.3 1.1 3.1 1.2 3.5 1.1 3.5 1.2 3.1 1.1 2.7 1.2 2.1 1.1 1.5 1.2 0.9 1.1 0.5 1.2 0 1.1 -0.2 1.2 -0.7 1.1 -0.9 1.2 -1 1.2 -1.3 1.1 -1.4 1.2 -1.5 1.1 -1.4 1.2 -1.6 1.1 -1.4 1.2 -1.4 1.1 -1.5 1.2 -1.7 1.1 -2.3 1.2 -2.7 1.1 -2.7 1.2 -2.3 1.1 -0.7 1.2 1.5 1.1 3.1 1.2 3.7 1.1 3.4 1.2 2.4 1.1 1.1 1.2 -0.2 1.1 -1.3 1.2 -2.4 1.1 -2.8 1.2 -2.4 1.1 -0.9 1.2 0.7 1.1 1.5 1.2 1.3 1.1 0.7 1.2 -0.1 1.1 -0.5 1.2 -0.8 1.1 -0.8 1.2 -0.3 1.1 0.1 1.2 0.8 1.2 1.3 1.1 1.9 1.2 2.3 1.1 2.5 1.2 2.8 1.1 2.8 1.2 2.7 1.1 2.6 1.2 2.2 1.1 1.8 1.2 1.4 1.1 1.1 1.2 0.6 1.1 0.2 1.2 -0.3 1.1 -1.2 1.2 -2.7 1.1 -4.5 1.2 -6.5 1.1 -7.6 1.2 -6.6 1.1 -2.6 1.2 2.3 1.1 5 1.2 5.1 1.1 3.6 1.2 1.6 1.1 0.2 1.2 -0.8 1.1 -1.2 1.2 -1.4 1.1 -1.7 1.2 -1.8 1.1 -1.8 1.2 -2 1.1 -2.1 1.2 -2.2 1.1 -2.6 1.2 -3 1.2 -3.5 1.1 -4.2 1.2 -5.2 1.1 -6.2 1.2 -7.6 1.1 -8.6 1.2 -9.6 1.1 -10.1 1.2 -9.8 1.1 -8.6 1.2 -6.4 1.1 -2.9 1.2 0.8 1.1 3.9 1.2 6.1 1.1 6.7 1.2 6.1 1.1 4.4 1.2 2.3 1.1 0.1 1.2 -1.1 1.1 -1.2 1.2 0.5 1.1 3.5 1.2 7 1.1 9.6 1.2 10.9 1.1 10.8 1.2 9.8 1.1 8.5 1.2 6.7 1.1 5.4 1.2 4.2 1.1 3.3 1.2 2.7 1.1 2.2 1.2 2 1.2 1.7 1.1 1.5 1.2 1.4 1.1 1.2 1.2 1.1 1.1 1 1.2 0.9 1.1 0.7 1.2 0.7 1.1 0.7 1.2 0.5 1.1 0.4 1.2 0.3 1.1 0.2 1.2 0.1 1.1 -0.3 1.2 -0.4 1.1 -0.6 1.2 -1 1.1 -1.2 1.2 -1.4 1.1 -1.7 1.2 -2.1 1.1 -2.2 1.2 -2.3 1.1 -2.2 1.2 -1.8 1.1 -1.1 1.2 -0.3 1.1 0.5 1.2 1 1.1 1.3 1.2 1.4 1.1 1.1 1.2 1.1 1.1 0.5 1.2 -0.7 1.1 -3.1 1.2 -5.5"/><path stroke="#F2B01E" d="M72 291.2l1.2 5.4 1.1 6.6 1.2 3.7 1.1 -0.3 1.2 -3.3 1.1 -4.9 1.2 -4.9 1.1 -3 1.2 0.4 1.1 4.2 1.2 6.6 1.1 7.1 1.2 6.6 1.1 5.3 1.2 4 1.1 2.9 1.2 1.9 1.1 1.4 1.2 1 1.2 0.7 1.1 0.5 1.2 0.2 1.1 -0.1 1.2 -0.3 1.1 -0.6 1.2 -0.8 1.1 -1.2 1.2 -1.5 1.1 -1.6 1.2 -2 1.1 -2 1.2 -2.4 1.1 -2.3 1.2 -2.3 1.1 -2.4 1.2 -2.6 1.1 -3.4 1.2 -4.6 1.1 -6.2 1.2 -7.6 1.1 -7.5 1.2 -5.1 1.1 0.1 1.2 5.5 1.1 8.4 1.2 8.1 1.1 6.2 1.2 4.1 1.1 2.4 1.2 1.2 1.1 0.7 1.2 0.5 1.1 0.4 1.2 0.4 1.1 0.1 1.2 -0.5 1.2 -1.6 1.1 -3.2 1.2 -5.2 1.1 -7.4 1.2 -9 1.1 -9.4 1.2 -7.9 1.1 -3.9 1.2 2.2 1.1 8 1.2 11.9 1.1 13.1 1.2 12.3 1.1 10.1 1.2 7.7 1.1 4.9 1.2 2.8 1.1 0.8 1.2 -0.6 1.1 -1.6 1.2 -2.4 1.1 -3.2 1.2 -3.8 1.1 -4.4 1.2 -5 1.1 -5.5 1.2 -5.8 1.1 -6 1.2 -5.9 1.1 -5.6 1.2 -4.8 1.1 -3.8 1.2 -2.5 1.1 -0.9 1.2 0.7 1.1 2 1.2 3.1 1.1 3.9 1.2 4.4 1.2 4.7 1.1 4.6 1.2 4.3 1.1 3.9 1.2 3.1 1.1 2.4 1.2 1.4 1.1 0.1 1.2 -1.1 1.1 -2.5 1.2 -3.7 1.1 -4.8 1.2 -5.3 1.1 -5.1 1.2 -4 1.1 -2.1 1.2 0.3 1.1 2.5 1.2 3.9 1.1 4.4 1.2 4.2 1.1 3.5 1.2 2.8 1.1 2 1.2 1.3 1.1 0.7 1.2 0.2 1.1 0 1.2 -0.4 1.1 -0.6 1.2 -0.7 1.1 -1 1.2 -1.4 1.1 -1.9 1.2 -3 1.1 -4.4 1.2 -6.4 1.2 -8.8 1.1 -11.3 1.2 -13.1 1.1 -13 1.2 -10.3 1.1 -4.3 1.2 2.7 1.1 8.3 1.2 10.4 1.1 10.4 1.2 8.6 1.1 6.5 1.2 4.6 1.1 3.1 1.2 2.3 1.1 1.8 1.2 1.6 1.1 1.6 1.2 1.5 1.1 1.6 1.2 1.5 1.1 1.5 1.2 1.4 1.1 1.5 1.2 1.3 1.1 1.2 1.2 1.2 1.1 1.2 1.2 1.4 1.1 1.6 1.2 2 1.1 2.3 1.2 2.6 1.1 2.8 1.2 2.9 1.1 3 1.2 2.7 1.1 2.6 1.2 2.3 1.2 1.9 1.1 1.5 1.2 0.8 1.1 0 1.2 -1 1.1 -1.4 1.2 -1.2 1.1 0.2 1.2 1.8 1.1 2.2 1.2 1.5 1.1 0.3 1.2 -0.6 1.1 -0.9 1.2 0.1 1.1 1.5 1.2 2.2 1.1 2.4 1.2 1.8 1.1 1.2 1.2 0.6 1.1 0.1 1.2 -0.1 1.1 -0.4 1.2 -0.6 1.1 -0.7 1.2 -1 1.1 -1.5 1.2 -1.7 1.1 -1.8 1.2 -1.8 1.1 -1.2 1.2 -0.2 1.1 0.9 1.2 1.6 1.1 1.9 1.2 1.6 1.2 1.3 1.1 0.8 1.2 0.3 1.1 -0.3 1.2 -1.1 1.1 -2 1.2 -3.2 1.1 -4.2 1.2 -4.7 1.1 -4.2 1.2 -2.5 1.1 0.4 1.2 3.1 1.1 4.2 1.2 3.6 1.1 2.2 1.2 0.1 1.1 -2 1.2 -3.7 1.1 -5 1.2 -5.5 1.1 -4.9 1.2 -3 1.1 -0.4 1.2 2.7 1.1 5 1.2 6.2 1.1 6.4 1.2 6 1.1 5 1.2 3.9 1.1 2.9 1.2 2.1 1.1 1.4 1.2 0.9 1.1 0.5 1.2 0.4 1.1 0 1.2 -0.1 1.2 -0.3 1.1 -0.5 1.2 -0.7 1.1 -0.9 1.2 -1 1.1 -1.3 1.2 -1.6 1.1 -2.1 1.2 -2.8 1.1 -3.6 1.2 -4.4 1.1 -4.9 1.2 -4.2 1.1 -2.5 1.2 0 1.1 1.8 1.2 2.3 1.1 2 1.2 0.9 1.1 -0.2 1.2 -1 1.1 -1.9 1.2 -2.6 1.1 -2.9 1.2 -2.7 1.1 -2.4 1.2 -1.8 1.1 -1.6 1.2 -1.7 1.1 -2.1 1.2 -2.2 1.1 -2.3 1.2 -2.1 1.1 -1.3 1.2 -0.5 1.1 0.3 1.2 1.2 1.2 1.9 1.1 2.4 1.2 2.6 1.1 2.7 1.2 2.5 1.1 2.4 1.2 2 1.1 1.8 1.2 1.5 1.1 1.2 1.2 1.2 1.1 0.9 1.2 0.8 1.1 0.6 1.2 0.1 1.1 -1 1.2 -3.4 1.1 -6.7 1.2 -10.3 1.1 -12.6 1.2 -10.7 1.1 -2.8 1.2 7.4 1.1 13.1 1.2 13.2 1.1 10 1.2 6.1 1.1 2.9 1.2 0.8 1.1 -0.4 1.2 -1 1.1 -1.4 1.2 -1.7 1.1 -1.9 1.2 -2 1.1 -2.2 1.2 -2.5 1.1 -2.5 1.2 -2.9 1.2 -3.4 1.1 -4 1.2 -4.9 1.1 -6 1.2 -7.2 1.1 -8.6 1.2 -9.5 1.1 -10.3 1.2 -10.2 1.1 -9 1.2 -7.2 1.1 -3.9 1.2 -0.5 1.1 2.6 1.2 4.5 1.1 5.1 1.2 4.2 1.1 2.7 1.2 0.5 1.1 -1.4 1.2 -2.7 1.1 -2.6 1.2 -1 1.1 2 1.2 5.4 1.1 8.1 1.2 9.4 1.1 9.4 1.2 8.6 1.1 7.5 1.2 6.1 1.1 4.7 1.2 3.7 1.1 2.7 1.2 2.1 1.1 1.6 1.2 1 1.2 0.7 1.1 0.3 1.2 -0.2 1.1 -0.4 1.2 -0.7 1.1 -0.8 1.2 -1 1.1 -0.8 1.2 -0.6 1.1 -0.3 1.2 0.2 1.1 0.7 1.2 1.1 1.1 1.5 1.2 1.8 1.1 1.9 1.2 2 1.1 1.9 1.2 1.7 1.1 1.4 1.2 1.1 1.1 0.4 1.2 -0.3 1.1 -0.7 1.2 -1.4 1.1 -1.7 1.2 -1.5 1.1 -0.7 1.2 0.4 1.1 1.3 1.2 1.8 1.1 1.9 1.2 1.6 1.1 1.4 1.2 1 1.1 0.5 1.2 -0.6 1.1 -2.3 1.2 -4"/><path stroke="#BA4DCB" d="M72 299.9l1.2 5.3 1.1 7.7 1.2 4.9 1.1 1 1.2 -1.6 1.1 -2.7 1.2 -2.8 1.1 -2.2 1.2 -1.2 1.1 0.1 1.2 0.8 1.1 1.1 1.2 1.1 1.1 0.8 1.2 0.6 1.1 0.4 1.2 0.4 1.1 0.5 1.2 0.5 1.2 0.6 1.1 0.5 1.2 0.3 1.1 0.2 1.2 0 1.1 -0.4 1.2 -0.8 1.1 -1.2 1.2 -1.8 1.1 -2.3 1.2 -3 1.1 -3.5 1.2 -4 1.1 -4.4 1.2 -4.5 1.1 -4.4 1.2 -3.8 1.1 -2.7 1.2 -1.5 1.1 -0.5 1.2 0 1.1 0.6 1.2 1.8 1.1 4.1 1.2 6.7 1.1 8.1 1.2 7.6 1.1 6.3 1.2 4.6 1.1 2.9 1.2 1.8 1.1 1 1.2 0.6 1.1 0.2 1.2 0 1.1 -0.3 1.2 -0.5 1.2 -1 1.1 -1.4 1.2 -2 1.1 -2.6 1.2 -3.1 1.1 -3.1 1.2 -2.7 1.1 -1.5 1.2 0.1 1.1 1.8 1.2 2.9 1.1 3.3 1.2 3.2 1.1 2.7 1.2 2 1.1 1.5 1.2 0.9 1.1 0.6 1.2 0.2 1.1 0 1.2 -0.2 1.1 -0.3 1.2 -0.4 1.1 -0.6 1.2 -0.7 1.1 -0.8 1.2 -0.9 1.1 -1 1.2 -1 1.1 -1 1.2 -0.9 1.1 -0.7 1.2 -0.6 1.1 -0.4 1.2 -0.1 1.1 -0.1 1.2 0.2 1.1 0.2 1.2 0.2 1.2 0.3 1.1 0.3 1.2 0.2 1.1 0.3 1.2 0.2 1.1 0.2 1.2 0.2 1.1 0.1 1.2 0 1.1 -0.3 1.2 -0.3 1.1 -0.5 1.2 -0.4 1.1 -0.3 1.2 0.2 1.1 0.8 1.2 1.7 1.1 2.4 1.2 2.7 1.1 2.8 1.2 2.6 1.1 2.2 1.2 1.7 1.1 1.2 1.2 0.7 1.1 0.3 1.2 -0.1 1.1 -0.5 1.2 -0.8 1.1 -1.1 1.2 -1.4 1.1 -1.6 1.2 -2 1.1 -2.3 1.2 -2.7 1.1 -3.4 1.2 -4.2 1.2 -5.1 1.1 -6.1 1.2 -6.6 1.1 -6.3 1.2 -4.9 1.1 -2.2 1.2 1 1.1 3.6 1.2 4.8 1.1 4.8 1.2 4.2 1.1 3.4 1.2 2.7 1.1 2 1.2 1.7 1.1 1.5 1.2 1.4 1.1 1.3 1.2 1.2 1.1 1.2 1.2 1.1 1.1 1.1 1.2 1 1.1 1 1.2 1 1.1 0.9 1.2 0.9 1.1 1 1.2 1.1 1.1 1.2 1.2 1.3 1.1 1.4 1.2 1.6 1.1 1.6 1.2 1.8 1.1 1.9 1.2 1.9 1.1 1.8 1.2 1.8 1.2 1.8 1.1 1.5 1.2 1.1 1.1 0.6 1.2 0.1 1.1 -0.3 1.2 -0.3 1.1 0.2 1.2 1 1.1 1.2 1.2 0.7 1.1 -0.1 1.2 -0.7 1.1 -1 1.2 -0.7 1.1 -0.2 1.2 0.1 1.1 0.1 1.2 0 1.1 -0.3 1.2 -0.5 1.1 -0.7 1.2 -0.6 1.1 -0.7 1.2 -0.8 1.1 -0.7 1.2 -0.8 1.1 -0.9 1.2 -0.9 1.1 -1 1.2 -0.8 1.1 -0.5 1.2 -0.1 1.1 0.2 1.2 0.7 1.1 0.7 1.2 0.8 1.2 0.7 1.1 0.6 1.2 0.3 1.1 -0.3 1.2 -1 1.1 -2.4 1.2 -4.2 1.1 -6 1.2 -7.3 1.1 -7.3 1.2 -5.1 1.1 -0.7 1.2 3.9 1.1 6.9 1.2 7.5 1.1 6.4 1.2 4.6 1.1 2.8 1.2 1.2 1.1 0.2 1.2 -0.3 1.1 -0.3 1.2 -0.1 1.1 0.4 1.2 0.9 1.1 1.3 1.2 1.6 1.1 1.6 1.2 1.7 1.1 1.6 1.2 1.5 1.1 1.2 1.2 1.1 1.1 0.9 1.2 0.8 1.1 0.6 1.2 0.5 1.1 0.3 1.2 0.2 1.2 -0.1 1.1 -0.1 1.2 -0.3 1.1 -0.4 1.2 -0.5 1.1 -0.7 1.2 -0.8 1.1 -1 1.2 -1.4 1.1 -1.8 1.2 -2.2 1.1 -2.4 1.2 -2.2 1.1 -1.5 1.2 -0.3 1.1 0.7 1.2 0.9 1.1 0.6 1.2 0.1 1.1 -0.7 1.2 -1.4 1.1 -2.2 1.2 -2.8 1.1 -2.9 1.2 -2.5 1.1 -1.2 1.2 0 1.1 0.8 1.2 0.9 1.1 0.6 1.2 0.3 1.1 0 1.2 0 1.1 0 1.2 0.3 1.1 0.5 1.2 0.7 1.2 0.9 1.1 1.1 1.2 1.1 1.1 1 1.2 1 1.1 1 1.2 0.7 1.1 0.6 1.2 0.3 1.1 0.2 1.2 0 1.1 -0.3 1.2 -0.4 1.1 -0.8 1.2 -1.2 1.1 -1.9 1.2 -3.5 1.1 -5.4 1.2 -7.6 1.1 -8.7 1.2 -7.3 1.1 -2.2 1.2 4 1.1 7.6 1.2 7.9 1.1 6.2 1.2 4 1.1 2.3 1.2 1.3 1.1 0.8 1.2 0.5 1.1 0.4 1.2 0.4 1.1 0.3 1.2 0.2 1.1 0 1.2 -0.1 1.1 -0.3 1.2 -0.7 1.2 -1.1 1.1 -1.5 1.2 -2.2 1.1 -3.1 1.2 -3.7 1.1 -4.6 1.2 -5.3 1.1 -5.7 1.2 -5.7 1.1 -5.2 1.2 -4.1 1.1 -2.4 1.2 -0.5 1.1 1.1 1.2 1.9 1.1 2 1.2 1.1 1.1 -0.3 1.2 -1.9 1.1 -3.4 1.2 -4.2 1.1 -3.7 1.2 -1.7 1.1 1.6 1.2 5.3 1.1 7.9 1.2 9.2 1.1 9.2 1.2 8.4 1.1 7.1 1.2 5.8 1.1 4.4 1.2 3.3 1.1 2.5 1.2 2 1.1 1.6 1.2 1.4 1.2 1.2 1.1 1 1.2 0.8 1.1 0.6 1.2 0.4 1.1 0.3 1.2 0.1 1.1 0 1.2 -0.2 1.1 -0.2 1.2 -0.2 1.1 -0.4 1.2 -0.3 1.1 -0.3 1.2 -0.3 1.1 -0.4 1.2 -0.2 1.1 -0.2 1.2 -0.1 1.1 -0.1 1.2 0 1.1 -0.1 1.2 -0.2 1.1 -0.2 1.2 -0.2 1.1 -0.3 1.2 0 1.1 0.4 1.2 1 1.1 1.3 1.2 1.5 1.1 1.5 1.2 1.2 1.1 1 1.2 0.4 1.1 -0.2 1.2 -1.7 1.1 -4.3 1.2 -6.7"/><path stroke="#6DB83A" d="M72 325.6l1.2 11.1 1.1 14.7 1.2 10.1 1.1 4.3 1.2 0.4 1.1 -1.5 1.2 -2 1.1 -1.6 1.2 -0.5 1.1 0.7 1.2 1.5 1.1 1.4 1.2 1.2 1.1 0.6 1.2 0.1 1.1 -0.4 1.2 -0.7 1.1 -0.8 1.2 -0.9 1.2 -1 1.1 -1.1 1.2 -1.1 1.1 -1.2 1.2 -1.3 1.1 -1.4 1.2 -1.5 1.1 -1.7 1.2 -1.8 1.1 -2 1.2 -2.2 1.1 -2.3 1.2 -2.3 1.1 -2.3 1.2 -2.2 1.1 -2 1.2 -2.1 1.1 -2.5 1.2 -3.3 1.1 -4.5 1.2 -5.7 1.1 -5.9 1.2 -4 1.1 0.3 1.2 5.3 1.1 8.4 1.2 8.8 1.1 7.5 1.2 5.6 1.1 3.8 1.2 2.4 1.1 1.5 1.2 1 1.1 0.6 1.2 0.3 1.1 -0.1 1.2 -0.5 1.2 -1.1 1.1 -1.9 1.2 -2.7 1.1 -3.6 1.2 -4.2 1.1 -4.4 1.2 -3.8 1.1 -2.3 1.2 0 1.1 2.2 1.2 3.7 1.1 4.4 1.2 4.4 1.1 3.9 1.2 3.1 1.1 2.4 1.2 1.7 1.1 1.1 1.2 0.5 1.1 0 1.2 -0.5 1.1 -1.1 1.2 -1.8 1.1 -2.4 1.2 -3.1 1.1 -3.7 1.2 -4.3 1.1 -4.5 1.2 -4.7 1.1 -4.4 1.2 -4.1 1.1 -3.2 1.2 -2 1.1 -0.8 1.2 0.5 1.1 1.6 1.2 2.6 1.1 3.1 1.2 3.3 1.2 3.5 1.1 3.4 1.2 3 1.1 2.6 1.2 2.1 1.1 1.5 1.2 0.7 1.1 -0.2 1.2 -1.3 1.1 -2.1 1.2 -3.2 1.1 -3.8 1.2 -4.2 1.1 -3.9 1.2 -2.8 1.1 -1 1.2 1.2 1.1 3.1 1.2 4.3 1.1 4.8 1.2 4.6 1.1 3.8 1.2 3.1 1.1 2.1 1.2 1.2 1.1 0.5 1.2 -0.2 1.1 -0.6 1.2 -1.2 1.1 -1.7 1.2 -2.2 1.1 -2.8 1.2 -3.5 1.1 -4.2 1.2 -5.2 1.1 -6.3 1.2 -7.5 1.2 -8.9 1.1 -9.9 1.2 -10.7 1.1 -9.9 1.2 -7.1 1.1 -1.6 1.2 4.7 1.1 9.3 1.2 11.3 1.1 10.8 1.2 9.1 1.1 7 1.2 4.9 1.1 3.5 1.2 2.5 1.1 2.1 1.2 1.8 1.1 1.6 1.2 1.5 1.1 1.3 1.2 1.2 1.1 1 1.2 0.8 1.1 0.7 1.2 0.4 1.1 0.3 1.2 0.2 1.1 0.2 1.2 0.2 1.1 0.4 1.2 0.8 1.1 0.9 1.2 1.4 1.1 1.4 1.2 1.7 1.1 1.6 1.2 1.7 1.1 1.5 1.2 1.3 1.2 1 1.1 0.4 1.2 -0.5 1.1 -1.8 1.2 -3.2 1.1 -3.9 1.2 -3.3 1.1 -0.9 1.2 2.3 1.1 4 1.2 4.2 1.1 3 1.2 1.8 1.1 0.8 1.2 0.5 1.1 0.6 1.2 0.7 1.1 0.5 1.2 0.2 1.1 -0.1 1.2 -0.3 1.1 -0.5 1.2 -0.8 1.1 -0.8 1.2 -0.8 1.1 -1 1.2 -1.2 1.1 -1.4 1.2 -1.5 1.1 -1.6 1.2 -1.6 1.1 -1.4 1.2 -1 1.1 -0.5 1.2 -0.3 1.1 -0.3 1.2 -0.3 1.2 -0.4 1.1 -0.6 1.2 -0.8 1.1 -1.1 1.2 -1.5 1.1 -2.2 1.2 -3.4 1.1 -4.6 1.2 -5.5 1.1 -5.3 1.2 -3.3 1.1 0.5 1.2 4.3 1.1 6.8 1.2 7.2 1.1 6.4 1.2 4.8 1.1 3.2 1.2 2 1.1 1.2 1.2 0.7 1.1 0.6 1.2 0.7 1.1 1 1.2 1.4 1.1 1.7 1.2 1.7 1.1 1.6 1.2 1.5 1.1 1.1 1.2 0.8 1.1 0.4 1.2 0.2 1.1 -0.1 1.2 -0.3 1.1 -0.5 1.2 -0.6 1.1 -0.8 1.2 -0.9 1.2 -0.9 1.1 -1 1.2 -1 1.1 -1 1.2 -1.1 1.1 -1 1.2 -1.2 1.1 -1.5 1.2 -1.9 1.1 -2.5 1.2 -3.1 1.1 -3.5 1.2 -3.1 1.1 -1.8 1.2 0.2 1.1 1.7 1.2 2.3 1.1 2.1 1.2 1.5 1.1 0.8 1.2 0.1 1.1 -0.4 1.2 -0.7 1.1 -0.9 1.2 -0.8 1.1 -0.2 1.2 0.3 1.1 0.5 1.2 0.4 1.1 0.1 1.2 -0.1 1.1 -0.3 1.2 -0.4 1.1 -0.2 1.2 0.1 1.1 0.5 1.2 0.7 1.2 1 1.1 1.2 1.2 1.3 1.1 1.3 1.2 1.1 1.1 1 1.2 0.9 1.1 0.6 1.2 0.4 1.1 0.3 1.2 0 1.1 0 1.2 -0.2 1.1 -0.4 1.2 -0.5 1.1 -1 1.2 -1.6 1.1 -2.6 1.2 -3.6 1.1 -4.1 1.2 -3.4 1.1 -1.2 1.2 1.9 1.1 3.5 1.2 3.6 1.1 2.6 1.2 1.6 1.1 0.6 1.2 0 1.1 -0.2 1.2 -0.5 1.1 -0.6 1.2 -0.7 1.1 -0.8 1.2 -1 1.1 -1.1 1.2 -1.3 1.1 -1.6 1.2 -1.9 1.2 -2.5 1.1 -3.1 1.2 -4 1.1 -4.9 1.2 -6.1 1.1 -7.1 1.2 -8 1.1 -8.6 1.2 -8.4 1.1 -7.6 1.2 -5.7 1.1 -2.9 1.2 0.4 1.1 3.3 1.2 5.6 1.1 6.5 1.2 6.7 1.1 6.1 1.2 5 1.1 3.9 1.2 2.8 1.1 2 1.2 1.6 1.1 1.8 1.2 2.2 1.1 2.4 1.2 2.4 1.1 2.3 1.2 1.9 1.1 1.5 1.2 1.1 1.1 0.7 1.2 0.4 1.1 0.1 1.2 0 1.1 -0.1 1.2 -0.3 1.2 -0.2 1.1 -0.4 1.2 -0.4 1.1 -0.4 1.2 -0.4 1.1 -0.3 1.2 -0.3 1.1 -0.2 1.2 0 1.1 0.3 1.2 0.5 1.1 0.9 1.2 1 1.1 1.1 1.2 1.3 1.1 1.2 1.2 1.3 1.1 1.3 1.2 1.1 1.1 1 1.2 0.8 1.1 0.6 1.2 0.3 1.1 0 1.2 -0.3 1.1 -0.4 1.2 -0.4 1.1 -0.1 1.2 0.4 1.1 0.8 1.2 1 1.1 0.8 1.2 0.7 1.1 0.4 1.2 0.2 1.1 0 1.2 -0.3 1.1 -0.8 1.2 -1.1"/><path stroke="#2FB8F0" d="M72 282.4l1.2 13.2 1.1 17.5 1.2 10.6 1.1 1.4 1.2 -5.7 1.1 -9.3 1.2 -10 1.1 -7.9 1.2 -3.2 1.1 1.8 1.2 5.1 1.1 6.1 1.2 5.5 1.1 4.2 1.2 2.8 1.1 1.8 1.2 1.2 1.1 0.9 1.2 0.7 1.2 0.6 1.1 0.4 1.2 0.1 1.1 -0.3 1.2 -0.8 1.1 -1.3 1.2 -1.8 1.1 -2.4 1.2 -2.9 1.1 -3.4 1.2 -3.7 1.1 -4 1.2 -4.2 1.1 -4 1.2 -3.6 1.1 -3.3 1.2 -2.7 1.1 -2.5 1.2 -2.7 1.1 -3.4 1.2 -4.1 1.1 -4 1.2 -2.3 1.1 1.8 1.2 6.6 1.1 9.2 1.2 9.3 1.1 7.8 1.2 5.5 1.1 3.4 1.2 1.9 1.1 0.9 1.2 0.3 1.1 -0.1 1.2 -0.5 1.1 -0.9 1.2 -1.4 1.2 -2.3 1.1 -3.4 1.2 -4.9 1.1 -6.2 1.2 -7.4 1.1 -7.6 1.2 -6.5 1.1 -3.7 1.2 0.6 1.1 4.9 1.2 7.4 1.1 8.6 1.2 8 1.1 6.8 1.2 5.1 1.1 3.5 1.2 2 1.1 0.9 1.2 0 1.1 -0.7 1.2 -1.2 1.1 -1.7 1.2 -2.1 1.1 -2.5 1.2 -2.8 1.1 -3.1 1.2 -3.4 1.1 -3.4 1.2 -3.4 1.1 -3.2 1.2 -2.7 1.1 -2 1.2 -1.3 1.1 -0.3 1.2 0.7 1.1 1.4 1.2 2.1 1.1 2.6 1.2 2.8 1.2 3 1.1 2.9 1.2 2.8 1.1 2.4 1.2 2 1.1 1.3 1.2 0.5 1.1 -0.6 1.2 -1.8 1.1 -3.1 1.2 -4.5 1.1 -5.5 1.2 -6 1.1 -5.6 1.2 -4.1 1.1 -1.7 1.2 1.4 1.1 3.8 1.2 5.4 1.1 5.8 1.2 5.3 1.1 4.4 1.2 3.2 1.1 2 1.2 0.9 1.1 0.1 1.2 -0.6 1.1 -1 1.2 -1.4 1.1 -1.8 1.2 -2.2 1.1 -2.6 1.2 -3 1.1 -3.5 1.2 -4.2 1.1 -5.1 1.2 -6 1.2 -7.2 1.1 -8.2 1.2 -8.6 1.1 -7.9 1.2 -5.7 1.1 -1.6 1.2 3 1.1 6.4 1.2 8.3 1.1 8.6 1.2 7.9 1.1 6.9 1.2 5.7 1.1 4.8 1.2 4 1.1 3.4 1.2 3 1.1 2.5 1.2 2.1 1.1 1.9 1.2 1.5 1.1 1.3 1.2 1 1.1 0.7 1.2 0.6 1.1 0.5 1.2 0.6 1.1 0.6 1.2 1 1.1 1.4 1.2 1.7 1.1 2.2 1.2 2.6 1.1 2.7 1.2 2.7 1.1 2.6 1.2 2.2 1.1 2 1.2 1.4 1.2 0.9 1.1 0.4 1.2 -0.4 1.1 -1.2 1.2 -1.9 1.1 -2.2 1.2 -2.3 1.1 -1.6 1.2 -0.7 1.1 -0.6 1.2 -1 1.1 -1.6 1.2 -1.9 1.1 -1.8 1.2 -0.7 1.1 0.6 1.2 1.6 1.1 2.2 1.2 2.2 1.1 2.2 1.2 1.9 1.1 1.7 1.2 1.6 1.1 1.3 1.2 1.1 1.1 0.6 1.2 0.2 1.1 -0.4 1.2 -1 1.1 -1.5 1.2 -1.6 1.1 -1.2 1.2 -0.3 1.1 0.9 1.2 1.9 1.1 2.3 1.2 2.3 1.2 2.2 1.1 1.7 1.2 1.3 1.1 0.8 1.2 0.2 1.1 -0.7 1.2 -1.8 1.1 -2.9 1.2 -3.8 1.1 -3.9 1.2 -2.6 1.1 -0.2 1.2 2.7 1.1 4.3 1.2 4.4 1.1 3.2 1.2 1.3 1.1 -0.8 1.2 -2.5 1.1 -3.8 1.2 -4.3 1.1 -4.2 1.2 -2.8 1.1 -0.8 1.2 1.4 1.1 3.3 1.2 4.3 1.1 4.4 1.2 4.2 1.1 3.6 1.2 2.8 1.1 2.3 1.2 1.6 1.1 1.2 1.2 0.7 1.1 0.4 1.2 0.1 1.1 -0.1 1.2 -0.5 1.2 -0.7 1.1 -0.8 1.2 -0.9 1.1 -1.2 1.2 -1.4 1.1 -1.4 1.2 -1.7 1.1 -2 1.2 -2.5 1.1 -3.1 1.2 -3.5 1.1 -3.6 1.2 -3.2 1.1 -1.8 1.2 -0.3 1.1 0.8 1.2 1.2 1.1 0.7 1.2 0.2 1.1 -0.6 1.2 -1.3 1.1 -2 1.2 -2.4 1.1 -2.4 1.2 -2 1.1 -0.8 1.2 0.3 1.1 0.9 1.2 0.8 1.1 0.6 1.2 0 1.1 -0.5 1.2 -0.7 1.1 -0.8 1.2 -1 1.1 -0.8 1.2 -0.9 1.2 -0.7 1.1 -0.6 1.2 -0.6 1.1 -0.4 1.2 -0.3 1.1 -0.1 1.2 -0.1 1.1 -0.1 1.2 0.1 1.1 0 1.2 0 1.1 0 1.2 -0.1 1.1 -0.2 1.2 -0.3 1.1 -0.8 1.2 -1.6 1.1 -2.6 1.2 -3.9 1.1 -4.6 1.2 -4.1 1.1 -1.9 1.2 1.3 1.1 3.1 1.2 3.3 1.1 2.4 1.2 1.3 1.1 0.5 1.2 -0.1 1.1 -0.3 1.2 -0.3 1.1 -0.3 1.2 -0.3 1.1 -0.3 1.2 -0.2 1.1 -0.4 1.2 -0.6 1.1 -0.7 1.2 -1.2 1.2 -1.8 1.1 -2.5 1.2 -3.5 1.1 -4.7 1.2 -5.9 1.1 -7 1.2 -8.2 1.1 -8.7 1.2 -8.7 1.1 -7.8 1.2 -5.9 1.1 -3.1 1.2 0.1 1.1 3.2 1.2 5.3 1.1 6.2 1.2 6.3 1.1 5.5 1.2 4.3 1.1 2.9 1.2 1.8 1.1 1.3 1.2 1.7 1.1 2.8 1.2 4.2 1.1 5.5 1.2 6.1 1.1 6.1 1.2 5.5 1.1 4.8 1.2 3.9 1.1 3 1.2 2.2 1.1 1.6 1.2 1.1 1.1 0.7 1.2 0.5 1.2 0.1 1.1 0 1.2 -0.1 1.1 -0.2 1.2 -0.3 1.1 -0.2 1.2 0 1.1 0.2 1.2 0.4 1.1 0.7 1.2 1.1 1.1 1.3 1.2 1.7 1.1 1.8 1.2 1.7 1.1 1.9 1.2 1.8 1.1 1.7 1.2 1.5 1.1 1.2 1.2 0.8 1.1 0.4 1.2 -0.1 1.1 -0.7 1.2 -1 1.1 -1.2 1.2 -0.9 1.1 0 1.2 1.1 1.1 2 1.2 2.5 1.1 2.5 1.2 2.2 1.1 1.7 1.2 1.3 1.1 0.4 1.2 -1.4 1.1 -4.6 1.2 -7.5"/><path stroke="#D81E3C" d="M72 267.8l1.2 21.2 1.1 27.5 1.2 18.5 1.1 6.8 1.2 -1.5 1.1 -5.3 1.2 -6.1 1.1 -4.3 1.2 -0.3 1.1 4.1 1.2 6.9 1.1 7.5 1.2 6.5 1.1 4.9 1.2 3.4 1.1 2 1.2 1.2 1.1 0.7 1.2 0.5 1.2 0.4 1.1 0.3 1.2 0.4 1.1 0.3 1.2 0.2 1.1 0.1 1.2 -0.1 1.1 -0.2 1.2 -0.4 1.1 -0.6 1.2 -0.9 1.1 -1.1 1.2 -1.3 1.1 -1.4 1.2 -1.4 1.1 -1.6 1.2 -2 1.1 -2.9 1.2 -4.6 1.1 -7.1 1.2 -9.3 1.1 -10 1.2 -7.1 1.1 -0.2 1.2 7.9 1.1 12.8 1.2 13.3 1.1 11.1 1.2 7.7 1.1 4.7 1.2 2.2 1.1 0.8 1.2 -0.1 1.1 -0.6 1.2 -0.8 1.1 -1.3 1.2 -1.8 1.2 -2.2 1.1 -3.1 1.2 -4 1.1 -4.9 1.2 -5.5 1.1 -5.8 1.2 -5.1 1.1 -3.3 1.2 -0.8 1.1 1.9 1.2 3.6 1.1 4.2 1.2 4.1 1.1 3.4 1.2 2.5 1.1 1.6 1.2 0.9 1.1 0.3 1.2 -0.1 1.1 -0.4 1.2 -0.6 1.1 -0.9 1.2 -1.1 1.1 -1.3 1.2 -1.7 1.1 -1.8 1.2 -2.1 1.1 -2.2 1.2 -2.2 1.1 -2.3 1.2 -2 1.1 -1.6 1.2 -1.2 1.1 -0.6 1.2 0 1.1 0.5 1.2 0.8 1.1 1.1 1.2 1.1 1.2 1.1 1.1 1.1 1.2 0.8 1.1 0.5 1.2 0.2 1.1 -0.3 1.2 -1 1.1 -1.6 1.2 -2.6 1.1 -3.5 1.2 -4.5 1.1 -5.2 1.2 -5.5 1.1 -5.1 1.2 -3.7 1.1 -1.8 1.2 0.9 1.1 3 1.2 4.3 1.1 4.9 1.2 4.7 1.1 3.9 1.2 3 1.1 2.1 1.2 1.1 1.1 0.4 1.2 -0.3 1.1 -0.7 1.2 -1.1 1.1 -1.2 1.2 -1.5 1.1 -1.6 1.2 -1.8 1.1 -2.1 1.2 -2.6 1.1 -3.4 1.2 -4.3 1.2 -5.5 1.1 -6.8 1.2 -7.6 1.1 -7.5 1.2 -6 1.1 -2.8 1.2 1.1 1.1 4 1.2 5.2 1.1 5.2 1.2 4.3 1.1 3.2 1.2 2.2 1.1 1.3 1.2 0.7 1.1 0.4 1.2 0.2 1.1 0 1.2 -0.2 1.1 -0.2 1.2 -0.3 1.1 -0.4 1.2 -0.2 1.1 -0.2 1.2 0.2 1.1 0.4 1.2 0.7 1.1 1 1.2 1.4 1.1 1.7 1.2 1.9 1.1 2 1.2 2.1 1.1 2.1 1.2 2 1.1 1.9 1.2 1.8 1.1 1.5 1.2 1.5 1.2 1.2 1.1 0.9 1.2 0.7 1.1 0.2 1.2 -0.1 1.1 -0.4 1.2 -0.4 1.1 0.2 1.2 0.8 1.1 1 1.2 0.5 1.1 0.2 1.2 -0.3 1.1 -0.3 1.2 0.1 1.1 0.8 1.2 1.2 1.1 1.4 1.2 1.2 1.1 1.1 1.2 1 1.1 0.9 1.2 0.8 1.1 0.9 1.2 0.8 1.1 0.8 1.2 0.7 1.1 0.5 1.2 0.4 1.1 0.2 1.2 0.2 1.1 0.4 1.2 0.6 1.1 1.1 1.2 1.1 1.1 1.1 1.2 1 1.2 0.6 1.1 0.2 1.2 -0.1 1.1 -0.7 1.2 -1.3 1.1 -2.1 1.2 -3.2 1.1 -4.3 1.2 -5.1 1.1 -5 1.2 -3.7 1.1 -1.3 1.2 1.3 1.1 3 1.2 3.2 1.1 2.6 1.2 1.4 1.1 0.2 1.2 -0.8 1.1 -1.5 1.2 -1.7 1.1 -1.4 1.2 -0.7 1.1 0.4 1.2 1.6 1.1 2.5 1.2 3.1 1.1 3.1 1.2 3.1 1.1 2.6 1.2 2.2 1.1 1.8 1.2 1.4 1.1 0.9 1.2 0.7 1.1 0.3 1.2 0.1 1.1 -0.1 1.2 -0.3 1.2 -0.5 1.1 -0.7 1.2 -0.8 1.1 -0.9 1.2 -1 1.1 -1.1 1.2 -1.1 1.1 -1.5 1.2 -1.7 1.1 -2.4 1.2 -3 1.1 -3.2 1.2 -2.9 1.1 -1.7 1.2 0 1.1 1.4 1.2 1.8 1.1 1.4 1.2 0.6 1.1 -0.3 1.2 -1.3 1.1 -2.3 1.2 -2.8 1.1 -3.2 1.2 -2.6 1.1 -1.5 1.2 -0.2 1.1 0.4 1.2 0.4 1.1 0.2 1.2 -0.4 1.1 -0.6 1.2 -0.6 1.1 -0.5 1.2 -0.2 1.1 0.3 1.2 0.8 1.2 1.2 1.1 1.6 1.2 1.8 1.1 2.1 1.2 2.1 1.1 2.2 1.2 2.1 1.1 1.8 1.2 1.7 1.1 1.5 1.2 1.1 1.1 0.9 1.2 0.6 1.1 0.3 1.2 -0.1 1.1 -0.8 1.2 -2.1 1.1 -3.5 1.2 -5.3 1.1 -6.2 1.2 -5.2 1.1 -1.7 1.2 2.7 1.1 5.1 1.2 5.3 1.1 4 1.2 2.4 1.1 1.1 1.2 0.4 1.1 0.1 1.2 -0.1 1.1 -0.1 1.2 -0.2 1.1 -0.3 1.2 -0.3 1.1 -0.3 1.2 -0.6 1.1 -0.8 1.2 -1.1 1.2 -1.4 1.1 -2 1.2 -2.6 1.1 -3.3 1.2 -4 1.1 -4.8 1.2 -5.3 1.1 -5.7 1.2 -5.7 1.1 -5.2 1.2 -4.2 1.1 -2.6 1.2 -0.9 1.1 0.6 1.2 1.7 1.1 2.1 1.2 1.8 1.1 1.2 1.2 0.3 1.1 -0.6 1.2 -0.9 1.1 -0.5 1.2 0.8 1.1 2.8 1.2 5.1 1.1 6.8 1.2 7.6 1.1 7.5 1.2 6.9 1.1 6.1 1.2 4.9 1.1 4 1.2 3.1 1.1 2.5 1.2 1.9 1.1 1.4 1.2 1.1 1.2 0.6 1.1 0.3 1.2 0 1.1 -0.2 1.2 -0.5 1.1 -0.6 1.2 -0.8 1.1 -0.8 1.2 -0.7 1.1 -0.5 1.2 -0.3 1.1 -0.1 1.2 0.1 1.1 0.4 1.2 0.4 1.1 0.4 1.2 0.5 1.1 0.5 1.2 0.4 1.1 0.3 1.2 0.2 1.1 0 1.2 0 1.1 -0.4 1.2 -0.5 1.1 -0.6 1.2 -0.6 1.1 -0.4 1.2 -0.2 1.1 0.1 1.2 0.2 1.1 0.2 1.2 0.2 1.1 0.1 1.2 0 1.1 -0.1 1.2 -0.2 1.1 -0.6 1.2 -0.8"/><path stroke="#1F66D0" d="M72 319.1l1.2 5.3 1.1 7.5 1.2 5.4 1.1 2.4 1.2 0.1 1.1 -0.9 1.2 -1.1 1.1 -0.9 1.2 -0.1 1.1 0.9 1.2 1.4 1.1 1.5 1.2 1.3 1.1 0.9 1.2 0.7 1.1 0.4 1.2 0.4 1.1 0.4 1.2 0.6 1.2 0.7 1.1 0.7 1.2 0.7 1.1 0.7 1.2 0.5 1.1 0.4 1.2 0.2 1.1 0 1.2 -0.3 1.1 -0.4 1.2 -0.6 1.1 -0.6 1.2 -0.7 1.1 -0.6 1.2 -0.5 1.1 -0.4 1.2 -0.2 1.1 0 1.2 0.2 1.1 0.1 1.2 0.1 1.1 0.2 1.2 0.4 1.1 1 1.2 1.7 1.1 2 1.2 1.9 1.1 1.5 1.2 1.2 1.1 0.7 1.2 0.5 1.1 0.2 1.2 -0.1 1.1 0 1.2 -0.3 1.1 -0.3 1.2 -0.6 1.2 -1 1.1 -1.4 1.2 -2.1 1.1 -2.6 1.2 -3.1 1.1 -3.2 1.2 -2.7 1.1 -1.5 1.2 0.1 1.1 1.9 1.2 3 1.1 3.4 1.2 3.2 1.1 2.7 1.2 2 1.1 1.3 1.2 0.8 1.1 0.4 1.2 0 1.1 -0.3 1.2 -0.4 1.1 -0.6 1.2 -0.8 1.1 -0.9 1.2 -1 1.1 -1.1 1.2 -1.1 1.1 -1.2 1.2 -1.2 1.1 -1 1.2 -0.7 1.1 -0.5 1.2 -0.2 1.1 0.3 1.2 0.6 1.1 0.9 1.2 1.1 1.1 1.3 1.2 1.5 1.2 1.4 1.1 1.4 1.2 1.3 1.1 1.2 1.2 0.9 1.1 0.7 1.2 0.3 1.1 -0.1 1.2 -0.5 1.1 -1 1.2 -1.5 1.1 -1.8 1.2 -2 1.1 -1.7 1.2 -1.3 1.1 -0.4 1.2 0.8 1.1 1.6 1.2 2.3 1.1 2.5 1.2 2.4 1.1 2 1.2 1.6 1.1 1.1 1.2 0.7 1.1 0.2 1.2 -0.1 1.1 -0.3 1.2 -0.5 1.1 -0.7 1.2 -0.9 1.1 -1 1.2 -1.1 1.1 -1.2 1.2 -1.4 1.1 -1.7 1.2 -2.1 1.2 -2.3 1.1 -2.7 1.2 -3 1.1 -2.8 1.2 -2.2 1.1 -1.1 1.2 0.2 1.1 1.3 1.2 1.7 1.1 1.9 1.2 1.6 1.1 1.3 1.2 1 1.1 0.7 1.2 0.6 1.1 0.6 1.2 0.5 1.1 0.4 1.2 0.5 1.1 0.5 1.2 0.4 1.1 0.3 1.2 0.4 1.1 0.3 1.2 0.2 1.1 0.2 1.2 0.2 1.1 0.2 1.2 0.2 1.1 0.2 1.2 0.2 1.1 0.3 1.2 0.3 1.1 0.3 1.2 0.4 1.1 0.3 1.2 0.3 1.1 0.3 1.2 0.4 1.2 0.2 1.1 0.2 1.2 0 1.1 -0.2 1.2 -0.4 1.1 -0.6 1.2 -0.4 1.1 0.1 1.2 0.8 1.1 1 1.2 0.9 1.1 0.6 1.2 0.4 1.1 0.2 1.2 0.3 1.1 0.6 1.2 0.6 1.1 0.6 1.2 0.5 1.1 0.4 1.2 0.2 1.1 0.1 1.2 0 1.1 -0.1 1.2 -0.3 1.1 -0.4 1.2 -0.6 1.1 -0.7 1.2 -0.8 1.1 -1 1.2 -1.1 1.1 -0.9 1.2 -0.9 1.1 -0.6 1.2 -0.6 1.1 -0.4 1.2 -0.3 1.2 -0.4 1.1 -0.3 1.2 -0.2 1.1 -0.3 1.2 -0.3 1.1 -0.2 1.2 -0.3 1.1 -0.4 1.2 -0.4 1.1 -0.4 1.2 -0.2 1.1 0 1.2 0.3 1.1 0.5 1.2 0.6 1.1 0.3 1.2 0.2 1.1 -0.2 1.2 -0.2 1.1 -0.5 1.2 -0.4 1.1 -0.4 1.2 -0.2 1.1 0.3 1.2 0.6 1.1 0.9 1.2 1.1 1.1 1.2 1.2 1.1 1.1 1.2 1.2 1 1.1 0.9 1.2 0.8 1.1 0.7 1.2 0.6 1.1 0.5 1.2 0.5 1.1 0.3 1.2 0.3 1.2 0.1 1.1 0.1 1.2 0 1.1 -0.1 1.2 -0.1 1.1 -0.2 1.2 -0.3 1.1 -0.6 1.2 -0.9 1.1 -1.5 1.2 -2.1 1.1 -2.3 1.2 -2.1 1.1 -1.2 1.2 0.1 1.1 1.2 1.2 1.4 1.1 1 1.2 0.4 1.1 -0.4 1.2 -0.9 1.1 -1.5 1.2 -1.7 1.1 -1.8 1.2 -1.7 1.1 -1.4 1.2 -0.9 1.1 -0.6 1.2 -0.4 1.1 0 1.2 0.1 1.1 0.1 1.2 0.4 1.1 0.5 1.2 0.6 1.1 0.8 1.2 0.9 1.2 1 1.1 1 1.2 1 1.1 0.9 1.2 0.9 1.1 0.8 1.2 0.6 1.1 0.6 1.2 0.4 1.1 0.3 1.2 0.2 1.1 0.1 1.2 -0.1 1.1 0 1.2 -0.3 1.1 -0.5 1.2 -0.8 1.1 -1.4 1.2 -2 1.1 -2.4 1.2 -2.1 1.1 -1.4 1.2 -0.1 1.1 0.5 1.2 0.3 1.1 -0.1 1.2 -0.6 1.1 -0.8 1.2 -0.7 1.1 -0.5 1.2 -0.1 1.1 0.2 1.2 0.3 1.1 0.5 1.2 0.4 1.1 0.5 1.2 0.5 1.1 0.3 1.2 0.2 1.2 -0.1 1.1 -0.3 1.2 -0.7 1.1 -1 1.2 -1.4 1.1 -1.7 1.2 -2.1 1.1 -2.3 1.2 -2.5 1.1 -2.3 1.2 -2 1.1 -1.6 1.2 -1 1.1 -0.6 1.2 -0.3 1.1 -0.2 1.2 -0.4 1.1 -0.8 1.2 -1.2 1.1 -1.6 1.2 -1.6 1.1 -1.4 1.2 -0.8 1.1 0.4 1.2 1.5 1.1 2.4 1.2 2.8 1.1 2.8 1.2 2.7 1.1 2.3 1.2 1.8 1.1 1.5 1.2 1.1 1.1 1 1.2 0.7 1.1 0.7 1.2 0.5 1.2 0.5 1.1 0.4 1.2 0.5 1.1 0.4 1.2 0.4 1.1 0.3 1.2 0.4 1.1 0.5 1.2 0.5 1.1 0.5 1.2 0.7 1.1 0.7 1.2 0.8 1.1 0.7 1.2 0.9 1.1 0.9 1.2 0.8 1.1 0.9 1.2 0.9 1.1 0.7 1.2 0.8 1.1 0.6 1.2 0.4 1.1 0.3 1.2 0.1 1.1 0 1.2 0 1.1 0.2 1.2 0.3 1.1 0.6 1.2 0.6 1.1 0.6 1.2 0.4 1.1 0.3 1.2 0.1 1.1 -0.2 1.2 -0.6 1.1 -1.7 1.2 -2.5"/><path stroke="#F5561C" d="M72 343.3l1.2 4.7 1.1 6.3 1.2 4.2 1.1 1.3 1.2 -0.9 1.1 -2 1.2 -2.3 1.1 -1.7 1.2 -0.3 1.1 1 1.2 1.9 1.1 2 1.2 1.6 1.1 1 1.2 0.4 1.1 -0.2 1.2 -0.5 1.1 -0.9 1.2 -1.1 1.2 -1.3 1.1 -1.4 1.2 -1.6 1.1 -1.8 1.2 -1.9 1.1 -2 1.2 -2.1 1.1 -2.3 1.2 -2.3 1.1 -2.3 1.2 -2.4 1.1 -2.3 1.2 -2.1 1.1 -2 1.2 -1.6 1.1 -1.2 1.2 -0.7 1.1 -0.5 1.2 -0.3 1.1 -0.4 1.2 -0.6 1.1 -0.5 1.2 0.3 1.1 2.1 1.2 4 1.1 5.1 1.2 5 1.1 4.3 1.2 3.2 1.1 2.1 1.2 1.4 1.1 0.8 1.2 0.5 1.1 0.1 1.2 -0.1 1.1 -0.5 1.2 -1 1.2 -1.7 1.1 -2.7 1.2 -3.8 1.1 -5 1.2 -5.8 1.1 -6.1 1.2 -5.3 1.1 -3.1 1.2 0.1 1.1 3.2 1.2 5.3 1.1 6.1 1.2 5.8 1.1 4.7 1.2 3.5 1.1 2.3 1.2 1.3 1.1 0.4 1.2 -0.2 1.1 -0.6 1.2 -1.1 1.1 -1.5 1.2 -1.8 1.1 -2.2 1.2 -2.6 1.1 -2.9 1.2 -3.1 1.1 -3.2 1.2 -3.3 1.1 -2.9 1.2 -2.6 1.1 -1.7 1.2 -0.9 1.1 0.3 1.2 1.2 1.1 2.2 1.2 2.9 1.1 3.3 1.2 3.4 1.2 3.4 1.1 3.2 1.2 2.9 1.1 2.5 1.2 1.9 1.1 1.3 1.2 0.6 1.1 -0.3 1.2 -1.1 1.1 -2.2 1.2 -3 1.1 -3.8 1.2 -4.1 1.1 -3.7 1.2 -2.7 1.1 -0.8 1.2 1.2 1.1 3.2 1.2 4.4 1.1 4.8 1.2 4.6 1.1 4 1.2 3.1 1.1 2.2 1.2 1.4 1.1 0.7 1.2 0.1 1.1 -0.5 1.2 -0.8 1.1 -1.1 1.2 -1.5 1.1 -1.7 1.2 -1.9 1.1 -2.4 1.2 -2.7 1.1 -3.4 1.2 -4.1 1.2 -5.1 1.1 -5.9 1.2 -6.4 1.1 -6.3 1.2 -4.9 1.1 -2.4 1.2 0.8 1.1 3.1 1.2 4.3 1.1 4.5 1.2 4 1.1 3.4 1.2 2.7 1.1 2.4 1.2 2 1.1 1.9 1.2 1.9 1.1 1.9 1.2 1.8 1.1 1.7 1.2 1.7 1.1 1.6 1.2 1.5 1.1 1.4 1.2 1.4 1.1 1.3 1.2 1.3 1.1 1.3 1.2 1.2 1.1 1.3 1.2 1.1 1.1 1.1 1.2 1 1.1 0.8 1.2 0.6 1.1 0.4 1.2 0.2 1.1 0 1.2 -0.1 1.2 -0.3 1.1 -0.4 1.2 -0.6 1.1 -0.8 1.2 -0.9 1.1 -0.9 1.2 -0.7 1.1 -0.1 1.2 0.5 1.1 0.7 1.2 0.4 1.1 0 1.2 -0.5 1.1 -0.4 1.2 -0.1 1.1 0.6 1.2 0.8 1.1 0.8 1.2 0.6 1.1 0.3 1.2 0 1.1 -0.2 1.2 -0.4 1.1 -0.4 1.2 -0.6 1.1 -0.7 1.2 -1 1.1 -1.1 1.2 -1.4 1.1 -1.6 1.2 -1.4 1.1 -1 1.2 -0.3 1.1 0.4 1.2 0.9 1.1 1.2 1.2 0.9 1.2 0.7 1.1 0.4 1.2 0 1.1 -0.3 1.2 -0.7 1.1 -1.2 1.2 -1.8 1.1 -2.4 1.2 -2.9 1.1 -2.9 1.2 -2.3 1.1 -1.2 1.2 0.1 1.1 0.7 1.2 0.3 1.1 -0.6 1.2 -1.8 1.1 -2.9 1.2 -3.7 1.1 -4.1 1.2 -3.9 1.1 -3.2 1.2 -1.8 1.1 0.2 1.2 2.5 1.1 4 1.2 5 1.1 5.1 1.2 4.7 1.1 3.9 1.2 3.2 1.1 2.4 1.2 1.8 1.1 1.2 1.2 0.9 1.1 0.5 1.2 0.4 1.1 0.2 1.2 0.1 1.2 -0.1 1.1 0 1.2 -0.2 1.1 -0.2 1.2 -0.3 1.1 -0.4 1.2 -0.5 1.1 -0.7 1.2 -1.2 1.1 -1.8 1.2 -2.4 1.1 -2.7 1.2 -2.4 1.1 -1.2 1.2 0.5 1.1 1.9 1.2 2.4 1.1 2.1 1.2 1.5 1.1 0.8 1.2 0.2 1.1 -0.3 1.2 -0.6 1.1 -0.7 1.2 -0.6 1.1 -0.3 1.2 0.1 1.1 0.3 1.2 0.4 1.1 0.2 1.2 0.1 1.1 0 1.2 0.1 1.1 0.1 1.2 0.2 1.1 0.4 1.2 0.5 1.2 0.7 1.1 0.7 1.2 0.8 1.1 0.8 1.2 0.8 1.1 0.7 1.2 0.7 1.1 0.7 1.2 0.5 1.1 0.5 1.2 0.4 1.1 0.3 1.2 0.2 1.1 0.1 1.2 -0.2 1.1 -0.5 1.2 -1.4 1.1 -2.5 1.2 -3.6 1.1 -4.3 1.2 -3.6 1.1 -1 1.2 2.4 1.1 4.2 1.2 4.3 1.1 3.3 1.2 2.1 1.1 1.2 1.2 0.5 1.1 0.3 1.2 0 1.1 -0.1 1.2 -0.2 1.1 -0.3 1.2 -0.5 1.1 -0.7 1.2 -1.1 1.1 -1.4 1.2 -2.2 1.2 -2.9 1.1 -4.1 1.2 -5.6 1.1 -7.2 1.2 -9 1.1 -10.9 1.2 -12.3 1.1 -13.2 1.2 -13.1 1.1 -11.8 1.2 -8.9 1.1 -4.6 1.2 0.4 1.1 5 1.2 8.3 1.1 10.1 1.2 10.3 1.1 9.5 1.2 8 1.1 6.3 1.2 4.6 1.1 3.4 1.2 2.9 1.1 3 1.2 3.4 1.1 3.7 1.2 3.7 1.1 3.6 1.2 3.2 1.1 2.7 1.2 2.3 1.1 1.7 1.2 1.4 1.1 1.1 1.2 0.8 1.1 0.7 1.2 0.5 1.2 0.3 1.1 0.2 1.2 0.1 1.1 -0.1 1.2 -0.1 1.1 -0.2 1.2 -0.3 1.1 -0.2 1.2 -0.2 1.1 0 1.2 0.2 1.1 0.3 1.2 0.4 1.1 0.5 1.2 0.6 1.1 0.6 1.2 0.5 1.1 0.4 1.2 0.4 1.1 0.2 1.2 0.2 1.1 -0.1 1.2 -0.2 1.1 -0.4 1.2 -0.5 1.1 -0.5 1.2 -0.4 1.1 -0.2 1.2 0.2 1.1 0.4 1.2 0.7 1.1 0.7 1.2 0.6 1.1 0.6 1.2 0.4 1.1 0.2 1.2 -0.2 1.1 -1.1 1.2 -1.9"/><path stroke="#F2B01E" d="M72 326.8l1.2 6.7 1.1 8.5 1.2 6 1.1 2.7 1.2 0.5 1.1 -0.7 1.2 -1 1.1 -0.5 1.2 0.6 1.1 1.7 1.2 2.5 1.1 2.5 1.2 2.1 1.1 1.7 1.2 1 1.1 0.6 1.2 0.3 1.1 -0.1 1.2 -0.2 1.2 -0.4 1.1 -0.5 1.2 -0.8 1.1 -1 1.2 -1.3 1.1 -1.4 1.2 -1.8 1.1 -2 1.2 -2.3 1.1 -2.6 1.2 -2.9 1.1 -2.9 1.2 -3 1.1 -2.8 1.2 -2.6 1.1 -2.1 1.2 -1.6 1.1 -1.2 1.2 -0.7 1.1 -0.5 1.2 -0.5 1.1 -0.2 1.2 0.5 1.1 1.8 1.2 3.1 1.1 3.8 1.2 3.7 1.1 3.2 1.2 2.5 1.1 1.8 1.2 1.2 1.1 0.8 1.2 0.6 1.1 0.3 1.2 0.1 1.1 -0.2 1.2 -0.5 1.2 -0.9 1.1 -1.5 1.2 -2.1 1.1 -2.6 1.2 -3.2 1.1 -3.3 1.2 -3 1.1 -2 1.2 -0.4 1.1 1.1 1.2 2.1 1.1 2.6 1.2 2.3 1.1 1.9 1.2 1.5 1.1 0.7 1.2 0.3 1.1 -0.1 1.2 -0.5 1.1 -0.7 1.2 -1.1 1.1 -1.4 1.2 -1.7 1.1 -2.2 1.2 -2.5 1.1 -2.6 1.2 -2.6 1.1 -2.3 1.2 -1.7 1.1 -1 1.2 -0.4 1.1 0.1 1.2 0.4 1.1 0.7 1.2 0.9 1.1 1.1 1.2 1.3 1.1 1.4 1.2 1.5 1.2 1.4 1.1 1.4 1.2 1.3 1.1 1.2 1.2 1 1.1 0.7 1.2 0.4 1.1 -0.1 1.2 -0.5 1.1 -1.1 1.2 -1.6 1.1 -2 1.2 -2.3 1.1 -2.1 1.2 -1.7 1.1 -0.8 1.2 0.1 1.1 1.1 1.2 1.8 1.1 1.8 1.2 1.7 1.1 1.4 1.2 0.8 1.1 0.3 1.2 -0.1 1.1 -0.5 1.2 -0.8 1.1 -1.1 1.2 -1.3 1.1 -1.5 1.2 -1.7 1.1 -1.8 1.2 -1.9 1.1 -2 1.2 -2.3 1.1 -2.6 1.2 -2.9 1.2 -3.2 1.1 -3.7 1.2 -3.8 1.1 -3.4 1.2 -2.5 1.1 -0.7 1.2 1.2 1.1 2.7 1.2 3.4 1.1 3.7 1.2 3.5 1.1 3.1 1.2 2.8 1.1 2.5 1.2 2.3 1.1 2.2 1.2 2.1 1.1 1.9 1.2 1.9 1.1 1.8 1.2 1.6 1.1 1.4 1.2 1.3 1.1 1.2 1.2 1 1.1 0.8 1.2 0.7 1.1 0.7 1.2 0.6 1.1 0.6 1.2 0.6 1.1 0.7 1.2 0.7 1.1 0.8 1.2 0.7 1.1 0.8 1.2 0.7 1.1 0.6 1.2 0.6 1.2 0.4 1.1 0.2 1.2 0 1.1 -0.4 1.2 -0.8 1.1 -1 1.2 -0.9 1.1 -0.5 1.2 0 1.1 0.3 1.2 -0.1 1.1 -0.4 1.2 -0.8 1.1 -0.7 1.2 0 1.1 0.7 1.2 1.3 1.1 1.4 1.2 1.4 1.1 1.1 1.2 1 1.1 0.9 1.2 0.7 1.1 0.6 1.2 0.5 1.1 0.4 1.2 0.2 1.1 0.1 1.2 -0.1 1.1 -0.3 1.2 -0.5 1.1 -0.5 1.2 -0.6 1.1 -0.7 1.2 -0.7 1.1 -0.7 1.2 -0.9 1.2 -0.9 1.1 -0.8 1.2 -1 1.1 -1 1.2 -1.1 1.1 -1.2 1.2 -1.4 1.1 -1.7 1.2 -1.9 1.1 -1.8 1.2 -1.3 1.1 -0.5 1.2 0.6 1.1 1.1 1.2 1 1.1 0.8 1.2 0.1 1.1 -0.5 1.2 -1.2 1.1 -1.5 1.2 -1.6 1.1 -1.6 1.2 -1.1 1.1 -0.3 1.2 0.5 1.1 1.3 1.2 1.5 1.1 1.6 1.2 1.3 1.1 1 1.2 0.7 1.1 0.4 1.2 0.1 1.1 0 1.2 0.1 1.1 0.3 1.2 0.3 1.1 0.5 1.2 0.6 1.2 0.6 1.1 0.5 1.2 0.4 1.1 0.3 1.2 0 1.1 -0.1 1.2 -0.3 1.1 -0.8 1.2 -1.3 1.1 -1.9 1.2 -2.7 1.1 -3 1.2 -2.7 1.1 -1.5 1.2 0.4 1.1 1.7 1.2 2.2 1.1 2 1.2 1.3 1.1 0.5 1.2 -0.2 1.1 -0.9 1.2 -1.3 1.1 -1.5 1.2 -1.5 1.1 -1 1.2 -0.6 1.1 -0.3 1.2 -0.5 1.1 -0.6 1.2 -0.9 1.1 -0.9 1.2 -0.9 1.1 -0.6 1.2 -0.3 1.1 0.3 1.2 0.6 1.2 1 1.1 1.3 1.2 1.6 1.1 1.7 1.2 1.7 1.1 1.8 1.2 1.7 1.1 1.7 1.2 1.5 1.1 1.5 1.2 1.3 1.1 1.2 1.2 1.1 1.1 0.9 1.2 0.6 1.1 0.3 1.2 -0.2 1.1 -0.9 1.2 -1.9 1.1 -2.2 1.2 -1.8 1.1 -0.4 1.2 1.5 1.1 2.5 1.2 2.5 1.1 1.9 1.2 1 1.1 0.4 1.2 0 1.1 -0.3 1.2 -0.3 1.1 -0.4 1.2 -0.4 1.1 -0.5 1.2 -0.5 1.1 -0.6 1.2 -0.4 1.1 -0.7 1.2 -0.8 1.2 -1 1.1 -1.3 1.2 -1.7 1.1 -2.1 1.2 -2.8 1.1 -3.3 1.2 -3.9 1.1 -4.3 1.2 -4.4 1.1 -4.3 1.2 -3.7 1.1 -2.6 1.2 -1.5 1.1 -0.3 1.2 0.7 1.1 1.1 1.2 1.3 1.1 1.2 1.2 0.8 1.1 0.4 1.2 0.1 1.1 0.1 1.2 0.7 1.1 1.7 1.2 2.8 1.1 3.5 1.2 3.9 1.1 3.8 1.2 3.4 1.1 2.9 1.2 2.3 1.1 1.7 1.2 1.4 1.1 1 1.2 0.8 1.1 0.7 1.2 0.6 1.2 0.5 1.1 0.4 1.2 0.5 1.1 0.5 1.2 0.5 1.1 0.5 1.2 0.7 1.1 0.7 1.2 0.9 1.1 1 1.2 1.1 1.1 1.4 1.2 1.3 1.1 1.4 1.2 1.4 1.1 1.4 1.2 1.3 1.1 1.2 1.2 1 1.1 0.9 1.2 0.7 1.1 0.5 1.2 0.3 1.1 0.1 1.2 -0.2 1.1 -0.2 1.2 -0.3 1.1 -0.3 1.2 -0.2 1.1 -0.1 1.2 -0.1 1.1 -0.1 1.2 -0.2 1.1 -0.3 1.2 -0.3 1.1 -0.6 1.2 -1.1 1.1 -2.2 1.2 -3.4"/><path stroke="#BA4DCB" d="M72 257.3l1.2 20.4 1.1 26.6 1.2 17.3 1.1 5.2 1.2 -3.5 1.1 -7.7 1.2 -8.3 1.1 -5.5 1.2 0.3 1.1 6.4 1.2 10.3 1.1 11 1.2 9.7 1.1 7.3 1.2 5.1 1.1 3 1.2 1.7 1.1 0.8 1.2 0.3 1.2 -0.1 1.1 -0.4 1.2 -0.6 1.1 -0.9 1.2 -1.2 1.1 -1.5 1.2 -1.8 1.1 -2.2 1.2 -2.6 1.1 -2.9 1.2 -3.2 1.1 -3.6 1.2 -3.7 1.1 -3.9 1.2 -3.8 1.1 -3.9 1.2 -4 1.1 -4.7 1.2 -5.8 1.1 -7.6 1.2 -9 1.1 -9.3 1.2 -6.6 1.1 -0.7 1.2 6.3 1.1 10.7 1.2 11.8 1.1 10.5 1.2 8.1 1.1 5.8 1.2 3.9 1.1 2.7 1.2 2 1.1 1.3 1.2 0.9 1.1 0.5 1.2 -0.2 1.2 -0.9 1.1 -2 1.2 -3.1 1.1 -4.3 1.2 -5.2 1.1 -5.5 1.2 -4.7 1.1 -2.8 1.2 0.2 1.1 3.2 1.2 5.1 1.1 5.6 1.2 5.3 1.1 4.2 1.2 2.9 1.1 1.5 1.2 0.3 1.1 -0.7 1.2 -1.5 1.1 -2.2 1.2 -2.8 1.1 -3.4 1.2 -4.1 1.1 -4.5 1.2 -5.1 1.1 -5.3 1.2 -5.6 1.1 -5.6 1.2 -5.3 1.1 -4.7 1.2 -3.9 1.1 -2.7 1.2 -1.2 1.1 0.4 1.2 2 1.1 3.4 1.2 4.6 1.1 5.4 1.2 5.8 1.2 6.1 1.1 5.9 1.2 5.7 1.1 5.1 1.2 4.4 1.1 3.5 1.2 2.2 1.1 0.7 1.2 -1 1.1 -2.6 1.2 -3.9 1.1 -4.1 1.2 -3.4 1.1 -2.1 1.2 -0.7 1.1 0.7 1.2 2.2 1.1 3.5 1.2 4.1 1.1 4.3 1.2 4.1 1.1 3.4 1.2 2.7 1.1 2 1.2 1.1 1.1 0.5 1.2 0 1.1 -0.4 1.2 -0.8 1.1 -1.2 1.2 -1.5 1.1 -1.9 1.2 -2.5 1.1 -3.3 1.2 -4.7 1.1 -6.8 1.2 -9.7 1.2 -13.4 1.1 -17.2 1.2 -19.8 1.1 -19.6 1.2 -15.3 1.1 -6.3 1.2 4.8 1.1 13.1 1.2 16.7 1.1 16.3 1.2 13.7 1.1 10.4 1.2 7.3 1.1 5 1.2 3.6 1.1 2.9 1.2 2.6 1.1 2.4 1.2 2.5 1.1 2.4 1.2 2.3 1.1 2.3 1.2 2.1 1.1 2 1.2 1.7 1.1 1.6 1.2 1.4 1.1 1.3 1.2 1.3 1.1 1.2 1.2 1.3 1.1 1.4 1.2 1.4 1.1 1.5 1.2 1.4 1.1 1.3 1.2 1.2 1.1 1 1.2 0.8 1.2 0.6 1.1 -0.1 1.2 -0.9 1.1 -2.3 1.2 -3.4 1.1 -4.2 1.2 -3.4 1.1 -0.6 1.2 2.6 1.1 4.3 1.2 4.1 1.1 2.8 1.2 1.6 1.1 0.8 1.2 0.7 1.1 1 1.2 1.3 1.1 1.3 1.2 1.1 1.1 0.8 1.2 0.6 1.1 0.4 1.2 0.3 1.1 0 1.2 -0.2 1.1 -0.5 1.2 -0.9 1.1 -1.5 1.2 -1.9 1.1 -2.1 1.2 -2.1 1.1 -1.4 1.2 -0.2 1.1 1 1.2 1.8 1.1 2.1 1.2 2 1.2 1.6 1.1 1.1 1.2 0.6 1.1 0.2 1.2 -0.1 1.1 -0.6 1.2 -1 1.1 -1.6 1.2 -1.8 1.1 -1.9 1.2 -1.3 1.1 -0.2 1.2 0.8 1.1 1.3 1.2 1.1 1.1 0.4 1.2 -0.9 1.1 -2.1 1.2 -3.2 1.1 -4.2 1.2 -4.4 1.1 -4 1.2 -2.8 1.1 -0.7 1.2 1.5 1.1 3.2 1.2 4.1 1.1 4.2 1.2 3.9 1.1 3.3 1.2 2.5 1.1 1.8 1.2 1.2 1.1 0.8 1.2 0.4 1.1 0.2 1.2 0 1.1 -0.2 1.2 -0.3 1.2 -0.4 1.1 -0.5 1.2 -0.7 1.1 -0.8 1.2 -1 1.1 -1.1 1.2 -1.3 1.1 -1.7 1.2 -2.1 1.1 -2.8 1.2 -3.5 1.1 -3.8 1.2 -3.5 1.1 -2.1 1.2 -0.3 1.1 1.3 1.2 1.8 1.1 1.4 1.2 0.6 1.1 -0.3 1.2 -1.4 1.1 -2.3 1.2 -3 1.1 -3.3 1.2 -2.8 1.1 -1.5 1.2 -0.3 1.1 0.5 1.2 0.4 1.1 0.1 1.2 -0.5 1.1 -1 1.2 -1.2 1.1 -1.2 1.2 -1.2 1.1 -1 1.2 -0.8 1.2 -0.3 1.1 0.1 1.2 0.8 1.1 1.4 1.2 2 1.1 2.4 1.2 2.6 1.1 2.6 1.2 2.4 1.1 2.3 1.2 2 1.1 1.7 1.2 1.5 1.1 1.3 1.2 0.9 1.1 0.5 1.2 -0.1 1.1 -1 1.2 -1.8 1.1 -2.2 1.2 -1.9 1.1 -0.2 1.2 1.9 1.1 3 1.2 3.1 1.1 2.3 1.2 1.6 1.1 0.9 1.2 0.5 1.1 0.2 1.2 0.2 1.1 0 1.2 0.1 1.1 -0.1 1.2 0 1.1 -0.2 1.2 -0.3 1.1 -0.5 1.2 -0.8 1.2 -1.2 1.1 -1.7 1.2 -2.4 1.1 -3.4 1.2 -4.2 1.1 -5.1 1.2 -5.9 1.1 -6.4 1.2 -6.4 1.1 -5.7 1.2 -4.4 1.1 -2.3 1.2 0.1 1.1 2 1.2 3.3 1.1 3.5 1.2 3 1.1 1.6 1.2 0 1.1 -1.4 1.2 -2.5 1.1 -2.3 1.2 -1 1.1 1.4 1.2 4.2 1.1 6.3 1.2 7.3 1.1 7.3 1.2 6.5 1.1 5.5 1.2 4.2 1.1 3.3 1.2 2.3 1.1 1.6 1.2 1.2 1.1 0.8 1.2 0.6 1.2 0.4 1.1 0.2 1.2 0 1.1 -0.2 1.2 -0.2 1.1 -0.4 1.2 -0.4 1.1 -0.4 1.2 -0.4 1.1 -0.4 1.2 -0.3 1.1 -0.2 1.2 -0.1 1.1 -0.1 1.2 -0.1 1.1 0 1.2 0 1.1 0 1.2 -0.1 1.1 -0.3 1.2 -0.4 1.1 -0.7 1.2 -1 1.1 -1.5 1.2 -1.8 1.1 -1.7 1.2 -1.5 1.1 -0.6 1.2 0.5 1.1 1.5 1.2 1.9 1.1 1.9 1.2 1.6 1.1 1.2 1.2 0.6 1.1 0 1.2 -1.3 1.1 -3.6 1.2 -5.7"/><path stroke="#BA4DCB" d="M72 337.5l1 -0.4 1 -0.3 1 -0.4 1 -0.4 1 -0.3 1 -0.4 1 -0.4 1 -0.4 1 -0.4 1 -0.4 1 -0.4 1 -0.4 1 -0.4 1 -0.5 1 -0.5 1 -0.5 1 -0.6 1 -0.7 1 -0.7 1 -0.8 1 -0.9 1 -1 1 -1.1 1 -1.4 1 -1.5 1 -1.6 1 -1.9 1 -2.1 1 -2.3 1 -2.4 1 -2.6 1 -2.8 1 -2.8 1 -2.8 1 -2.8 1 -2.7 1 -2.4 1 -2.1 1 -1.7 1 -1.1 1 -0.7 1 0 1 0.5 1 1 1 1.5 1 1.7 1 2 1 2.1 1 1.6 1 1.5 1 1.5 1 1.3 1 1.2 1 1 1 0.8 1 0.5 1 0.4 1 0.2 1 -0.1 1 -0.2 1 -0.4 1 -0.6 1 -0.7 1 -0.8 1 -1 1 -1.2 1 -1.3 1 -1.4 1 -1.6 1 -1.9 1 -2 1 -2.2 1 -2.5 1 -2.8 1 -3 1 -3.4 1 -3.8 1 -4.1 1 -3.7 1 -4.2 1 -4.5 1 -5 1 -5.4 1 -5.8 1 -6.2 1 -6.5 1 -6.9 1 -7 1 -7.3 1 -7.4 1 -7.3 1 -7.4 1 -7.1 1 -6.9 1 -6.6 1 -6 1 -5.5 1 -4.9 1 -4.1 1 -3.4 1 -2.4 1 -1.6 1 -0.7 1 -0.1 1 -0.1 1 0.5 1 1.4 1 2.9 1 5 1 7.6 1 10.4 1 13.3 1 15.6 1 17.2 1 17.3 1 16.1 1 13.8 1 10.6 1 7.4 1 4.5 1 2.4 1 1 1 0.2 1 -0.1 1 -0.2 1 -0.3 1 -0.4 1 -0.4 1 -0.5 1 -0.5 1 -0.7 1 -0.7 1 -0.9 1 -0.4 1 -0.6 1 -0.9 1 -1.2 1 -1.5 1 -1.9 1 -2.4 1 -2.7 1 -3.3 1 -3.7 1 -4.1 1 -4.4 1 -4.8 1 -4.9 1 -5 1 -4.9 1 -4.7 1 -4.2 1 -3.5 1 -2.8 1 -1.8 1 -0.8 1 0.1 1 1.2 1 1.9 1 2.6 1 3 1 3.4 1 3.5 1 3.4 1 3.4 1 3.1 1 2.8 1 2.6 1 2.1 1 1.8 1 1.5 1 1.3 1 0.9 1 0.9 1 0.6 1 0.6 1 0.6 1 0.5 1 0.5 1 0.7 1 1.1 1 1.3 1 1.5 1 1.9 1 2.2 1 2.5 1 2.7 1 3 1 3 1 2.6 1 2.6 1 2.8 1 2.7 1 2.8 1 2.7 1 2.6 1 2.6 1 2.4 1 2.3 1 2.1 1 1.9 1 1.6 1 1.4 1 1.1 1 0.9 1 0.9 1 1.1 1 1.4 1 1.4 1 1.3 1 0.9 1 0.6 1 0.4 1 0.4 1 0.5 1 0.8 1 0.9 1 1 1 0.9 1 0.7 1 0.5 1 0.4 1 0.2 1 0.2 1 0 1 -0.1 1 -0.1 1 -0.2 1 -0.3 1 -0.4 1 -0.5 1 -0.5 1 -0.5 1 -0.6 1 -0.5 1 -0.3 1 -0.3 1 -0.2 1 -0.2 1 -0.2 1 -0.3 1 -0.3 1 -0.3 1 -0.5 1 -0.5 1 -0.7 1 -0.8 1 -1.2 1 -1.3 1 -1.7 1 -1.7 1 -1.7 1 -1.2 1 -0.3 1 0.4 1 1.1 1 1.3 1 1.3 1 1 1 0.5 1 0 1 -0.4 1 -0.7 1 -0.8 1 -0.7 1 -0.4 1 0.2 1 0.9 1 1.7 1 2.2 1 2.6 1 2.7 1 2.6 1 2.2 1 2 1 1.7 1 1.3 1 1 1 0.8 1 0.5 1 0.4 1 0.2 1 0.1 1 -0.1 1 -0.1 1 -0.2 1 -0.3 1 -0.4 1 -0.3 1 -0.5 1 -0.5 1 -0.5 1 -0.6 1 -0.7 1 -0.8 1 -1 1 -1.4 1 -1.6 1 -1.8 1 -1.8 1 -1.3 1 -0.5 1 0.2 1 0.6 1 0.7 1 0.6 1 0.2 1 -0.2 1 -0.6 1 -1.1 1 -1.3 1 -1.5 1 -1.6 1 -1.6 1 -1.6 1 -1.7 1 -1.7 1 -1.9 1 -1.9 1 -2 1 -1.9 1 -1.9 1 -1.8 1 -1.7 1 -1.5 1 -1.3 1 -1 1 -0.7 1 -0.5 1 -0.3 1 -0.1 1 0 1 0.1 1 0.2 1 0.1 1 0.1 1 0.1 1 -0.1 1 -0.2 1 -0.2 1 -0.5 1 -0.5 1 -0.7 1 -0.8 1 -1 1 -1.1 1 -1.1 1 -1.3 1 -1.4 1 -1.4 1 -1.4 1 -1.6 1 -1.6 1 -1.7 1 -1.8 1 -1.9 1 -1.9 1 -2.1 1 -2.2 1 -2.4 1 -2.4 1 -2.7 1 -2.9 1 -3 1 -3.4 1 -3.7 1 -4 1 -4.5 1 -5 1 -5.7 1 -6.4 1 -7.5 1 -8.6 1 -10.1 1 -12 1 -14.2 1 -17.3 1 -20.9 1 -25.6 1 -31.4 1 -38.4 1 -46 1 -53.7 1 -58.5 1 -56.8 1 -44.2 1 -19.5 1 11.6 1 38.7 1 54.7 1 58.7 1 55.1 1 47.9 1 40 1 32.7 1 26.7 1 21.6 1 17.7 1 14.5 1 12 1 10 1 8.3 1 7.1 1 6.1 1 5.2 1 4.5 1 3.9 1 3.4 1 3.1 1 2.7 1 2.5 1 2.3 1 2.2 1 2.1 1 2 1 2.1 1 2.1 1 2.2 1 2.3 1 2.6 1 2.7 1 3 1 3.3 1 3.4 1 3.7 1 3.9 1 3.9 1 4.2 1 4.1 1 3.8 1 3.5 1 2.9 1 2.4 1 1.8 1 1.7 1 1.3 1 0.9 1 0.7 1 0.6 1 0.4 1 0.4 1 0.4 1 0.3 1 0.3 1 0.2 1 0.3 1 0.4 1 0.6 1 0.6 1 0.8 1 0.8 1 0.8 1 0.9 1 0.8 1 0.7 1 0.8 1 0.7 1 0.8 1 0.7 1 0.7"/><path stroke="#2FB8F0" d="M72 215.4l1 17.1 1 19.4 1 15.6 1 9.6 1 3.7 1 -1.4 1 -5.1 1 -7.2 1 -6.5 1 -2.2 1 4.1 1 8.5 1 9.5 1 8 1 5.6 1 3.4 1 1.8 1 0.7 1 0.1 1 -0.3 1 -0.8 1 -1.3 1 -1.7 1 -3.4 1 -3.9 1 -4.5 1 -5 1 -5.5 1 -6 1 -6.4 1 -6.7 1 -6.8 1 -6.8 1 -6.5 1 -6.1 1 -5.5 1 -4.6 1 -3.6 1 -2.5 1 -1.3 1 0 1 1 1 1.9 1 2.5 1 2.6 1 2.5 1 2.2 1 2 1 2.1 1 2.8 1 4.4 1 6.3 1 7.6 1 7.9 1 7.5 1 6.5 1 5.3 1 3.9 1 2.9 1 1.9 1 1.3 1 0.7 1 0.3 1 0 1 -0.5 1 -0.9 1 -2.2 1 -4.4 1 -8.4 1 -14.3 1 -20 1 -21.9 1 -15.7 1 -0.5 1 14.9 1 21 1 19 1 13.3 1 8.4 1 4.2 1 2 1 0.7 1 0 1 -0.3 1 -0.8 1 -1.3 1 -1.7 1 -2.2 1 -2.8 1 -3.3 1 -3.8 1 -4.4 1 -4.9 1 -5.3 1 -5.6 1 -5.8 1 -5.9 1 -5.7 1 -5.3 1 -4.8 1 -4 1 -3.1 1 -1.9 1 -0.7 1 0.7 1 1.9 1 3.1 1 4.3 1 5.1 1 5.9 1 6.5 1 6.7 1 6.8 1 6.8 1 6.6 1 6.2 1 5.8 1 5.4 1 4.7 1 4.3 1 3.7 1 3.2 1 2.7 1 2.3 1 2 1 1.6 1 1.4 1 1.2 1 0.6 1 0.5 1 0.4 1 0.3 1 0.1 1 0.1 1 -0.1 1 -0.2 1 -0.3 1 -0.6 1 -0.9 1 -1.2 1 -1.7 1 -2.3 1 -3 1 -3.7 1 -4.5 1 -5.2 1 -5.9 1 -6.3 1 -6.6 1 -6.4 1 -5.9 1 -4.8 1 -3.3 1 -1.8 1 -0.5 1 0 1 0.3 1 1.5 1 4.6 1 9 1 11.4 1 10.9 1 8.8 1 6.7 1 4.9 1 3.7 1 2.9 1 2.2 1 1.7 1 1.3 1 1 1 0.7 1 0.6 1 0.5 1 0.3 1 0.3 1 0.2 1 0 1 0 1 0 1 -0.1 1 -0.1 1 -0.1 1 -0.1 1 -0.2 1 0 1 -0.1 1 0.1 1 0 1 0.2 1 0.1 1 0.1 1 0.2 1 0.2 1 0.1 1 0.2 1 0 1 0.1 1 -0.1 1 -0.2 1 -0.2 1 -0.5 1 -0.5 1 -0.6 1 -0.5 1 -0.3 1 0.1 1 0.3 1 0.2 1 0.1 1 -0.1 1 -0.2 1 -0.2 1 0 1 0.4 1 0.5 1 0.6 1 0.7 1 0.6 1 0.5 1 0.4 1 0.4 1 0.4 1 0.4 1 0.3 1 0.3 1 0.4 1 0.2 1 0.3 1 0.2 1 0.1 1 0.2 1 0.2 1 0.4 1 0.5 1 0.7 1 0.8 1 0.9 1 0.9 1 0.8 1 0.6 1 0.7 1 0.5 1 0.3 1 0.1 1 -0.2 1 -0.9 1 -1.7 1 -2.9 1 -4.1 1 -4.7 1 -4 1 -1.3 1 2.3 1 4.7 1 5.4 1 4.6 1 3.3 1 1.8 1 0.3 1 -0.8 1 -2.2 1 -3.3 1 -4.3 1 -4.5 1 -3.5 1 -1.1 1 2.1 1 4.4 1 5.4 1 5.1 1 4.2 1 3 1 2.1 1 1.2 1 0.7 1 0.4 1 0.1 1 0 1 -0.2 1 -0.4 1 -0.4 1 -0.6 1 -0.6 1 -0.7 1 -0.8 1 -0.9 1 -1 1 -0.9 1 -1.1 1 -1.1 1 -1.2 1 -1.5 1 -1.7 1 -2.2 1 -3 1 -3.5 1 -4 1 -3.8 1 -2.8 1 -1.1 1 0.3 1 1.2 1 1.7 1 1.4 1 0.7 1 -0.1 1 -1 1 -1.7 1 -2.4 1 -3.1 1 -3.8 1 -3.9 1 -4 1 -4.9 1 -6.5 1 -7.6 1 -7.5 1 -7.7 1 -6.6 1 -5.6 1 -7.3 1 -7.1 1 -6.3 1 -2 1 4.7 1 2.5 1 -2.4 1 -2 1 2.2 1 3.5 1 3.4 1 4.3 1 2.2 1 0.7 1 2.5 1 2.9 1 3.5 1 1.3 1 -0.1 1 3.9 1 4.4 1 3.6 1 4.7 1 3.8 1 2.6 1 1.2 1 -1.9 1 -5.4 1 -7.6 1 -7.2 1 -3.4 1 2.5 1 6.6 1 7.5 1 6 1 3.8 1 1.7 1 0.1 1 -0.7 1 -1.2 1 -1.6 1 -1.7 1 -1.9 1 -2.2 1 -2.3 1 -2.6 1 -2.9 1 -2.5 1 -2.9 1 -3.4 1 -3.9 1 -4.7 1 -5.7 1 -7 1 -9 1 -11.4 1 -14.7 1 -18.8 1 -23.6 1 -28.9 1 -34.3 1 -38.5 1 -39.7 1 -35.1 1 -22.1 1 -2.4 1 18.3 1 32.9 1 39.1 1 38.9 1 35.2 1 30 1 24.8 1 19.9 1 15.8 1 12.5 1 9.9 1 8 1 6.7 1 5.6 1 4.9 1 4.4 1 4 1 3.6 1 3.4 1 3.1 1 2.9 1 2.7 1 2.6 1 2.4 1 2.2 1 2.1 1 1.9 1 1.8 1 1.7 1 1.5 1 1.4 1 1.3 1 2.3 1 2.2 1 2 1 2 1 1.9 1 1.9 1 1.9 1 1.2 1 0.9 1 0.7 1 0.7 1 0.7 1 0.7 1 0.6 1 0.6 1 0.5 1 0.4 1 0.3 1 0.2 1 0 1 -0.2 1 -0.6 1 -0.9 1 -1.2 1 -1.4 1 -1.3 1 -1 1 -0.2 1 0.6 1 1.4 1 1.7 1 1.7 1 1.6 1 1.2 1 1 1 0.7 1 0.6 1 0.4 1 0.3 1 0.3"/><path stroke="#6DB83A" d="M72 248.7l1 8.8 1 10.6 1 8.7 1 5.5 1 1.7 1 -1.9 1 -4.9 1 -6.6 1 -5.9 1 -2.3 1 3.1 1 7 1 7.7 1 6.6 1 4.6 1 2.8 1 1.6 1 0.8 1 0.4 1 0.1 1 0 1 -0.2 1 -0.4 1 -1.2 1 -1.5 1 -1.8 1 -2.1 1 -2.5 1 -3 1 -3.4 1 -3.8 1 -4.3 1 -4.8 1 -5 1 -5.3 1 -5.5 1 -5.4 1 -5.3 1 -4.9 1 -4.4 1 -3.7 1 -2.8 1 -1.8 1 -0.7 1 0.3 1 1.4 1 2.4 1 3.2 1 3.8 1 4.3 1 4.5 1 4.7 1 4.5 1 4.4 1 4.1 1 3.7 1 3.3 1 2.8 1 2 1 1.5 1 1.1 1 0.7 1 0.3 1 -0.1 1 -0.6 1 -1.3 1 -2.6 1 -4.9 1 -8.6 1 -13.3 1 -17.3 1 -18.1 1 -12.6 1 -0.7 1 11.1 1 16.6 1 15.7 1 11.8 1 7.2 1 3.4 1 1 1 -0.2 1 -1 1 -1.5 1 -1.9 1 -2.4 1 -2.8 1 -3.4 1 -2.2 1 -2.7 1 -3.4 1 -4 1 -4.5 1 -5 1 -5.3 1 -5.6 1 -5.5 1 -5.4 1 -4.9 1 -4.2 1 -3.4 1 -2.3 1 -0.9 1 0.4 1 1.8 1 3.2 1 4.5 1 5.5 1 6.4 1 7 1 7.3 1 7.5 1 7.4 1 7.2 1 6.8 1 6.2 1 5.6 1 4.9 1 3.5 1 2.3 1 1 1 -0.9 1 -3 1 -5.1 1 -6.8 1 -7.4 1 -6.4 1 -3.2 1 1.5 1 6 1 8.9 1 9.6 1 9 1 7.4 1 5.7 1 4 1 2.8 1 1.9 1 1.3 1 1.1 1 0.9 1 0.7 1 0.7 1 0.3 1 0.2 1 0.1 1 0.1 1 0.1 1 -0.1 1 -0.3 1 -0.8 1 -1.6 1 -3.4 1 -6.1 1 -9.8 1 -13.2 1 -14.8 1 -12.6 1 -5 1 5.4 1 13.1 1 15.3 1 13.7 1 10.1 1 6.6 1 3.9 1 2.1 1 1.2 1 0.8 1 0.5 1 0.4 1 0.4 1 0.2 1 0.2 1 0.2 1 0.1 1 0.2 1 0.2 1 0.2 1 0.2 1 0.1 1 0.1 1 0.1 1 0.2 1 0.2 1 0.3 1 0.3 1 0.3 1 0.2 1 0.3 1 0.3 1 0.4 1 0.3 1 0.4 1 0.2 1 0.3 1 0.1 1 0.1 1 -0.2 1 -0.4 1 -0.8 1 -1.2 1 -1.5 1 -1.7 1 -1.3 1 -0.5 1 0.6 1 1.3 1 1.4 1 1.2 1 0.8 1 0.3 1 0.1 1 0.1 1 0.3 1 0.4 1 0.4 1 0.5 1 0.4 1 0.4 1 0.3 1 0.2 1 0.2 1 0.3 1 0.2 1 0.2 1 0.2 1 0.1 1 0.2 1 0.1 1 0.1 1 0.1 1 0.1 1 0.3 1 0.3 1 0.4 1 0.5 1 0.5 1 0.5 1 0.4 1 0.3 1 0.3 1 0.2 1 0 1 -0.3 1 -0.8 1 -2 1 -4 1 -7.1 1 -10.3 1 -12.1 1 -9.9 1 -2.6 1 6.8 1 12.2 1 12.4 1 9.7 1 6.4 1 3.2 1 1.4 1 0.6 1 0.1 1 -0.1 1 -0.2 1 -0.1 1 0.1 1 0.4 1 0.7 1 0.9 1 1.1 1 1.1 1 1 1 0.8 1 0.7 1 0.6 1 0.3 1 0.2 1 0 1 -0.2 1 -0.3 1 -0.4 1 -0.6 1 -0.7 1 -0.8 1 -0.9 1 -1 1 -1.2 1 -1.1 1 -1.4 1 -1.2 1 -1.4 1 -1.5 1 -1.6 1 -1.7 1 -2 1 -2.3 1 -2.6 1 -2.8 1 -2.7 1 -2.2 1 -1.4 1 -0.9 1 -0.5 1 -0.3 1 -0.3 1 -0.5 1 -0.8 1 -1.1 1 -1.1 1 -1.4 1 -1.5 1 -1.7 1 -1.6 1 -1.7 1 -2.1 1 -2.4 1 -2.9 1 -3.2 1 -3.6 1 -3.8 1 -3.8 1 -3.7 1 -3.4 1 -2.8 1 -2 1 -0.9 1 0.1 1 1.1 1 2 1 2.5 1 2.9 1 3 1 2.9 1 2.7 1 2.3 1 2 1 1.6 1 1.1 1 0.8 1 0.4 1 0.2 1 -0.1 1 -0.3 1 -0.4 1 -0.6 1 -1 1 -1.8 1 -3.1 1 -5.1 1 -7.2 1 -7.5 1 -4.6 1 1 1 5.3 1 6 1 4.5 1 2.3 1 0.6 1 -0.3 1 -0.9 1 -1.1 1 -1.2 1 -1.4 1 -1.6 1 -1.6 1 -1.9 1 -2 1 -2.1 1 -1.4 1 -1.7 1 -1.9 1 -2.3 1 -2.8 1 -3.5 1 -4.4 1 -5.5 1 -7.3 1 -9.5 1 -12.4 1 -15.9 1 -19.9 1 -24.1 1 -27.5 1 -29 1 -25.9 1 -16.5 1 -1.4 1 14.4 1 25.2 1 29.5 1 28.7 1 25.6 1 21.6 1 17.6 1 14.1 1 11.1 1 8.8 1 7.1 1 5.8 1 5 1 4.3 1 3.8 1 3.4 1 3.2 1 2.9 1 2.8 1 2.5 1 2.4 1 2.3 1 2.1 1 2 1 2 1 1.8 1 1.7 1 1.6 1 1.5 1 1.4 1 1.3 1 1.3 1 1.1 1 1.1 1 1.3 1 1.4 1 1.4 1 1.6 1 1.7 1 1.5 1 1.4 1 0.8 1 0.7 1 0.7 1 0.6 1 0.6 1 0.6 1 0.5 1 0.4 1 0.4 1 0.3 1 0.2 1 0.1 1 0 1 -0.2 1 -0.2 1 -0.3 1 -0.4 1 -0.3 1 -0.2 1 -0.1 1 0.2 1 0 1 0 1 -0.2 1 -0.5 1 -1.4 1 -2.8 1 -5.5 1 -9.2 1 -13.2 1 -15.5"/><path stroke="#6DB83A" d="M72 277.4l1 8.5 1 10.1 1 8.4 1 5.2 1 1.7 1 -1.8 1 -4.7 1 -6.3 1 -5.7 1 -2.2 1 3.1 1 6.7 1 7.6 1 6.4 1 4.5 1 2.8 1 1.5 1 0.9 1 0.6 1 0.4 1 0.2 1 0.3 1 0.1 1 -0.5 1 -0.6 1 -0.7 1 -1 1 -1.2 1 -1.6 1 -2.1 1 -2.7 1 -3.4 1 -4.4 1 -5.2 1 -6.3 1 -7.2 1 -8 1 -8.6 1 -8.8 1 -8.6 1 -7.7 1 -6.3 1 -4.2 1 -1.6 1 1.1 1 3.6 1 5.7 1 7.2 1 8 1 8.3 1 8 1 7.5 1 6.6 1 5.7 1 4.7 1 3.8 1 2.9 1 2.1 1 1.8 1 1.2 1 0.9 1 0.6 1 0.4 1 0.1 1 0 1 -0.5 1 -1 1 -2.3 1 -4.2 1 -6.5 1 -8.7 1 -9.1 1 -6.2 1 0 1 6.2 1 9.1 1 8.7 1 6.7 1 4.2 1 2.3 1 1.1 1 0.5 1 0.1 1 0 1 -0.1 1 -0.3 1 -0.5 1 -0.7 1 -0.8 1 -1.2 1 -1.7 1 -2.3 1 -3.1 1 -3.9 1 -4.8 1 -5.6 1 -6.5 1 -7.1 1 -7.4 1 -7.3 1 -6.9 1 -5.8 1 -4.1 1 -2 1 0.4 1 2.8 1 4.8 1 6.4 1 7.3 1 7.7 1 7.7 1 7.2 1 6.5 1 5.7 1 4.7 1 3.7 1 2.6 1 1.5 1 -0.1 1 -1.6 1 -3.5 1 -5.5 1 -7.8 1 -9.7 1 -11 1 -10.8 1 -8.9 1 -4.9 1 0.7 1 6.1 1 9.7 1 11.3 1 11.1 1 9.9 1 7.9 1 5.9 1 4.2 1 2.7 1 1.8 1 1.1 1 0.6 1 0.4 1 0.3 1 0.4 1 0.3 1 0.3 1 0.2 1 0.1 1 -0.1 1 -0.3 1 -0.9 1 -2 1 -4.1 1 -7.4 1 -11.8 1 -16 1 -18.1 1 -15.3 1 -6.1 1 6.7 1 15.9 1 18.7 1 16.7 1 12.4 1 8 1 4.8 1 2.6 1 1.5 1 1 1 0.7 1 0.5 1 0.5 1 0.5 1 0.4 1 0.3 1 0.3 1 0.3 1 0.4 1 0.4 1 0.3 1 0.3 1 0.4 1 0.3 1 0.3 1 0.3 1 0.3 1 0.4 1 0.3 1 0.1 1 0.1 1 0.2 1 0.1 1 0.2 1 0.1 1 0.2 1 0.1 1 0 1 0 1 0 1 -0.2 1 -0.3 1 -0.5 1 -0.7 1 -0.8 1 -0.6 1 -0.3 1 0.1 1 0.2 1 0.1 1 -0.2 1 -0.5 1 -0.7 1 -0.5 1 -0.1 1 0.5 1 0.9 1 1.1 1 1 1 1 1 0.7 1 0.5 1 0.3 1 0.3 1 0.2 1 0.2 1 0.2 1 0.1 1 0.1 1 0.2 1 0 1 0.1 1 0 1 0.2 1 0.1 1 0.1 1 0.2 1 0.2 1 0.3 1 0.2 1 0.1 1 0.1 1 0.1 1 -0.1 1 -0.2 1 -0.5 1 -1.1 1 -1.9 1 -3.6 1 -5.4 1 -7.4 1 -8.2 1 -6.5 1 -1.7 1 4.2 1 7.7 1 8.2 1 6.9 1 4.8 1 2.8 1 1.4 1 0.6 1 0.3 1 0 1 -0.1 1 0 1 0 1 0.2 1 0.4 1 0.5 1 0.5 1 0.6 1 0.6 1 0.4 1 0.3 1 0.2 1 0 1 0 1 -0.2 1 -0.3 1 -0.4 1 -0.5 1 -0.6 1 -0.7 1 -0.8 1 -0.8 1 -0.9 1 -1 1 -1 1 -1.1 1 -1.1 1 -1.1 1 -1.2 1 -1.3 1 -1.4 1 -1.6 1 -1.9 1 -2.1 1 -2.3 1 -2.3 1 -1.7 1 -0.8 1 0.5 1 1.5 1 1.7 1 1.6 1 1.3 1 0.9 1 0.6 1 0.1 1 -0.2 1 -0.5 1 -0.7 1 -1.4 1 -1.8 1 -2.1 1 -2.3 1 -2.6 1 -2.8 1 -3 1 -3.1 1 -3.1 1 -2.9 1 -2.6 1 -2.1 1 -1.5 1 -0.8 1 0 1 0.8 1 1.4 1 1.8 1 2.2 1 2.3 1 2.3 1 2.2 1 2.1 1 1.8 1 1.5 1 1.2 1 1 1 0.6 1 0.4 1 0.1 1 -0.1 1 -0.4 1 -1 1 -1.8 1 -3.5 1 -5.9 1 -8.6 1 -10.6 1 -10.2 1 -5.7 1 1.7 1 7.7 1 9.7 1 8.4 1 5.8 1 3.2 1 1.3 1 0.1 1 -0.5 1 -0.7 1 -1 1 -1.2 1 -1.2 1 -1.5 1 -1.5 1 -1.8 1 -1.5 1 -1.7 1 -2 1 -2.4 1 -2.9 1 -3.4 1 -4.4 1 -5.6 1 -7.2 1 -9.5 1 -12.3 1 -15.8 1 -19.8 1 -23.9 1 -27.3 1 -28.8 1 -25.9 1 -16.6 1 -1.7 1 13.9 1 24.4 1 28.6 1 27.8 1 24.7 1 20.6 1 16.7 1 13.1 1 10.1 1 7.9 1 6.2 1 4.8 1 4 1 3.4 1 2.8 1 2.5 1 2.3 1 2 1 1.8 1 1.6 1 1.6 1 1.3 1 1.3 1 1.1 1 1.1 1 0.9 1 0.8 1 0.8 1 0.6 1 0.5 1 0.5 1 0.3 1 0.4 1 0.1 1 -0.1 1 -0.3 1 -0.5 1 -0.5 1 -0.7 1 -0.3 1 -0.1 1 -0.1 1 -0.1 1 0 1 0.1 1 0 1 0.1 1 0 1 -0.1 1 0.1 1 -0.1 1 -0.1 1 -0.2 1 -0.2 1 -0.3 1 -0.4 1 -0.4 1 -0.4 1 -0.2 1 -0.1 1 0.1 1 0.4 1 0.4 1 0.4 1 0.5 1 0.4 1 0.4 1 0.2 1 0.3 1 0.2 1 0.3 1 0.2"/><path stroke="#2FB8F0" d="M72 272.5l1 8.5 1 10.1 1 8.8 1 6.3 1 3.8 1 2.2 1 1.1 1 0.6 1 0.3 1 0.2 1 0.2 1 0.1 1 0 1 0 1 0 1 0 1 -0.1 1 0 1 -0.2 1 -0.1 1 -0.2 1 -0.3 1 -0.3 1 -0.6 1 -0.7 1 -0.9 1 -1.2 1 -1.5 1 -1.9 1 -2.5 1 -3 1 -3.6 1 -4.3 1 -5 1 -5.6 1 -6.2 1 -6.6 1 -6.7 1 -6.7 1 -6.3 1 -5.4 1 -4.3 1 -2.8 1 -1 1 0.8 1 2.7 1 4.2 1 5.3 1 6.1 1 6.5 1 6.7 1 6.4 1 6 1 5.5 1 4.8 1 4.2 1 3.4 1 2.9 1 2.2 1 1.8 1 1.3 1 1 1 0.6 1 0.4 1 0.1 1 -0.2 1 -0.7 1 -1.7 1 -3.3 1 -5.1 1 -6.8 1 -7.1 1 -4.9 1 0 1 4.7 1 7.1 1 6.7 1 5 1 3.2 1 1.7 1 0.7 1 0.2 1 -0.1 1 -0.3 1 -0.5 1 -0.8 1 -0.9 1 -1.3 1 -1.5 1 -1.9 1 -2.5 1 -3 1 -3.6 1 -4.2 1 -4.7 1 -5.3 1 -5.6 1 -5.7 1 -5.7 1 -5.4 1 -4.6 1 -3.6 1 -2.3 1 -0.7 1 0.9 1 2.5 1 3.9 1 4.9 1 5.6 1 5.9 1 6 1 5.9 1 5.4 1 5.1 1 4.4 1 3.8 1 3.3 1 2.7 1 2.2 1 1.7 1 1.3 1 1.1 1 0.8 1 0.6 1 0.5 1 0.3 1 0.3 1 0.2 1 0.1 1 0.1 1 0.1 1 0 1 -0.1 1 -0.1 1 -0.2 1 -0.4 1 -0.6 1 -0.8 1 -1.1 1 -1.7 1 -2.1 1 -2.9 1 -3.6 1 -4.5 1 -5.4 1 -6.3 1 -7 1 -7.7 1 -7.9 1 -7.7 1 -7.1 1 -5.8 1 -4.2 1 -2.4 1 -1.2 1 -1 1 -1 1 0.3 1 4.8 1 11.5 1 15 1 14.3 1 11.6 1 8.5 1 6.2 1 4.5 1 3.4 1 2.7 1 2 1 1.5 1 1.2 1 0.9 1 0.7 1 0.6 1 0.4 1 0.3 1 -0.1 1 -0.3 1 -0.4 1 -0.4 1 -0.4 1 -0.4 1 -0.4 1 -0.4 1 -0.3 1 -0.2 1 -0.1 1 0.2 1 0.4 1 0.4 1 0.4 1 0.5 1 0.5 1 0.6 1 0.5 1 0.4 1 0.5 1 0.3 1 0.2 1 0.1 1 -0.3 1 -0.5 1 -0.7 1 -0.9 1 -0.5 1 0 1 0.8 1 1.4 1 1.3 1 1.2 1 1 1 0.6 1 0.5 1 0.6 1 0.6 1 0.7 1 0.8 1 0.7 1 0.7 1 0.6 1 0.6 1 0.5 1 0.5 1 0.4 1 0.4 1 0.4 1 0.3 1 0.3 1 0.2 1 0.1 1 0.1 1 0 1 0.1 1 0.2 1 0.2 1 0.4 1 0.5 1 0.5 1 0.4 1 0.4 1 0.3 1 0.2 1 0.1 1 0 1 -0.1 1 -0.2 1 -0.4 1 -0.5 1 -0.7 1 -0.7 1 -0.8 1 -0.5 1 -0.3 1 0.2 1 0.3 1 0.5 1 0.5 1 0.3 1 -0.4 1 -0.7 1 -1.2 1 -2 1 -3 1 -4.1 1 -4.5 1 -4 1 -1.5 1 1.6 1 4 1 4.6 1 3.9 1 2.9 1 1.8 1 1.1 1 0.5 1 0.2 1 0 1 -0.1 1 -0.3 1 -0.5 1 -0.5 1 -0.7 1 -0.8 1 -0.8 1 -1 1 -1.1 1 -1.1 1 -1.2 1 -1.2 1 -1.3 1 -1.3 1 -1.3 1 -1.5 1 -1.6 1 -2 1 -2.2 1 -2.6 1 -2.7 1 -2.7 1 -2.2 1 -1.2 1 0 1 0.7 1 0.9 1 0.8 1 0.3 1 -0.2 1 -0.8 1 -1 1 -1.6 1 -2.1 1 -2.6 1 -3.3 1 -3.9 1 -4.9 1 -5.1 1 -4.5 1 -4.8 1 -5.4 1 -5.4 1 -5.6 1 -3.8 1 -2.2 1 -3 1 -1.4 1 1 1 1.3 1 1.9 1 1.3 1 0.6 1 2.7 1 5.3 1 3.5 1 3.3 1 4.2 1 4.1 1 5.9 1 4.8 1 2.4 1 2.9 1 2.4 1 0.8 1 1 1 -0.5 1 -2.1 1 -3 1 -5 1 -5.9 1 -5.1 1 -2.6 1 1.5 1 4.2 1 4.9 1 3.9 1 2.5 1 1 1 0.1 1 -0.5 1 -0.8 1 -1 1 -1.2 1 -1.2 1 -1.4 1 -1.6 1 -1.6 1 -1.8 1 -1.9 1 -2.1 1 -1.7 1 -2 1 -2.2 1 -2.6 1 -2.9 1 -3.6 1 -4.4 1 -5.4 1 -6.8 1 -8.7 1 -10.9 1 -13.7 1 -16.6 1 -19.6 1 -22 1 -22.6 1 -19.9 1 -12.6 1 -1.3 1 10.3 1 18.6 1 22.2 1 22.2 1 20.1 1 17.3 1 14.4 1 11.7 1 9.4 1 7.7 1 6.2 1 5.2 1 4.4 1 3.9 1 3.6 1 3.2 1 3 1 2.8 1 2.6 1 2.5 1 2.4 1 2.2 1 2.2 1 2 1 2 1 1.8 1 1.8 1 1.6 1 1.5 1 1.5 1 1.4 1 1.3 1 2.7 1 2.7 1 2.6 1 2.6 1 2.6 1 2.6 1 2.6 1 1.6 1 1 1 0.7 1 0.6 1 0.7 1 0.6 1 0.5 1 0.5 1 0.5 1 0.3 1 0.3 1 0 1 -0.2 1 -0.6 1 -1.1 1 -1.6 1 -2.2 1 -2.5 1 -2.4 1 -1.9 1 -0.6 1 0.8 1 2.1 1 2.7 1 2.7 1 2.3 1 1.9 1 1.3 1 0.9 1 0.6 1 0.3 1 0.1 1 0.1"/><path stroke="#F5561C" d="M72 337.8l1 -0.1 1 0 1 -0.1 1 -0.1 1 0 1 -0.1 1 -0.1 1 -0.1 1 -0.1 1 -0.1 1 0 1 -0.1 1 -0.1 1 -0.1 1 -0.1 1 -0.2 1 -0.1 1 -0.1 1 -0.1 1 -0.2 1 -0.2 1 -0.1 1 -0.2 1 -0.3 1 -0.3 1 -0.4 1 -0.5 1 -0.7 1 -0.8 1 -1.2 1 -1.5 1 -1.9 1 -2.3 1 -3 1 -3.5 1 -4 1 -4.5 1 -4.9 1 -5.1 1 -4.9 1 -4.6 1 -4 1 -3.1 1 -2.3 1 -1.7 1 -1.3 1 -0.6 1 0.6 1 3.2 1 6.4 1 8.3 1 8.4 1 7.3 1 5.8 1 4.1 1 3 1 2.1 1 1.5 1 1 1 0.7 1 0.5 1 0.2 1 0.1 1 -0.2 1 -0.6 1 -1.1 1 -2.1 1 -3.5 1 -5.5 1 -7.3 1 -8.4 1 -8 1 -5.1 1 0 1 5 1 7.9 1 8.4 1 7.2 1 5.4 1 3.5 1 2 1 1.1 1 0.5 1 0.2 1 0 1 -0.1 1 -0.3 1 -0.4 1 -0.6 1 -0.8 1 -1.2 1 -1.5 1 -1.9 1 -2.3 1 -2.8 1 -3.2 1 -3.7 1 -3.9 1 -4.1 1 -3.9 1 -3.6 1 -3 1 -1.9 1 -0.7 1 0.6 1 1.8 1 2.8 1 3.5 1 3.8 1 3.9 1 3.8 1 3.5 1 3.1 1 2.7 1 2.1 1 1.7 1 1.2 1 0.8 1 0.2 1 -0.4 1 -1.2 1 -2.3 1 -3.5 1 -4.9 1 -5.8 1 -6.1 1 -5.3 1 -3 1 0.7 1 3.9 1 6 1 6.5 1 6.1 1 5 1 3.8 1 2.7 1 1.7 1 1.2 1 0.8 1 0.6 1 0.5 1 0.4 1 0.3 1 0.3 1 0.2 1 0.3 1 0.1 1 0.1 1 0.1 1 -0.1 1 -0.4 1 -1.2 1 -2.5 1 -5.1 1 -8.8 1 -12.7 1 -15.1 1 -13.3 1 -5.4 1 6 1 13.9 1 15.7 1 13.3 1 9.4 1 5.6 1 3.2 1 1.7 1 1 1 0.7 1 0.6 1 0.4 1 0.5 1 0.3 1 0.4 1 0.3 1 0.3 1 0.2 1 0.2 1 0.1 1 0.1 1 0.1 1 0.1 1 0.1 1 0.2 1 0.1 1 0.2 1 0.3 1 0.4 1 0.2 1 0.2 1 0.3 1 0.4 1 0.3 1 0.3 1 0.4 1 0.3 1 0.3 1 0.2 1 0.3 1 0.1 1 0.1 1 0 1 -0.1 1 -0.2 1 0 1 0.1 1 0.3 1 0.4 1 0.4 1 0.2 1 0.2 1 0.1 1 0 1 0.2 1 0.3 1 0.4 1 0.5 1 0.4 1 0.4 1 0.3 1 0.3 1 0.1 1 0.2 1 0.1 1 0.1 1 0 1 0 1 0 1 0 1 -0.1 1 -0.1 1 -0.1 1 -0.1 1 -0.1 1 -0.1 1 0 1 0 1 0 1 -0.1 1 0 1 -0.2 1 -0.1 1 -0.2 1 -0.4 1 -0.5 1 -0.8 1 -1.5 1 -2.4 1 -3.8 1 -5.2 1 -5.7 1 -4.5 1 -1.4 1 2.7 1 5.1 1 5.5 1 4.5 1 3 1 1.5 1 0.7 1 0.2 1 -0.1 1 -0.2 1 -0.3 1 -0.1 1 -0.1 1 0.1 1 0.2 1 0.3 1 0.4 1 0.4 1 0.4 1 0.3 1 0.2 1 0.2 1 0.1 1 0 1 -0.1 1 -0.2 1 -0.2 1 -0.4 1 -0.4 1 -0.4 1 -0.5 1 -0.6 1 -0.6 1 -0.7 1 -0.7 1 -0.7 1 -0.8 1 -0.7 1 -0.8 1 -0.8 1 -0.9 1 -0.9 1 -1.1 1 -1.2 1 -1.3 1 -1.2 1 -1 1 -0.5 1 0 1 0.5 1 0.6 1 0.5 1 0.2 1 0.1 1 -0.2 1 -0.4 1 -0.6 1 -0.9 1 -1.1 1 -1.3 1 -1.5 1 -1.8 1 -2 1 -2.2 1 -2.4 1 -2.6 1 -2.6 1 -2.6 1 -2.5 1 -2.2 1 -1.8 1 -1.3 1 -0.7 1 0.1 1 0.6 1 1.3 1 1.7 1 1.9 1 2 1 2.1 1 2 1 1.8 1 1.6 1 1.4 1 1.1 1 0.8 1 0.7 1 0.3 1 0.2 1 -0.1 1 -0.4 1 -1 1 -1.8 1 -3.5 1 -5.8 1 -8.2 1 -9.7 1 -8.6 1 -4 1 2.9 1 7.5 1 8.5 1 7 1 4.6 1 2.3 1 0.8 1 -0.3 1 -0.7 1 -1 1 -1.2 1 -1.4 1 -1.5 1 -1.7 1 -1.8 1 -2 1 -2 1 -2.1 1 -2.4 1 -2.7 1 -3.1 1 -3.7 1 -4.4 1 -5.5 1 -6.8 1 -8.6 1 -11 1 -13.9 1 -17.1 1 -20.4 1 -23.4 1 -24.4 1 -21.9 1 -14.2 1 -1.8 1 11.2 1 20 1 23.3 1 22.5 1 19.5 1 15.7 1 11.6 1 8 1 5.3 1 3.4 1 3 1 3.7 1 5.2 1 6.5 1 7 1 6.7 1 6.1 1 5.1 1 4.3 1 3.4 1 2.8 1 2.4 1 2 1 1.9 1 1.7 1 1.5 1 1.5 1 1.3 1 1.2 1 1.1 1 1.1 1 0.9 1 0.7 1 0.6 1 0.6 1 0.5 1 0.5 1 0.4 1 0.4 1 0.5 1 0.5 1 0.3 1 0.3 1 0.2 1 0.2 1 0.1 1 0.1 1 0.1 1 0 1 -0.1 1 -0.1 1 -0.2 1 -0.2 1 -0.4 1 -0.5 1 -0.5 1 -0.5 1 -0.6 1 -0.5 1 -0.4 1 -0.2 1 -0.1 1 0 1 -0.1 1 -0.1 1 -0.1 1 -0.2 1 -0.1 1 -0.3 1 -0.2 1 -0.4 1 -0.2"/><path stroke="#1F66D0" d="M72 290.1l1 6.6 1 8 1 6.6 1 4 1 1 1 -1.7 1 -4.2 1 -5.6 1 -5.1 1 -1.9 1 2.5 1 5.6 1 6.3 1 5.4 1 3.7 1 2.3 1 1.2 1 0.7 1 0.3 1 0.2 1 0.1 1 0.1 1 0 1 -0.4 1 -0.5 1 -0.6 1 -0.8 1 -1.1 1 -1.4 1 -1.8 1 -2.3 1 -3 1 -3.7 1 -4.5 1 -5.2 1 -6 1 -6.5 1 -6.9 1 -7 1 -6.6 1 -5.9 1 -4.6 1 -3.1 1 -1.5 1 -0.1 1 1 1 2 1 3.3 1 5.3 1 7.7 1 8.9 1 8.7 1 7.6 1 6 1 4.4 1 3.3 1 2.3 1 1.6 1 1.3 1 0.9 1 0.7 1 0.4 1 0.1 1 0 1 -0.4 1 -1 1 -2.1 1 -4.1 1 -6.9 1 -10.2 1 -12.6 1 -12.7 1 -8.3 1 0.1 1 8.5 1 12.7 1 12.8 1 10.3 1 7.1 1 4.3 1 2.3 1 1.2 1 0.5 1 0.3 1 0.1 1 -0.1 1 -0.2 1 -0.5 1 -0.7 1 -1 1 -1.5 1 -2 1 -2.5 1 -3.2 1 -3.8 1 -4.4 1 -5 1 -5.4 1 -5.5 1 -5.3 1 -4.8 1 -3.9 1 -2.5 1 -0.9 1 1 1 2.5 1 4 1 4.9 1 5.4 1 5.5 1 5.5 1 5 1 4.4 1 3.8 1 3.2 1 2.4 1 1.7 1 1 1 0.1 1 -1 1 -2.3 1 -3.8 1 -5.7 1 -7.5 1 -8.7 1 -9 1 -7.6 1 -4.2 1 0.6 1 5.2 1 8.1 1 9.2 1 8.8 1 7.4 1 5.7 1 4 1 2.7 1 1.6 1 1 1 0.5 1 0.3 1 0.2 1 0.1 1 0.4 1 0.3 1 0.2 1 0.1 1 0.1 1 -0.1 1 -0.4 1 -0.7 1 -1.7 1 -3.9 1 -8.2 1 -15.1 1 -23.6 1 -30.1 1 -28.1 1 -12.1 1 12.9 1 28.9 1 30.8 1 24.5 1 15.9 1 9 1 4.6 1 2.6 1 1.5 1 1.2 1 0.9 1 0.8 1 0.7 1 0.6 1 0.5 1 0.5 1 0.5 1 0.5 1 0.5 1 0.5 1 0.4 1 0.4 1 0.4 1 0.4 1 0.4 1 0.4 1 0.5 1 0.5 1 0.5 1 0.2 1 0.3 1 0.3 1 0.3 1 0.4 1 0.3 1 0.4 1 0.3 1 0.3 1 0.3 1 0.2 1 0.1 1 -0.1 1 -0.4 1 -0.5 1 -0.6 1 -0.4 1 0 1 0.6 1 0.8 1 0.8 1 0.6 1 0.3 1 0 1 0.1 1 0.3 1 0.5 1 0.8 1 0.8 1 0.7 1 0.7 1 0.5 1 0.5 1 0.3 1 0.3 1 0.2 1 0.2 1 0.2 1 0.1 1 0.1 1 0.1 1 0 1 0.1 1 0 1 0 1 0.1 1 0.1 1 0.2 1 0.1 1 0.2 1 0.1 1 0.2 1 0 1 0 1 0 1 -0.2 1 -0.4 1 -0.7 1 -1.4 1 -2.9 1 -4.8 1 -7 1 -8.2 1 -6.9 1 -1.9 1 4.4 1 7.9 1 8.1 1 6.2 1 4 1 2.1 1 0.9 1 0.3 1 0.1 1 -0.1 1 -0.1 1 -0.1 1 0 1 0.1 1 0.3 1 0.4 1 0.5 1 0.5 1 0.4 1 0.4 1 0.4 1 0.2 1 0.1 1 0 1 0 1 -0.2 1 -0.2 1 -0.3 1 -0.4 1 -0.4 1 -0.6 1 -0.5 1 -0.7 1 -0.6 1 -0.8 1 -0.8 1 -0.8 1 -0.9 1 -0.9 1 -1 1 -1.2 1 -1.3 1 -1.5 1 -1.8 1 -1.9 1 -1.9 1 -1.5 1 -1 1 -0.4 1 0 1 0.2 1 0.2 1 0 1 -0.2 1 -0.3 1 -0.6 1 -0.8 1 -0.9 1 -1 1 -1.3 1 -1.5 1 -1.8 1 -2 1 -2.3 1 -2.4 1 -2.6 1 -2.6 1 -2.7 1 -2.5 1 -2.2 1 -1.8 1 -1.3 1 -0.7 1 0 1 0.6 1 1.2 1 1.6 1 1.8 1 2 1 1.9 1 1.9 1 1.8 1 1.5 1 1.3 1 1 1 0.8 1 0.5 1 0.3 1 0.1 1 -0.1 1 -0.4 1 -1 1 -1.7 1 -3.2 1 -5.2 1 -7.4 1 -8.7 1 -7.8 1 -3.6 1 2.5 1 6.6 1 7.5 1 6.2 1 4 1 2 1 0.6 1 -0.3 1 -0.6 1 -1 1 -1.1 1 -1.2 1 -1.3 1 -1.5 1 -1.7 1 -1.8 1 -1.6 1 -1.8 1 -2.1 1 -2.4 1 -2.8 1 -3.3 1 -4 1 -5 1 -6.4 1 -8.2 1 -10.4 1 -13.3 1 -16.5 1 -19.7 1 -22.6 1 -23.7 1 -21.3 1 -13.8 1 -1.7 1 10.9 1 19.3 1 22.5 1 21.5 1 18.3 1 14.3 1 10 1 6.1 1 3.2 1 1.5 1 1.4 1 2.8 1 5.2 1 7.2 1 8 1 7.9 1 7 1 5.7 1 4.6 1 3.5 1 2.7 1 2.1 1 1.8 1 1.5 1 1.4 1 1.2 1 1.1 1 0.9 1 0.9 1 0.7 1 0.7 1 0.6 1 1 1 0.9 1 0.6 1 0.3 1 0.2 1 0 1 -0.1 1 -0.3 1 -0.2 1 -0.3 1 -0.2 1 -0.3 1 -0.2 1 -0.3 1 -0.3 1 -0.3 1 -0.4 1 -0.3 1 -0.5 1 -0.4 1 -0.5 1 -0.6 1 -0.6 1 -0.6 1 -0.6 1 -0.6 1 -0.5 1 -0.2 1 -0.2 1 0.1 1 0.1 1 0.2 1 0.2 1 0.2 1 0.2 1 0.1 1 0.1 1 0.1 1 0.1 1 0.1"/><path stroke="#D81E3C" d="M72 286.2l1 6.7 1 7.9 1 6.5 1 3.9 1 0.7 1 -2.3 1 -5.1 1 -6.5 1 -6 1 -2.3 1 2.9 1 6.6 1 7.4 1 6.2 1 4.4 1 2.7 1 1.4 1 0.8 1 0.4 1 0.2 1 0.1 1 0.1 1 -0.1 1 -0.6 1 -0.7 1 -1 1 -1.2 1 -1.6 1 -2.1 1 -2.7 1 -3.4 1 -4.1 1 -5.1 1 -5.8 1 -6.7 1 -7.2 1 -7.7 1 -7.6 1 -7.2 1 -6.2 1 -4.8 1 -2.9 1 -0.8 1 0.9 1 2.3 1 3 1 3.5 1 4.3 1 5.9 1 7.8 1 8.8 1 8.3 1 7.1 1 5.4 1 3.8 1 2.7 1 1.8 1 1.1 1 1.1 1 0.7 1 0.5 1 0.3 1 0.1 1 -0.1 1 -0.4 1 -1 1 -2.3 1 -4.3 1 -7.3 1 -10.8 1 -13.3 1 -13.4 1 -8.8 1 0.1 1 9 1 13.6 1 13.5 1 11 1 7.5 1 4.5 1 2.5 1 1.3 1 0.6 1 0.3 1 0.1 1 -0.1 1 -0.2 1 -0.5 1 -0.7 1 -1.2 1 -1.6 1 -2.1 1 -2.8 1 -3.4 1 -4.2 1 -4.8 1 -5.4 1 -5.9 1 -6 1 -5.8 1 -5.3 1 -4.2 1 -2.7 1 -0.9 1 1 1 2.9 1 4.3 1 5.4 1 6 1 6.2 1 5.9 1 5.6 1 4.9 1 4.2 1 3.5 1 2.8 1 1.9 1 1.2 1 0.4 1 -0.7 1 -1.9 1 -3.5 1 -5.2 1 -6.9 1 -8 1 -8.3 1 -7 1 -3.8 1 0.6 1 4.9 1 7.7 1 8.7 1 8.3 1 7 1 5.4 1 3.9 1 2.6 1 1.6 1 1 1 0.6 1 0.4 1 0.2 1 0.2 1 0.3 1 0.3 1 0.2 1 0.1 1 0 1 0 1 -0.3 1 -0.5 1 -1.3 1 -2.8 1 -6.4 1 -13.1 1 -22.4 1 -30.7 1 -30.3 1 -13.5 1 14.1 1 31.1 1 31.3 1 23.1 1 13.7 1 7.1 1 3.5 1 1.9 1 1.2 1 1 1 0.7 1 0.7 1 0.5 1 0.5 1 0.5 1 0.3 1 0.4 1 0.3 1 0.4 1 0.5 1 0.4 1 0.5 1 0.5 1 0.5 1 0.6 1 0.7 1 0.8 1 0.8 1 0.8 1 0.4 1 0.5 1 0.5 1 0.5 1 0.5 1 0.5 1 0.5 1 0.4 1 0.4 1 0.3 1 0.2 1 0.1 1 0 1 -0.3 1 -0.4 1 -0.5 1 -0.4 1 -0.2 1 0.3 1 0.4 1 0.3 1 0.1 1 -0.3 1 -0.4 1 -0.3 1 -0.1 1 0.4 1 0.6 1 0.8 1 0.7 1 0.5 1 0.4 1 0.3 1 0.2 1 0 1 0 1 0 1 -0.1 1 -0.1 1 -0.1 1 -0.3 1 -0.2 1 -0.3 1 -0.3 1 -0.2 1 -0.2 1 0 1 0.1 1 0.2 1 0.2 1 0.2 1 0.1 1 0.1 1 0 1 -0.1 1 -0.3 1 -0.6 1 -1.2 1 -2.1 1 -3.9 1 -6.3 1 -8.9 1 -10.2 1 -8.4 1 -2.2 1 5.4 1 10 1 10.2 1 8.2 1 5.4 1 3.1 1 1.6 1 0.8 1 0.3 1 0.1 1 0 1 0 1 0.2 1 0.4 1 0.7 1 0.8 1 0.9 1 0.9 1 0.9 1 0.8 1 0.6 1 0.5 1 0.4 1 0.3 1 0.1 1 0 1 0 1 -0.2 1 -0.2 1 -0.3 1 -0.4 1 -0.5 1 -0.5 1 -0.6 1 -0.7 1 -0.7 1 -0.7 1 -0.8 1 -0.9 1 -0.9 1 -1.1 1 -1.3 1 -1.4 1 -1.7 1 -1.9 1 -1.8 1 -1.5 1 -1.1 1 -0.6 1 -0.3 1 -0.1 1 -0.1 1 -0.3 1 -0.4 1 -0.6 1 -0.9 1 -0.9 1 -1.1 1 -1.2 1 -1.5 1 -1.7 1 -2.1 1 -2.3 1 -2.5 1 -2.8 1 -3 1 -3 1 -3 1 -2.9 1 -2.6 1 -2 1 -1.5 1 -0.7 1 0 1 0.8 1 1.5 1 1.9 1 2.2 1 2.3 1 2.4 1 2.3 1 2 1 1.9 1 1.6 1 1.2 1 1 1 0.7 1 0.5 1 0.2 1 -0.1 1 -0.4 1 -1 1 -1.9 1 -3.5 1 -5.7 1 -8.2 1 -9.7 1 -8.7 1 -3.9 1 2.8 1 7.5 1 8.6 1 7.1 1 4.7 1 2.4 1 0.8 1 -0.1 1 -0.6 1 -0.8 1 -1 1 -1.2 1 -1.3 1 -1.4 1 -1.5 1 -1.7 1 -1.5 1 -1.7 1 -1.9 1 -2.1 1 -2.5 1 -3 1 -3.6 1 -4.5 1 -5.7 1 -7.2 1 -9.2 1 -11.6 1 -14.4 1 -17.3 1 -19.6 1 -20.7 1 -18.5 1 -12 1 -1.5 1 9.3 1 16.9 1 19.5 1 18.7 1 16 1 12.5 1 8.8 1 5.6 1 2.9 1 1.5 1 1.4 1 2.6 1 4.6 1 6.4 1 7 1 6.9 1 6.2 1 5.1 1 4.1 1 3.1 1 2.5 1 2 1 1.7 1 1.4 1 1.3 1 1.1 1 1.1 1 0.9 1 0.8 1 0.8 1 0.7 1 0.5 1 0.4 1 0.4 1 0.3 1 0.2 1 0.3 1 0.2 1 0.3 1 0.4 1 0.4 1 0.4 1 0.3 1 0.4 1 0.3 1 0.4 1 0.3 1 0.2 1 0.2 1 0.2 1 0.1 1 0.1 1 0 1 -0.1 1 -0.2 1 -0.2 1 -0.3 1 -0.2 1 -0.2 1 0 1 0.1 1 0.2 1 0.3 1 0.3 1 0.2 1 0.2 1 0.2 1 0 1 0.1 1 0 1 0 1 0"/><path stroke="#D81E3C" d="M72 371.7l1 0 1 0 1 0 1 0 1 0 1 0 1 0 1 0 1 0 1 0 1 0 1 0 1 0 1 0 1 0 1 0 1 0 1 0 1 0 1 0 1 0 1 0 1 0 1 0 1 0 1 0 1 0 1 0 1 0 1 0 1 0 1 0 1 0 1 -0.1 1 0 1 0 1 0 1 -0.1 1 0 1 -0.1 1 -0.1 1 -0.2 1 -0.4 1 -0.9 1 -1.9 1 -3.2 1 -4.3 1 -4.3 1 -1.8 1 1.8 1 4.3 1 4.3 1 3.2 1 1.9 1 0.9 1 0.4 1 0.2 1 0.1 1 0.1 1 0.1 1 0 1 0 1 0 1 0.1 1 -0.1 1 0 1 0 1 -0.2 1 -0.3 1 -0.4 1 -0.7 1 -0.8 1 -0.7 1 -0.3 1 0.3 1 0.7 1 0.8 1 0.7 1 0.5 1 0.3 1 0.1 1 0.1 1 0 1 0 1 0 1 0 1 0 1 -0.1 1 -0.1 1 -0.1 1 -0.1 1 -0.1 1 -0.2 1 -0.2 1 -0.2 1 -0.2 1 -0.2 1 -0.2 1 -0.3 1 -0.1 1 -0.2 1 -0.1 1 0 1 0 1 0.1 1 0.2 1 0.2 1 0.2 1 0.2 1 0.3 1 0.2 1 0.2 1 0.2 1 0.2 1 0.2 1 0.1 1 0.1 1 0.1 1 0 1 0.1 1 0 1 0.1 1 0 1 0 1 0 1 0.1 1 0 1 0 1 0 1 0 1 0 1 0 1 0 1 0 1 0 1 0 1 0 1 0.1 1 0 1 0 1 0 1 0 1 0 1 0 1 0 1 0 1 0 1 -0.1 1 0 1 0 1 0 1 -0.1 1 -0.2 1 -0.4 1 -0.6 1 -0.8 1 -1.1 1 -0.9 1 -0.3 1 0.3 1 1 1 1 1 0.9 1 0.6 1 0.3 1 0.2 1 0.1 1 0.1 1 0 1 0 1 0 1 0.1 1 0 1 0 1 0 1 0 1 0 1 0 1 0 1 0 1 0 1 -0.1 1 0 1 -0.1 1 0 1 -0.1 1 0 1 -0.1 1 0 1 0 1 -0.1 1 0 1 0 1 0 1 0 1 -0.1 1 0 1 0 1 0 1 -0.1 1 -0.1 1 -0.1 1 -0.1 1 -0.1 1 -0.1 1 -0.1 1 0.1 1 0 1 0.1 1 0 1 0 1 0 1 -0.1 1 0.1 1 0 1 0.1 1 0.1 1 0.1 1 0.1 1 0 1 0.1 1 0 1 0.1 1 0 1 0.1 1 0 1 0 1 0 1 0 1 0 1 0 1 0 1 0 1 0 1 0.1 1 0.1 1 0.1 1 0.1 1 0.1 1 0.1 1 0 1 0.1 1 0.1 1 0 1 0 1 0 1 -0.2 1 -0.2 1 -0.5 1 -0.6 1 -0.7 1 -0.6 1 -0.1 1 0.3 1 0.8 1 0.9 1 0.7 1 0.6 1 0.4 1 0.2 1 0.2 1 0.1 1 0.1 1 0 1 0.1 1 0.1 1 0.1 1 0.2 1 0.2 1 0.2 1 0.2 1 0.1 1 0.2 1 0.1 1 0.1 1 0.1 1 0.1 1 0 1 0.1 1 0 1 0 1 0 1 0 1 -0.1 1 0 1 -0.1 1 -0.1 1 0 1 -0.1 1 -0.1 1 -0.1 1 -0.2 1 -0.1 1 -0.3 1 -0.3 1 -0.5 1 -0.7 1 -0.7 1 -0.7 1 -0.4 1 0.1 1 0.3 1 0.4 1 0.5 1 0.3 1 0.2 1 0 1 0 1 -0.1 1 -0.1 1 -0.1 1 -0.1 1 0 1 0 1 0 1 0 1 0 1 0 1 0 1 0 1 0 1 0 1 0 1 0 1 0 1 0.1 1 0 1 0 1 0 1 0 1 0 1 0 1 0 1 0 1 0 1 0 1 0 1 0 1 0 1 0 1 0 1 0 1 0 1 0 1 0 1 0 1 0 1 0 1 0 1 0 1 0 1 0 1 0 1 0 1 0 1 0 1 0 1 0 1 0 1 0 1 0 1 0 1 0 1 0 1 0 1 0 1 0 1 0 1 0 1 0 1 0 1 -0.1 1 0 1 0 1 -0.1 1 -0.1 1 -0.1 1 -0.2 1 -0.2 1 -0.4 1 -0.6 1 -0.8 1 -1 1 -1 1 -1 1 -0.6 1 0 1 0.6 1 0.9 1 1 1 0.9 1 0.7 1 0.3 1 -0.1 1 -0.4 1 -0.7 1 -0.6 1 -0.2 1 0.4 1 0.7 1 0.9 1 0.7 1 0.5 1 0.4 1 0.1 1 0.1 1 0.1 1 0 1 0 1 0.1 1 0 1 0 1 0 1 0 1 0 1 0 1 0 1 0 1 0 1 0.2 1 0.2 1 0.1 1 0.2 1 0.2 1 0.2 1 0.1 1 0.1 1 0 1 0 1 0 1 0 1 0 1 0 1 0 1 0 1 0 1 -0.1 1 0 1 0 1 0 1 -0.1 1 0 1 -0.1 1 -0.1 1 0 1 -0.1 1 0 1 0 1 0 1 0 1 0 1 0 1 0 1 0 1 0 1 0 1 0 1 0 1 0"/><path stroke="#F2B01E" d="M72 375.8l1 0 1 0 1 0 1 0 1 0 1 0 1 0 1 0.1 1 0 1 0 1 0 1 0 1 0 1 0 1 0 1 0 1 0 1 0 1 0 1 0 1 0 1 0 1 0 1 0 1 0 1 0 1 0 1 0 1 0 1 0 1 0 1 0 1 0 1 0 1 0 1 0 1 0 1 0 1 0 1 0 1 -0.1 1 0 1 -0.1 1 -0.1 1 -0.2 1 -0.4 1 -0.4 1 -0.4 1 -0.1 1 0.1 1 0.4 1 0.4 1 0.4 1 0.2 1 0.2 1 0 1 0.1 1 0 1 0 1 0 1 0 1 0 1 0 1 0 1 0 1 0.1 1 0 1 0 1 0 1 0 1 0 1 0 1 0 1 0 1 0 1 0 1 0 1 0 1 0 1 0 1 0 1 0 1 0 1 0 1 0 1 0 1 0 1 0 1 0 1 0 1 0 1 0 1 0 1 0 1 0 1 0 1 0 1 0 1 0 1 0 1 0 1 0 1 0 1 0 1 0 1 0 1 0.1 1 0 1 0 1 0 1 0 1 0 1 0 1 0 1 0 1 0 1 0 1 0 1 0 1 0 1 0 1 0 1 0 1 0 1 0 1 0 1 0 1 0 1 0 1 0 1 0 1 0 1 0 1 0 1 0 1 0 1 0 1 0 1 0 1 0 1 0 1 0 1 0 1 0 1 0 1 0 1 0 1 0 1 0 1 0 1 0 1 0 1 0 1 0 1 0 1 0 1 0.1 1 0 1 0 1 0 1 0 1 0 1 0 1 0 1 0 1 0 1 0 1 0 1 0 1 0 1 0 1 0 1 0 1 0 1 0 1 0 1 0 1 -0.1 1 0 1 0 1 0 1 -0.1 1 0 1 -0.1 1 0 1 -0.1 1 -0.1 1 0 1 0 1 -0.1 1 0 1 0 1 0 1 -0.1 1 0 1 0 1 0 1 0 1 0 1 -0.1 1 0 1 -0.1 1 0 1 -0.1 1 -0.1 1 0 1 0 1 0 1 0.1 1 0 1 -0.1 1 0 1 0 1 0 1 0 1 0.1 1 0.1 1 0 1 0.1 1 0.1 1 0 1 0 1 0.1 1 0 1 0 1 0.1 1 0 1 0 1 0 1 0 1 0 1 0 1 -0.1 1 0 1 0.1 1 0 1 0.1 1 0 1 0.1 1 0.1 1 0 1 0 1 0.1 1 0 1 0 1 0 1 -0.1 1 0 1 -0.1 1 -0.1 1 -0.1 1 0 1 0 1 0.1 1 0 1 0.2 1 0.1 1 0.1 1 0.1 1 0 1 0 1 0.1 1 0 1 0 1 0 1 0 1 0.1 1 0.1 1 0 1 0.1 1 0.1 1 0.1 1 0.1 1 0.1 1 0 1 0.1 1 0 1 0 1 0 1 0.1 1 -0.1 1 0 1 0 1 0 1 0 1 -0.1 1 0 1 0 1 -0.1 1 0 1 -0.1 1 0 1 -0.1 1 -0.1 1 -0.1 1 -0.2 1 -0.1 1 -0.2 1 -0.2 1 -0.2 1 0 1 0 1 0.1 1 0.2 1 0.1 1 0.1 1 0 1 0.1 1 0 1 0 1 -0.1 1 0 1 0 1 0 1 0 1 0 1 0 1 0 1 0 1 0 1 0 1 0 1 0 1 0 1 0 1 0 1 0 1 0 1 0 1 0 1 0 1 0 1 0 1 0 1 0 1 0 1 0 1 0 1 0 1 0 1 0 1 0 1 0 1 0 1 0 1 0 1 0 1 0 1 0 1 0 1 0 1 -0.1 1 0 1 0 1 0 1 0 1 0 1 0 1 0 1 0 1 0 1 0 1 0 1 0 1 0 1 0 1 -0.1 1 0 1 0 1 0 1 0 1 -0.1 1 0 1 -0.1 1 -0.1 1 -0.1 1 -0.1 1 -0.2 1 -0.3 1 -0.4 1 -0.5 1 -0.5 1 -0.6 1 -0.6 1 -0.6 1 -0.2 1 -0.1 1 0.3 1 0.5 1 0.6 1 0.6 1 0.4 1 0.4 1 0.1 1 -0.1 1 -0.2 1 -0.2 1 0 1 0.2 1 0.4 1 0.5 1 0.4 1 0.2 1 0.2 1 0.1 1 0 1 0.1 1 0 1 0 1 0 1 0 1 0 1 0 1 0 1 0 1 0 1 0 1 0 1 0 1 0 1 0 1 0.1 1 0 1 0 1 0 1 0.1 1 0 1 0 1 0 1 0.1 1 0 1 0 1 0 1 0 1 0 1 0.1 1 0 1 0 1 0 1 0 1 0 1 -0.1 1 0 1 0 1 0 1 -0.1 1 0 1 0 1 0 1 0 1 0 1 0.1 1 0 1 0 1 0 1 -0.1 1 0 1 0 1 0"/></g><g stroke="#262626" stroke-width="1" fill="none"><path d="M68.5 10.5H535.5V380.5H68.5Z"/><path d="M90.5 380.5V376.0M90.5 10.5V15.0"/><path d="M163.5 380.5V376.0M163.5 10.5V15.0"/><path d="M237.5 380.5V376.0M237.5 10.5V15.0"/><path d="M310.5 380.5V376.0M310.5 10.5V15.0"/><path d="M384.5 380.5V376.0M384.5 10.5V15.0"/><path d="M457.5 380.5V376.0M457.5 10.5V15.0"/><path d="M531.5 380.5V376.0M531.5 10.5V15.0"/><path d="M68.5 380.5H73.0M535.5 380.5H531.0"/><path d="M68.5 333.5H73.0M535.5 333.5H531.0"/><path d="M68.5 287.5H73.0M535.5 287.5H531.0"/><path d="M68.5 241.5H73.0M535.5 241.5H531.0"/><path d="M68.5 195.5H73.0M535.5 195.5H531.0"/><path d="M68.5 148.5H73.0M535.5 148.5H531.0"/><path d="M68.5 102.5H73.0M535.5 102.5H531.0"/><path d="M68.5 56.5H73.0M535.5 56.5H531.0"/><path d="M68.5 10.5H73.0M535.5 10.5H531.0"/></g><g font-family="Liberation Sans, Arial, sans-serif" font-size="14" fill="#262626"><text x="90.4" y="401" text-anchor="middle">3328</text><text x="163.9" y="401" text-anchor="middle">3329</text><text x="237.4" y="401" text-anchor="middle">3330</text><text x="310.9" y="401" text-anchor="middle">3331</text><text x="384.4" y="401" text-anchor="middle">3332</text><text x="457.9" y="401" text-anchor="middle">3333</text><text x="531.4" y="401" text-anchor="middle">3334</text><text x="61.4" y="386.0" text-anchor="end">0</text><text x="61.4" y="339.8" text-anchor="end">0.005</text><text x="61.4" y="293.5" text-anchor="end">0.01</text><text x="61.4" y="247.2" text-anchor="end">0.015</text><text x="61.4" y="201.0" text-anchor="end">0.02</text><text x="61.4" y="154.8" text-anchor="end">0.025</text><text x="61.4" y="108.5" text-anchor="end">0.03</text><text x="61.4" y="62.2" text-anchor="end">0.035</text><text x="61.4" y="16.0" text-anchor="end">0.04</text></g><text x="301.5" y="421.7" text-anchor="middle" font-family="Liberation Sans, Arial, sans-serif" font-size="15.8" fill="#262626">Wavelength (nm)</text><text transform="translate(17.4 195.4) rotate(-90)" text-anchor="middle" font-family="Liberation Sans, Arial, sans-serif" font-size="16" fill="#262626">Norm. PA signal (V)</text></svg></body></html>
